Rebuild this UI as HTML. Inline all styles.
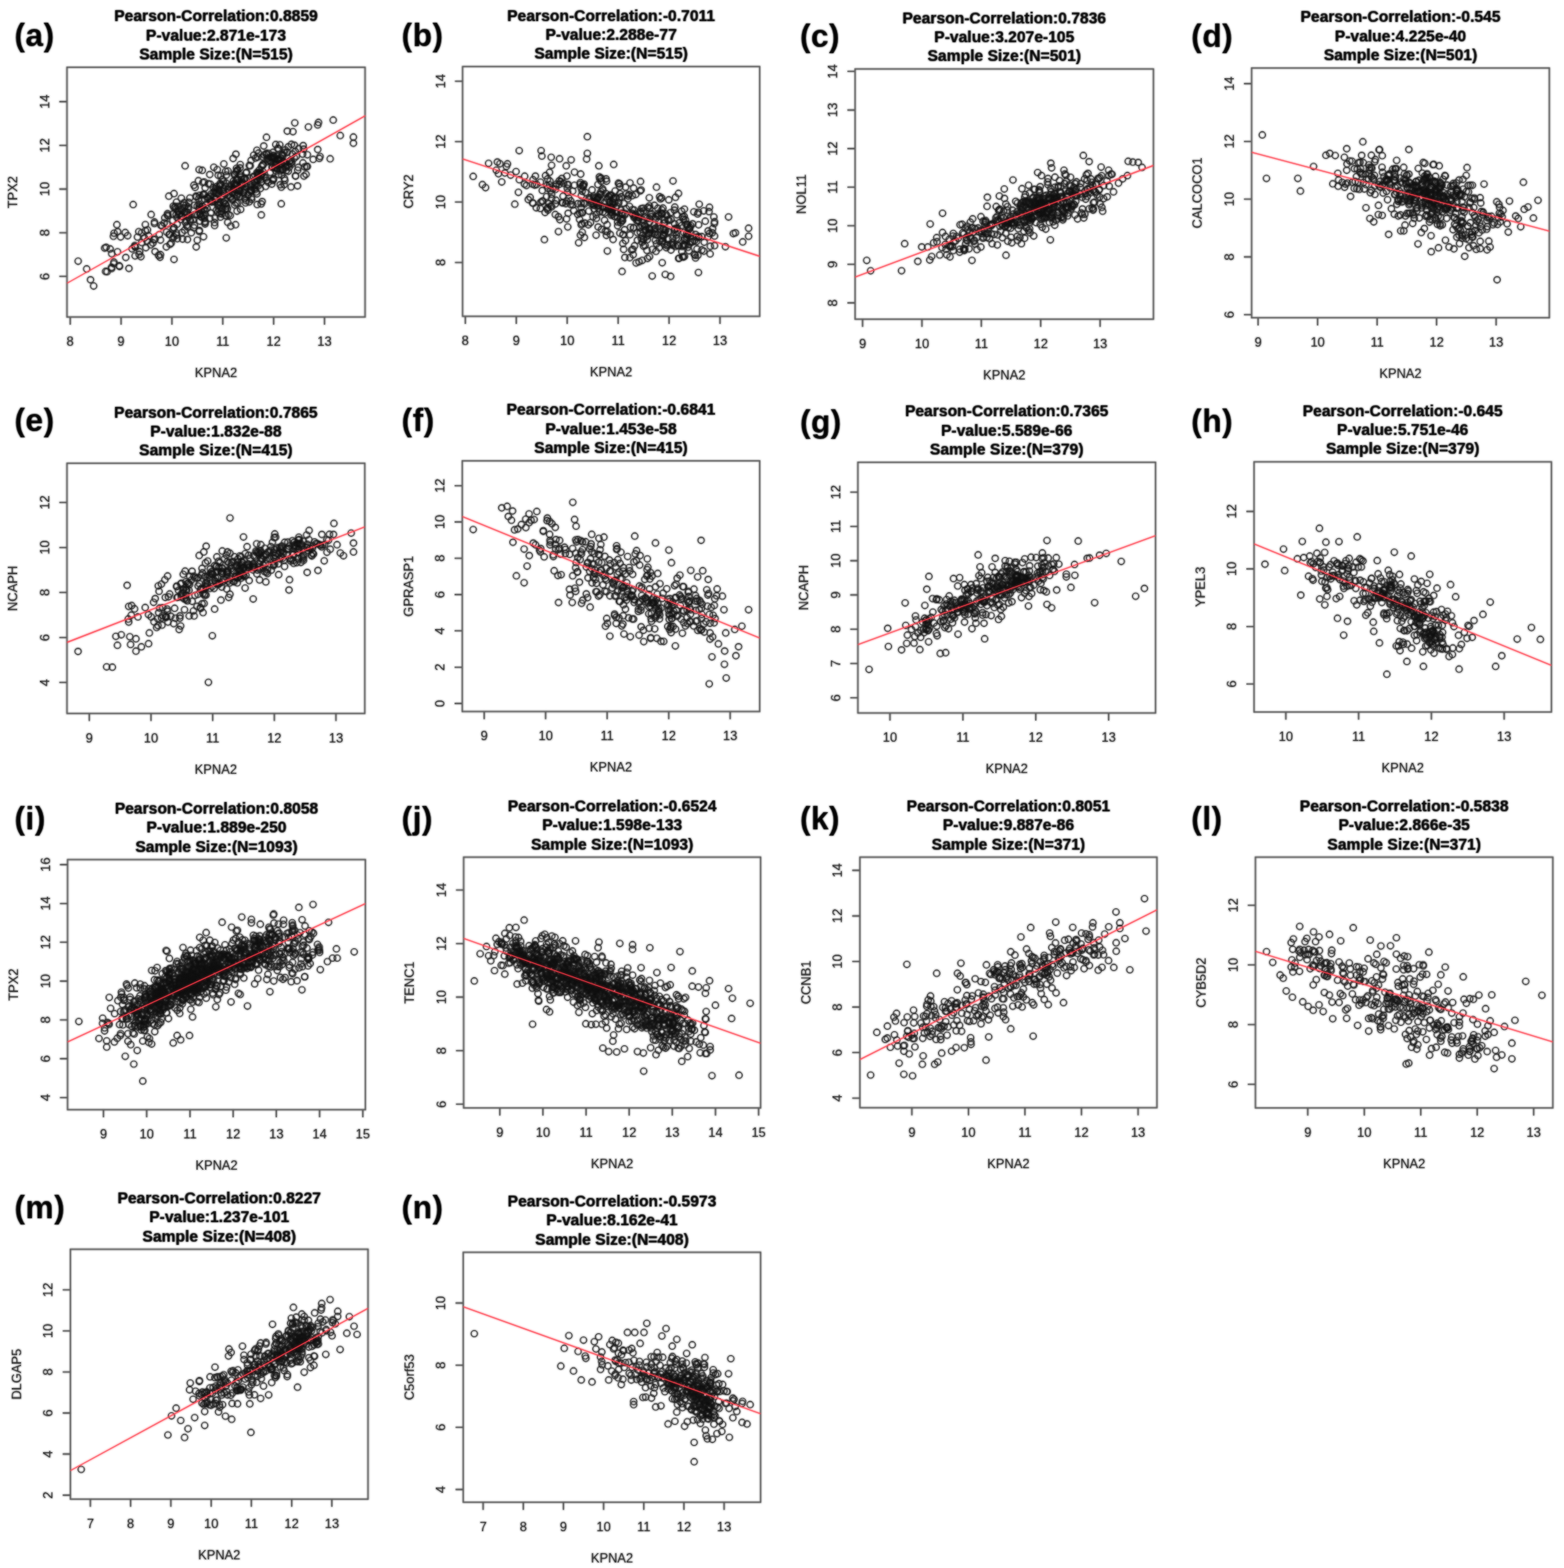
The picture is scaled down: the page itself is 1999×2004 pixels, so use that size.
<!DOCTYPE html><html><head><meta charset="utf-8"><style>html,body{margin:0;padding:0;background:#fff;overflow:hidden}svg{display:block}text{font-family:"Liberation Sans",Arial,Helvetica,sans-serif;fill:#000}.t{font-weight:bold;font-size:20px;text-anchor:middle;stroke:#000;stroke-width:0.22px}.l{font-weight:bold;font-size:40.5px;letter-spacing:0.6px}.k{font-size:16.5px;text-anchor:middle;fill:#1a1a1a}.a{font-size:16.5px;text-anchor:middle;fill:#1a1a1a}.c circle{r:4.05px;fill:none;stroke:#111;stroke-width:1.15}.bx{fill:none;stroke:#555;stroke-width:1.7}.tk{stroke:#444;stroke-width:1.6}.rl{stroke:#ff3a48;stroke-width:1.35}</style></head><body><svg width="1999" height="2004" viewBox="0 0 1999 2004"><defs><filter id="bl" x="-1%" y="-1%" width="102%" height="102%"><feGaussianBlur stdDeviation="1"/></filter></defs><use href="#G" filter="url(#bl)"/><g opacity="0.6"><g id="G"><text class="l" x="18.5" y="59">(a)</text><text class="t" x="276.1" y="27.4">Pearson-Correlation:0.8859</text><text class="t" x="276.1" y="51.7">P-value:2.871e-173</text><text class="t" x="276.1" y="76">Sample Size:(N=515)</text><text class="k" x="89.7" y="442.2">8</text><text class="k" x="154.7" y="442.2">9</text><text class="k" x="219.7" y="442.2">10</text><text class="k" x="284.7" y="442.2">11</text><text class="k" x="349.7" y="442.2">12</text><text class="k" x="414.7" y="442.2">13</text><text class="k" transform="translate(62.9 353.3) rotate(-90)">6</text><text class="k" transform="translate(62.9 297.5) rotate(-90)">8</text><text class="k" transform="translate(62.9 241.6) rotate(-90)">10</text><text class="k" transform="translate(62.9 185.8) rotate(-90)">12</text><text class="k" transform="translate(62.9 129.9) rotate(-90)">14</text><path class="tk" d="M89.7 405.2v9.8M154.7 405.2v9.8M219.7 405.2v9.8M284.7 405.2v9.8M349.7 405.2v9.8M414.7 405.2v9.8M85.6 353.3h-9.8M85.6 297.5h-9.8M85.6 241.6h-9.8M85.6 185.8h-9.8M85.6 129.9h-9.8"/><text class="a" x="276.1" y="482.2">KPNA2</text><text class="a" transform="translate(22.3 245.6) rotate(-90)">TPX2</text><g class="c"><circle cx="133.8" cy="317.0"/><circle cx="203.6" cy="299.8"/><circle cx="164.8" cy="343.1"/><circle cx="168.8" cy="318.0"/><circle cx="173.0" cy="315.9"/><circle cx="160.8" cy="329.1"/><circle cx="145.6" cy="334.9"/><circle cx="192.8" cy="312.9"/><circle cx="186.4" cy="316.6"/><circle cx="135.0" cy="346.9"/><circle cx="220.9" cy="273.6"/><circle cx="198.2" cy="305.8"/><circle cx="145.0" cy="301.9"/><circle cx="196.5" cy="306.2"/><circle cx="154.2" cy="302.8"/><circle cx="172.3" cy="313.8"/><circle cx="195.5" cy="310.4"/><circle cx="142.8" cy="324.2"/><circle cx="187.9" cy="308.0"/><circle cx="193.2" cy="274.2"/><circle cx="197.4" cy="285.7"/><circle cx="172.7" cy="327.0"/><circle cx="185.8" cy="287.0"/><circle cx="142.7" cy="343.2"/><circle cx="160.1" cy="297.2"/><circle cx="177.4" cy="296.0"/><circle cx="135.7" cy="316.1"/><circle cx="172.4" cy="315.1"/><circle cx="217.0" cy="299.4"/><circle cx="225.0" cy="266.6"/><circle cx="190.3" cy="301.7"/><circle cx="205.1" cy="325.4"/><circle cx="150.2" cy="321.8"/><circle cx="140.8" cy="318.2"/><circle cx="145.4" cy="337.0"/><circle cx="184.7" cy="304.1"/><circle cx="185.8" cy="295.0"/><circle cx="145.8" cy="298.0"/><circle cx="152.8" cy="340.5"/><circle cx="175.7" cy="303.0"/><circle cx="181.2" cy="310.0"/><circle cx="163.2" cy="301.3"/><circle cx="212.6" cy="315.5"/><circle cx="177.8" cy="325.2"/><circle cx="180.1" cy="328.0"/><circle cx="215.8" cy="250.7"/><circle cx="240.6" cy="264.5"/><circle cx="261.2" cy="278.9"/><circle cx="262.2" cy="273.6"/><circle cx="241.8" cy="274.9"/><circle cx="231.7" cy="276.4"/><circle cx="239.6" cy="306.1"/><circle cx="221.0" cy="293.5"/><circle cx="220.8" cy="304.7"/><circle cx="246.7" cy="281.0"/><circle cx="225.1" cy="274.3"/><circle cx="202.6" cy="326.4"/><circle cx="222.8" cy="265.5"/><circle cx="250.5" cy="250.7"/><circle cx="226.2" cy="277.9"/><circle cx="188.5" cy="293.8"/><circle cx="228.6" cy="274.3"/><circle cx="248.7" cy="262.3"/><circle cx="247.7" cy="291.0"/><circle cx="226.4" cy="286.4"/><circle cx="279.8" cy="261.7"/><circle cx="266.3" cy="234.9"/><circle cx="227.0" cy="270.1"/><circle cx="262.1" cy="284.6"/><circle cx="235.4" cy="259.1"/><circle cx="262.1" cy="286.3"/><circle cx="260.5" cy="248.0"/><circle cx="256.3" cy="273.9"/><circle cx="231.2" cy="267.7"/><circle cx="222.4" cy="291.1"/><circle cx="210.6" cy="278.4"/><circle cx="233.1" cy="277.1"/><circle cx="274.3" cy="288.2"/><circle cx="239.6" cy="271.4"/><circle cx="252.2" cy="307.0"/><circle cx="238.0" cy="270.8"/><circle cx="227.6" cy="263.9"/><circle cx="248.5" cy="274.4"/><circle cx="207.3" cy="288.9"/><circle cx="204.5" cy="328.8"/><circle cx="232.6" cy="297.2"/><circle cx="218.8" cy="310.7"/><circle cx="276.7" cy="268.4"/><circle cx="250.8" cy="315.6"/><circle cx="236.0" cy="294.2"/><circle cx="205.1" cy="306.8"/><circle cx="235.7" cy="265.5"/><circle cx="214.8" cy="275.9"/><circle cx="262.2" cy="268.6"/><circle cx="262.1" cy="283.1"/><circle cx="226.7" cy="305.1"/><circle cx="237.7" cy="262.3"/><circle cx="178.5" cy="321.7"/><circle cx="222.0" cy="291.3"/><circle cx="255.2" cy="249.5"/><circle cx="257.3" cy="277.2"/><circle cx="222.4" cy="247.4"/><circle cx="237.0" cy="284.2"/><circle cx="222.4" cy="331.5"/><circle cx="197.4" cy="283.7"/><circle cx="240.8" cy="277.7"/><circle cx="260.9" cy="232.5"/><circle cx="181.1" cy="297.5"/><circle cx="255.5" cy="282.5"/><circle cx="241.3" cy="258.6"/><circle cx="256.7" cy="267.8"/><circle cx="213.4" cy="286.4"/><circle cx="220.9" cy="281.8"/><circle cx="238.1" cy="282.2"/><circle cx="216.2" cy="299.7"/><circle cx="217.3" cy="312.3"/><circle cx="222.1" cy="302.6"/><circle cx="229.8" cy="273.5"/><circle cx="254.8" cy="294.6"/><circle cx="244.5" cy="297.4"/><circle cx="225.6" cy="258.3"/><circle cx="225.3" cy="297.8"/><circle cx="225.7" cy="300.5"/><circle cx="268.1" cy="279.1"/><circle cx="238.6" cy="288.3"/><circle cx="224.0" cy="263.8"/><circle cx="254.7" cy="264.8"/><circle cx="247.8" cy="236.7"/><circle cx="263.1" cy="262.1"/><circle cx="260.1" cy="302.5"/><circle cx="239.7" cy="290.1"/><circle cx="248.5" cy="287.9"/><circle cx="235.8" cy="271.1"/><circle cx="259.4" cy="248.9"/><circle cx="234.1" cy="262.1"/><circle cx="250.9" cy="273.9"/><circle cx="228.9" cy="269.8"/><circle cx="261.6" cy="254.4"/><circle cx="198.2" cy="321.6"/><circle cx="231.8" cy="253.3"/><circle cx="242.7" cy="253.0"/><circle cx="205.7" cy="288.0"/><circle cx="283.2" cy="251.8"/><circle cx="231.3" cy="280.4"/><circle cx="221.5" cy="263.5"/><circle cx="212.9" cy="296.5"/><circle cx="254.4" cy="267.4"/><circle cx="243.4" cy="282.2"/><circle cx="214.2" cy="273.1"/><circle cx="242.6" cy="280.7"/><circle cx="252.7" cy="274.6"/><circle cx="257.9" cy="256.0"/><circle cx="238.8" cy="274.6"/><circle cx="209.8" cy="284.9"/><circle cx="233.4" cy="305.6"/><circle cx="214.0" cy="275.0"/><circle cx="269.4" cy="272.1"/><circle cx="254.4" cy="261.0"/><circle cx="278.9" cy="224.1"/><circle cx="268.1" cy="223.1"/><circle cx="291.9" cy="249.4"/><circle cx="314.5" cy="221.0"/><circle cx="258.3" cy="263.5"/><circle cx="275.3" cy="246.1"/><circle cx="292.4" cy="238.8"/><circle cx="268.7" cy="256.0"/><circle cx="301.9" cy="219.7"/><circle cx="309.5" cy="235.6"/><circle cx="289.5" cy="263.2"/><circle cx="260.0" cy="275.0"/><circle cx="330.4" cy="195.7"/><circle cx="303.9" cy="217.1"/><circle cx="302.7" cy="217.9"/><circle cx="301.2" cy="236.5"/><circle cx="306.8" cy="251.4"/><circle cx="324.9" cy="232.5"/><circle cx="288.4" cy="219.0"/><circle cx="285.1" cy="250.5"/><circle cx="325.1" cy="240.3"/><circle cx="299.5" cy="234.2"/><circle cx="294.3" cy="275.5"/><circle cx="273.0" cy="245.7"/><circle cx="339.5" cy="238.2"/><circle cx="333.8" cy="260.7"/><circle cx="343.4" cy="196.0"/><circle cx="285.1" cy="244.2"/><circle cx="285.8" cy="258.6"/><circle cx="334.0" cy="274.7"/><circle cx="324.3" cy="198.3"/><circle cx="320.5" cy="239.0"/><circle cx="314.3" cy="237.8"/><circle cx="347.0" cy="207.9"/><circle cx="275.9" cy="241.0"/><circle cx="265.0" cy="252.2"/><circle cx="279.6" cy="247.7"/><circle cx="284.0" cy="229.4"/><circle cx="321.7" cy="254.8"/><circle cx="319.8" cy="211.9"/><circle cx="308.6" cy="229.4"/><circle cx="335.9" cy="210.2"/><circle cx="276.7" cy="247.5"/><circle cx="351.1" cy="214.0"/><circle cx="274.7" cy="243.0"/><circle cx="329.8" cy="220.6"/><circle cx="288.8" cy="275.7"/><circle cx="317.3" cy="248.8"/><circle cx="300.4" cy="236.3"/><circle cx="320.8" cy="244.4"/><circle cx="315.2" cy="220.1"/><circle cx="297.1" cy="246.5"/><circle cx="289.3" cy="223.8"/><circle cx="299.3" cy="222.9"/><circle cx="261.2" cy="248.8"/><circle cx="290.7" cy="266.7"/><circle cx="260.5" cy="267.1"/><circle cx="305.0" cy="247.3"/><circle cx="359.7" cy="210.2"/><circle cx="322.8" cy="234.4"/><circle cx="281.5" cy="258.4"/><circle cx="288.1" cy="260.4"/><circle cx="327.5" cy="228.4"/><circle cx="282.4" cy="236.1"/><circle cx="253.8" cy="254.2"/><circle cx="283.0" cy="270.6"/><circle cx="283.6" cy="273.5"/><circle cx="278.5" cy="262.4"/><circle cx="307.1" cy="210.3"/><circle cx="313.9" cy="259.2"/><circle cx="264.7" cy="266.3"/><circle cx="286.5" cy="247.5"/><circle cx="271.7" cy="257.4"/><circle cx="267.1" cy="253.6"/><circle cx="274.3" cy="284.4"/><circle cx="358.1" cy="236.1"/><circle cx="285.6" cy="231.8"/><circle cx="314.7" cy="229.9"/><circle cx="325.7" cy="231.7"/><circle cx="300.0" cy="262.1"/><circle cx="298.0" cy="202.6"/><circle cx="321.6" cy="244.3"/><circle cx="318.5" cy="258.1"/><circle cx="355.0" cy="204.9"/><circle cx="308.1" cy="235.8"/><circle cx="303.8" cy="259.4"/><circle cx="320.4" cy="235.8"/><circle cx="337.8" cy="198.0"/><circle cx="318.6" cy="211.4"/><circle cx="281.4" cy="234.6"/><circle cx="268.8" cy="235.3"/><circle cx="276.8" cy="253.9"/><circle cx="280.2" cy="243.6"/><circle cx="311.3" cy="235.3"/><circle cx="327.8" cy="236.9"/><circle cx="254.6" cy="295.7"/><circle cx="302.0" cy="243.4"/><circle cx="259.3" cy="233.3"/><circle cx="328.4" cy="247.8"/><circle cx="323.8" cy="225.6"/><circle cx="288.9" cy="266.3"/><circle cx="286.1" cy="241.3"/><circle cx="278.4" cy="258.0"/><circle cx="310.1" cy="233.0"/><circle cx="259.0" cy="263.5"/><circle cx="280.7" cy="272.7"/><circle cx="278.6" cy="242.2"/><circle cx="333.9" cy="224.6"/><circle cx="364.8" cy="208.2"/><circle cx="298.7" cy="235.3"/><circle cx="253.6" cy="230.9"/><circle cx="305.3" cy="243.7"/><circle cx="258.5" cy="217.7"/><circle cx="302.3" cy="215.0"/><circle cx="268.8" cy="250.9"/><circle cx="294.4" cy="251.1"/><circle cx="306.6" cy="251.3"/><circle cx="320.2" cy="243.1"/><circle cx="303.1" cy="249.0"/><circle cx="331.2" cy="217.4"/><circle cx="312.7" cy="253.7"/><circle cx="252.0" cy="263.5"/><circle cx="332.7" cy="240.9"/><circle cx="277.7" cy="216.8"/><circle cx="276.9" cy="238.3"/><circle cx="336.0" cy="211.3"/><circle cx="275.2" cy="254.8"/><circle cx="286.1" cy="209.5"/><circle cx="288.2" cy="260.9"/><circle cx="342.9" cy="233.1"/><circle cx="297.0" cy="255.5"/><circle cx="303.4" cy="230.5"/><circle cx="275.0" cy="278.8"/><circle cx="334.3" cy="212.7"/><circle cx="279.6" cy="267.3"/><circle cx="324.1" cy="226.4"/><circle cx="329.7" cy="224.0"/><circle cx="331.8" cy="220.6"/><circle cx="347.8" cy="213.8"/><circle cx="278.4" cy="271.3"/><circle cx="321.4" cy="252.5"/><circle cx="314.5" cy="256.2"/><circle cx="318.2" cy="245.6"/><circle cx="334.1" cy="232.8"/><circle cx="306.9" cy="244.5"/><circle cx="292.1" cy="274.2"/><circle cx="295.3" cy="236.3"/><circle cx="336.4" cy="210.1"/><circle cx="270.7" cy="258.2"/><circle cx="291.4" cy="218.5"/><circle cx="273.8" cy="251.7"/><circle cx="329.3" cy="223.6"/><circle cx="251.0" cy="251.6"/><circle cx="288.1" cy="238.2"/><circle cx="302.6" cy="250.9"/><circle cx="302.4" cy="235.8"/><circle cx="362.7" cy="207.0"/><circle cx="348.5" cy="230.7"/><circle cx="270.0" cy="247.8"/><circle cx="348.9" cy="194.7"/><circle cx="269.7" cy="257.3"/><circle cx="255.4" cy="272.9"/><circle cx="249.4" cy="239.6"/><circle cx="310.8" cy="245.6"/><circle cx="312.6" cy="228.7"/><circle cx="240.7" cy="267.4"/><circle cx="306.2" cy="223.4"/><circle cx="292.7" cy="242.0"/><circle cx="326.0" cy="242.2"/><circle cx="294.7" cy="252.6"/><circle cx="330.0" cy="237.4"/><circle cx="313.0" cy="227.7"/><circle cx="281.7" cy="277.4"/><circle cx="347.4" cy="235.3"/><circle cx="306.4" cy="237.1"/><circle cx="301.5" cy="197.1"/><circle cx="334.1" cy="222.9"/><circle cx="295.0" cy="289.0"/><circle cx="298.4" cy="241.0"/><circle cx="272.6" cy="239.7"/><circle cx="288.5" cy="275.5"/><circle cx="303.6" cy="229.0"/><circle cx="313.3" cy="241.7"/><circle cx="340.9" cy="230.7"/><circle cx="326.6" cy="202.0"/><circle cx="301.3" cy="242.4"/><circle cx="287.7" cy="267.6"/><circle cx="381.7" cy="189.9"/><circle cx="361.3" cy="217.4"/><circle cx="298.1" cy="241.8"/><circle cx="284.1" cy="266.9"/><circle cx="303.0" cy="269.8"/><circle cx="300.6" cy="222.8"/><circle cx="328.4" cy="220.5"/><circle cx="328.9" cy="231.4"/><circle cx="307.9" cy="226.4"/><circle cx="288.9" cy="233.9"/><circle cx="303.0" cy="233.8"/><circle cx="291.1" cy="241.7"/><circle cx="298.3" cy="231.4"/><circle cx="300.7" cy="246.2"/><circle cx="320.3" cy="243.0"/><circle cx="257.4" cy="277.3"/><circle cx="296.8" cy="254.1"/><circle cx="301.8" cy="259.7"/><circle cx="262.2" cy="240.1"/><circle cx="295.8" cy="241.7"/><circle cx="275.1" cy="258.3"/><circle cx="287.5" cy="256.8"/><circle cx="282.3" cy="224.7"/><circle cx="307.6" cy="267.7"/><circle cx="280.0" cy="237.9"/><circle cx="331.5" cy="227.8"/><circle cx="311.4" cy="246.9"/><circle cx="317.0" cy="249.4"/><circle cx="302.3" cy="228.7"/><circle cx="279.9" cy="243.6"/><circle cx="354.9" cy="189.5"/><circle cx="369.9" cy="206.4"/><circle cx="388.5" cy="225.1"/><circle cx="372.0" cy="238.9"/><circle cx="345.5" cy="220.2"/><circle cx="321.0" cy="205.1"/><circle cx="387.5" cy="186.1"/><circle cx="333.6" cy="229.2"/><circle cx="373.0" cy="206.9"/><circle cx="362.6" cy="207.2"/><circle cx="380.5" cy="217.5"/><circle cx="368.5" cy="187.6"/><circle cx="367.2" cy="167.6"/><circle cx="349.4" cy="198.6"/><circle cx="356.1" cy="190.2"/><circle cx="335.1" cy="257.6"/><circle cx="356.2" cy="206.1"/><circle cx="329.4" cy="200.8"/><circle cx="358.0" cy="218.2"/><circle cx="387.2" cy="208.2"/><circle cx="359.1" cy="208.4"/><circle cx="378.8" cy="199.7"/><circle cx="360.0" cy="223.8"/><circle cx="367.9" cy="211.0"/><circle cx="343.9" cy="204.6"/><circle cx="312.4" cy="243.4"/><circle cx="349.6" cy="228.1"/><circle cx="354.0" cy="216.0"/><circle cx="365.8" cy="218.1"/><circle cx="360.8" cy="216.1"/><circle cx="352.6" cy="207.3"/><circle cx="373.7" cy="196.9"/><circle cx="372.9" cy="209.8"/><circle cx="345.3" cy="206.2"/><circle cx="381.3" cy="213.9"/><circle cx="327.5" cy="245.2"/><circle cx="337.1" cy="186.6"/><circle cx="353.4" cy="209.6"/><circle cx="376.3" cy="185.6"/><circle cx="342.1" cy="206.7"/><circle cx="329.8" cy="226.4"/><circle cx="358.9" cy="204.8"/><circle cx="392.9" cy="197.8"/><circle cx="355.0" cy="215.1"/><circle cx="357.5" cy="214.5"/><circle cx="347.4" cy="201.3"/><circle cx="355.3" cy="203.9"/><circle cx="391.7" cy="213.0"/><circle cx="376.8" cy="157.0"/><circle cx="377.8" cy="225.1"/><circle cx="350.9" cy="202.9"/><circle cx="400.3" cy="203.7"/><circle cx="340.6" cy="175.4"/><circle cx="355.2" cy="202.9"/><circle cx="356.0" cy="223.1"/><circle cx="351.9" cy="214.0"/><circle cx="368.5" cy="218.8"/><circle cx="345.3" cy="200.9"/><circle cx="360.9" cy="197.3"/><circle cx="354.0" cy="199.6"/><circle cx="371.0" cy="209.1"/><circle cx="352.8" cy="218.6"/><circle cx="352.2" cy="209.3"/><circle cx="359.7" cy="202.9"/><circle cx="356.1" cy="204.4"/><circle cx="359.4" cy="208.8"/><circle cx="372.5" cy="184.4"/><circle cx="336.1" cy="219.5"/><circle cx="319.0" cy="227.7"/><circle cx="366.9" cy="194.3"/><circle cx="348.3" cy="204.2"/><circle cx="392.8" cy="212.7"/><circle cx="351.0" cy="202.0"/><circle cx="337.5" cy="226.3"/><circle cx="408.1" cy="202.4"/><circle cx="369.7" cy="213.7"/><circle cx="348.4" cy="213.8"/><circle cx="349.6" cy="229.4"/><circle cx="357.6" cy="185.0"/><circle cx="335.4" cy="200.6"/><circle cx="361.5" cy="199.7"/><circle cx="377.4" cy="193.6"/><circle cx="329.8" cy="222.4"/><circle cx="363.2" cy="236.0"/><circle cx="377.7" cy="224.7"/><circle cx="388.1" cy="190.6"/><circle cx="376.3" cy="202.0"/><circle cx="341.8" cy="202.3"/><circle cx="386.8" cy="197.1"/><circle cx="340.6" cy="195.9"/><circle cx="363.5" cy="227.9"/><circle cx="360.3" cy="198.3"/><circle cx="339.9" cy="227.4"/><circle cx="406.1" cy="159.7"/><circle cx="389.3" cy="213.3"/><circle cx="365.2" cy="214.1"/><circle cx="359.6" cy="239.2"/><circle cx="335.2" cy="222.0"/><circle cx="352.5" cy="184.7"/><circle cx="364.5" cy="191.6"/><circle cx="340.4" cy="197.4"/><circle cx="364.1" cy="230.5"/><circle cx="363.0" cy="195.1"/><circle cx="350.3" cy="200.1"/><circle cx="325.6" cy="236.0"/><circle cx="371.2" cy="205.0"/><circle cx="364.8" cy="212.3"/><circle cx="367.1" cy="194.8"/><circle cx="328.4" cy="192.0"/><circle cx="306.8" cy="214.6"/><circle cx="374.4" cy="168.3"/><circle cx="394.2" cy="162.3"/><circle cx="407.1" cy="156.4"/><circle cx="425.9" cy="153.4"/><circle cx="434.9" cy="173.2"/><circle cx="451.7" cy="175.2"/><circle cx="451.7" cy="183.1"/><circle cx="406.1" cy="191.1"/><circle cx="409.1" cy="200.0"/><circle cx="422.0" cy="202.9"/><circle cx="391.2" cy="222.8"/><circle cx="380.3" cy="237.6"/><circle cx="359.5" cy="260.4"/><circle cx="328.8" cy="261.4"/><circle cx="289.2" cy="304.0"/><circle cx="291.1" cy="284.2"/><circle cx="301.1" cy="287.2"/><circle cx="236.6" cy="211.9"/><circle cx="170.2" cy="261.4"/><circle cx="254.5" cy="216.8"/><circle cx="273.3" cy="213.8"/><circle cx="99.9" cy="333.8"/><circle cx="110.8" cy="343.7"/><circle cx="115.7" cy="357.6"/><circle cx="119.7" cy="365.5"/><circle cx="136.9" cy="347.2"/><circle cx="142.5" cy="341.7"/><circle cx="152.4" cy="339.7"/><circle cx="149.4" cy="287.2"/><circle cx="150.4" cy="296.1"/></g><rect class="bx" x="85.6" y="86" width="381" height="319.2"/><line class="rl" x1="85.6" y1="362.0" x2="467.0" y2="147.9"/><text class="l" x="513.3" y="59">(b)</text><text class="t" x="781.1" y="26.5">Pearson-Correlation:-0.7011</text><text class="t" x="781.1" y="50.8">P-value:2.288e-77</text><text class="t" x="781.1" y="75.1">Sample Size:(N=515)</text><text class="k" x="594.7" y="441.3">8</text><text class="k" x="659.8" y="441.3">9</text><text class="k" x="724.9" y="441.3">10</text><text class="k" x="790.1" y="441.3">11</text><text class="k" x="855.2" y="441.3">12</text><text class="k" x="920.3" y="441.3">13</text><text class="k" transform="translate(568.6 335.5) rotate(-90)">8</text><text class="k" transform="translate(568.6 258.3) rotate(-90)">10</text><text class="k" transform="translate(568.6 181) rotate(-90)">12</text><text class="k" transform="translate(568.6 103.8) rotate(-90)">14</text><path class="tk" d="M594.7 404.3v9.8M659.8 404.3v9.8M724.9 404.3v9.8M790.1 404.3v9.8M855.2 404.3v9.8M920.3 404.3v9.8M591.3 335.5h-9.8M591.3 258.3h-9.8M591.3 181h-9.8M591.3 103.8h-9.8"/><text class="a" x="781.1" y="481.3">KPNA2</text><text class="a" transform="translate(528 244.7) rotate(-90)">CRY2</text><g class="c"><circle cx="645.3" cy="221.1"/><circle cx="719.4" cy="259.3"/><circle cx="709.7" cy="260.7"/><circle cx="685.9" cy="235.8"/><circle cx="705.0" cy="253.4"/><circle cx="710.0" cy="241.9"/><circle cx="710.3" cy="238.2"/><circle cx="706.7" cy="241.2"/><circle cx="710.6" cy="255.9"/><circle cx="702.4" cy="220.2"/><circle cx="648.6" cy="209.4"/><circle cx="635.7" cy="207.1"/><circle cx="725.1" cy="240.8"/><circle cx="700.5" cy="265.2"/><circle cx="637.1" cy="222.1"/><circle cx="699.1" cy="237.2"/><circle cx="672.9" cy="237.1"/><circle cx="675.2" cy="255.1"/><circle cx="639.0" cy="209.3"/><circle cx="705.1" cy="264.2"/><circle cx="704.5" cy="201.0"/><circle cx="716.7" cy="232.2"/><circle cx="709.8" cy="274.2"/><circle cx="713.8" cy="277.1"/><circle cx="729.5" cy="256.7"/><circle cx="702.3" cy="236.3"/><circle cx="693.7" cy="256.9"/><circle cx="681.3" cy="229.7"/><circle cx="696.7" cy="271.5"/><circle cx="681.4" cy="259.7"/><circle cx="662.6" cy="245.8"/><circle cx="725.1" cy="236.0"/><circle cx="704.1" cy="263.2"/><circle cx="634.3" cy="217.5"/><circle cx="652.7" cy="223.8"/><circle cx="690.8" cy="232.8"/><circle cx="663.8" cy="229.7"/><circle cx="718.3" cy="259.1"/><circle cx="692.8" cy="257.3"/><circle cx="701.6" cy="260.3"/><circle cx="695.8" cy="306.2"/><circle cx="725.6" cy="245.9"/><circle cx="680.8" cy="259.4"/><circle cx="711.3" cy="235.3"/><circle cx="700.3" cy="240.5"/><circle cx="718.1" cy="228.1"/><circle cx="699.4" cy="266.6"/><circle cx="724.3" cy="256.9"/><circle cx="705.0" cy="248.2"/><circle cx="683.4" cy="236.5"/><circle cx="691.1" cy="258.6"/><circle cx="670.6" cy="225.2"/><circle cx="698.6" cy="251.3"/><circle cx="713.8" cy="296.0"/><circle cx="680.6" cy="235.3"/><circle cx="659.6" cy="219.3"/><circle cx="697.3" cy="224.4"/><circle cx="677.6" cy="252.2"/><circle cx="693.1" cy="243.4"/><circle cx="684.3" cy="225.1"/><circle cx="699.9" cy="228.7"/><circle cx="670.3" cy="235.2"/><circle cx="734.2" cy="236.8"/><circle cx="804.9" cy="329.3"/><circle cx="755.8" cy="260.6"/><circle cx="764.3" cy="235.8"/><circle cx="761.3" cy="253.3"/><circle cx="714.8" cy="231.1"/><circle cx="719.7" cy="250.7"/><circle cx="753.1" cy="252.5"/><circle cx="746.9" cy="303.6"/><circle cx="723.2" cy="260.3"/><circle cx="799.5" cy="307.4"/><circle cx="779.6" cy="249.9"/><circle cx="800.3" cy="266.5"/><circle cx="783.6" cy="306.1"/><circle cx="766.1" cy="226.1"/><circle cx="830.6" cy="283.4"/><circle cx="775.2" cy="231.6"/><circle cx="700.3" cy="268.5"/><circle cx="705.0" cy="211.3"/><circle cx="764.5" cy="252.9"/><circle cx="788.3" cy="263.2"/><circle cx="774.6" cy="228.6"/><circle cx="797.1" cy="318.7"/><circle cx="755.2" cy="252.5"/><circle cx="768.9" cy="293.1"/><circle cx="787.5" cy="252.6"/><circle cx="742.2" cy="222.4"/><circle cx="770.0" cy="265.0"/><circle cx="771.8" cy="265.0"/><circle cx="776.3" cy="320.8"/><circle cx="803.0" cy="250.4"/><circle cx="799.6" cy="239.2"/><circle cx="745.3" cy="238.5"/><circle cx="781.6" cy="270.4"/><circle cx="789.5" cy="278.2"/><circle cx="768.0" cy="245.0"/><circle cx="785.8" cy="258.8"/><circle cx="781.1" cy="275.0"/><circle cx="789.5" cy="288.6"/><circle cx="768.2" cy="248.1"/><circle cx="775.2" cy="264.8"/><circle cx="784.4" cy="210.2"/><circle cx="770.1" cy="241.2"/><circle cx="742.7" cy="260.0"/><circle cx="753.1" cy="254.7"/><circle cx="732.0" cy="244.3"/><circle cx="747.4" cy="285.1"/><circle cx="783.5" cy="259.1"/><circle cx="786.3" cy="244.0"/><circle cx="782.2" cy="268.6"/><circle cx="758.0" cy="260.6"/><circle cx="808.2" cy="250.1"/><circle cx="743.6" cy="271.7"/><circle cx="773.9" cy="295.6"/><circle cx="777.6" cy="251.1"/><circle cx="746.5" cy="235.3"/><circle cx="743.0" cy="249.9"/><circle cx="776.0" cy="287.2"/><circle cx="766.7" cy="248.1"/><circle cx="774.3" cy="247.3"/><circle cx="852.3" cy="275.6"/><circle cx="776.9" cy="267.5"/><circle cx="764.5" cy="262.9"/><circle cx="784.1" cy="261.6"/><circle cx="738.5" cy="274.1"/><circle cx="744.2" cy="296.8"/><circle cx="778.3" cy="251.6"/><circle cx="733.4" cy="269.2"/><circle cx="760.0" cy="262.6"/><circle cx="739.6" cy="310.3"/><circle cx="770.7" cy="243.2"/><circle cx="714.9" cy="235.6"/><circle cx="811.6" cy="276.2"/><circle cx="768.4" cy="231.5"/><circle cx="779.2" cy="259.3"/><circle cx="729.2" cy="261.3"/><circle cx="734.3" cy="220.0"/><circle cx="762.5" cy="260.6"/><circle cx="742.9" cy="287.2"/><circle cx="784.3" cy="253.2"/><circle cx="741.9" cy="233.3"/><circle cx="749.8" cy="203.3"/><circle cx="772.5" cy="259.1"/><circle cx="791.8" cy="235.1"/><circle cx="785.2" cy="276.5"/><circle cx="752.0" cy="287.3"/><circle cx="766.6" cy="270.4"/><circle cx="744.9" cy="236.4"/><circle cx="795.7" cy="281.9"/><circle cx="797.3" cy="260.0"/><circle cx="800.3" cy="247.8"/><circle cx="720.4" cy="234.2"/><circle cx="785.8" cy="270.3"/><circle cx="744.1" cy="244.6"/><circle cx="773.2" cy="271.9"/><circle cx="761.9" cy="300.5"/><circle cx="793.1" cy="280.2"/><circle cx="752.6" cy="269.8"/><circle cx="756.7" cy="242.7"/><circle cx="726.2" cy="272.6"/><circle cx="727.0" cy="253.3"/><circle cx="772.7" cy="281.4"/><circle cx="741.4" cy="235.5"/><circle cx="779.8" cy="268.2"/><circle cx="765.4" cy="211.9"/><circle cx="748.4" cy="246.1"/><circle cx="794.1" cy="251.4"/><circle cx="792.3" cy="247.5"/><circle cx="724.2" cy="279.8"/><circle cx="766.5" cy="228.5"/><circle cx="762.8" cy="254.9"/><circle cx="781.6" cy="261.2"/><circle cx="738.4" cy="260.4"/><circle cx="744.4" cy="271.9"/><circle cx="768.3" cy="227.6"/><circle cx="784.7" cy="254.2"/><circle cx="791.3" cy="253.1"/><circle cx="742.8" cy="265.1"/><circle cx="805.8" cy="290.5"/><circle cx="776.4" cy="254.0"/><circle cx="742.9" cy="240.4"/><circle cx="724.5" cy="225.0"/><circle cx="745.9" cy="259.4"/><circle cx="685.4" cy="265.6"/><circle cx="764.9" cy="265.9"/><circle cx="781.8" cy="249.8"/><circle cx="802.5" cy="254.0"/><circle cx="780.1" cy="249.1"/><circle cx="723.7" cy="211.9"/><circle cx="743.8" cy="285.9"/><circle cx="781.1" cy="265.0"/><circle cx="703.0" cy="231.4"/><circle cx="725.7" cy="290.0"/><circle cx="778.1" cy="267.0"/><circle cx="754.7" cy="284.5"/><circle cx="703.9" cy="243.7"/><circle cx="741.2" cy="272.4"/><circle cx="762.1" cy="258.7"/><circle cx="822.4" cy="269.7"/><circle cx="747.2" cy="260.6"/><circle cx="732.2" cy="261.8"/><circle cx="762.4" cy="279.1"/><circle cx="770.1" cy="263.9"/><circle cx="779.4" cy="258.0"/><circle cx="804.6" cy="263.8"/><circle cx="758.3" cy="262.2"/><circle cx="726.3" cy="235.9"/><circle cx="765.1" cy="251.7"/><circle cx="759.3" cy="267.1"/><circle cx="785.7" cy="276.7"/><circle cx="782.6" cy="274.0"/><circle cx="745.8" cy="237.0"/><circle cx="792.1" cy="238.4"/><circle cx="788.5" cy="271.4"/><circle cx="756.1" cy="257.6"/><circle cx="790.9" cy="259.1"/><circle cx="765.5" cy="262.5"/><circle cx="762.1" cy="274.2"/><circle cx="759.1" cy="252.3"/><circle cx="782.3" cy="271.8"/><circle cx="810.5" cy="268.4"/><circle cx="829.6" cy="291.7"/><circle cx="805.2" cy="300.1"/><circle cx="805.2" cy="233.8"/><circle cx="867.2" cy="247.2"/><circle cx="740.8" cy="280.5"/><circle cx="841.2" cy="272.9"/><circle cx="857.8" cy="312.7"/><circle cx="849.6" cy="297.0"/><circle cx="780.0" cy="299.6"/><circle cx="839.2" cy="311.5"/><circle cx="781.0" cy="265.9"/><circle cx="810.4" cy="278.1"/><circle cx="881.0" cy="312.0"/><circle cx="837.7" cy="307.3"/><circle cx="879.1" cy="290.2"/><circle cx="812.6" cy="248.5"/><circle cx="770.5" cy="271.0"/><circle cx="813.8" cy="281.9"/><circle cx="879.3" cy="300.8"/><circle cx="873.5" cy="280.1"/><circle cx="867.6" cy="314.0"/><circle cx="844.2" cy="254.2"/><circle cx="837.8" cy="279.9"/><circle cx="822.5" cy="314.6"/><circle cx="937.3" cy="298.5"/><circle cx="837.6" cy="300.0"/><circle cx="890.9" cy="318.2"/><circle cx="829.1" cy="297.5"/><circle cx="892.6" cy="271.3"/><circle cx="796.4" cy="299.8"/><circle cx="820.7" cy="288.4"/><circle cx="845.7" cy="304.4"/><circle cx="817.4" cy="291.0"/><circle cx="824.2" cy="287.7"/><circle cx="824.5" cy="313.7"/><circle cx="811.0" cy="314.2"/><circle cx="899.5" cy="269.5"/><circle cx="879.0" cy="286.9"/><circle cx="794.3" cy="272.9"/><circle cx="906.8" cy="264.9"/><circle cx="826.9" cy="320.0"/><circle cx="842.0" cy="274.9"/><circle cx="828.9" cy="300.5"/><circle cx="864.3" cy="304.4"/><circle cx="862.0" cy="294.0"/><circle cx="827.9" cy="265.1"/><circle cx="842.0" cy="284.2"/><circle cx="795.6" cy="279.1"/><circle cx="892.0" cy="326.2"/><circle cx="812.1" cy="278.0"/><circle cx="812.3" cy="273.7"/><circle cx="816.8" cy="278.5"/><circle cx="833.9" cy="318.8"/><circle cx="860.1" cy="304.7"/><circle cx="831.2" cy="273.7"/><circle cx="847.3" cy="265.9"/><circle cx="830.0" cy="279.2"/><circle cx="885.3" cy="286.1"/><circle cx="848.2" cy="285.0"/><circle cx="775.1" cy="300.8"/><circle cx="880.7" cy="320.5"/><circle cx="847.4" cy="299.2"/><circle cx="897.0" cy="319.4"/><circle cx="807.3" cy="319.5"/><circle cx="830.0" cy="263.0"/><circle cx="829.8" cy="298.3"/><circle cx="794.8" cy="272.3"/><circle cx="825.6" cy="290.1"/><circle cx="877.9" cy="305.7"/><circle cx="862.8" cy="292.1"/><circle cx="758.0" cy="276.9"/><circle cx="893.7" cy="261.0"/><circle cx="847.9" cy="300.7"/><circle cx="860.1" cy="313.4"/><circle cx="846.0" cy="272.3"/><circle cx="850.9" cy="273.5"/><circle cx="827.6" cy="330.3"/><circle cx="846.0" cy="273.6"/><circle cx="807.9" cy="272.7"/><circle cx="876.8" cy="286.5"/><circle cx="849.4" cy="281.1"/><circle cx="855.2" cy="281.7"/><circle cx="863.4" cy="252.2"/><circle cx="813.0" cy="336.0"/><circle cx="841.3" cy="275.9"/><circle cx="793.3" cy="284.8"/><circle cx="847.3" cy="292.3"/><circle cx="838.4" cy="321.2"/><circle cx="826.2" cy="302.6"/><circle cx="776.2" cy="295.9"/><circle cx="873.4" cy="328.6"/><circle cx="827.4" cy="306.2"/><circle cx="837.6" cy="291.6"/><circle cx="822.5" cy="306.2"/><circle cx="829.9" cy="252.8"/><circle cx="819.7" cy="304.8"/><circle cx="798.4" cy="293.6"/><circle cx="817.8" cy="291.1"/><circle cx="913.0" cy="285.8"/><circle cx="867.4" cy="330.3"/><circle cx="906.8" cy="298.4"/><circle cx="814.6" cy="297.2"/><circle cx="790.4" cy="234.2"/><circle cx="796.2" cy="273.3"/><circle cx="758.7" cy="250.5"/><circle cx="878.2" cy="286.8"/><circle cx="882.0" cy="290.5"/><circle cx="830.2" cy="328.0"/><circle cx="850.8" cy="294.3"/><circle cx="848.0" cy="301.8"/><circle cx="820.8" cy="332.8"/><circle cx="871.2" cy="269.9"/><circle cx="796.1" cy="311.2"/><circle cx="826.9" cy="279.0"/><circle cx="837.9" cy="276.9"/><circle cx="786.9" cy="265.0"/><circle cx="818.3" cy="244.1"/><circle cx="862.5" cy="264.7"/><circle cx="857.0" cy="271.8"/><circle cx="763.5" cy="253.9"/><circle cx="863.0" cy="314.9"/><circle cx="842.6" cy="316.5"/><circle cx="865.5" cy="291.6"/><circle cx="834.0" cy="297.8"/><circle cx="854.4" cy="305.9"/><circle cx="798.8" cy="272.9"/><circle cx="830.1" cy="293.3"/><circle cx="808.4" cy="268.0"/><circle cx="818.3" cy="296.7"/><circle cx="877.4" cy="298.7"/><circle cx="890.1" cy="308.7"/><circle cx="837.9" cy="296.4"/><circle cx="823.4" cy="289.2"/><circle cx="868.1" cy="284.7"/><circle cx="862.0" cy="268.6"/><circle cx="900.1" cy="309.6"/><circle cx="862.3" cy="286.1"/><circle cx="767.4" cy="255.8"/><circle cx="841.1" cy="289.4"/><circle cx="832.9" cy="273.2"/><circle cx="809.9" cy="291.5"/><circle cx="840.2" cy="300.3"/><circle cx="846.3" cy="273.4"/><circle cx="824.8" cy="294.6"/><circle cx="892.9" cy="287.3"/><circle cx="845.7" cy="309.3"/><circle cx="847.4" cy="307.5"/><circle cx="843.7" cy="292.3"/><circle cx="871.5" cy="321.5"/><circle cx="796.3" cy="299.8"/><circle cx="874.1" cy="312.4"/><circle cx="843.1" cy="251.4"/><circle cx="885.1" cy="309.0"/><circle cx="882.5" cy="309.7"/><circle cx="849.1" cy="312.2"/><circle cx="830.6" cy="266.2"/><circle cx="842.9" cy="307.9"/><circle cx="847.5" cy="301.6"/><circle cx="789.4" cy="283.7"/><circle cx="836.4" cy="262.4"/><circle cx="822.0" cy="266.0"/><circle cx="874.8" cy="327.8"/><circle cx="887.3" cy="325.1"/><circle cx="816.0" cy="281.5"/><circle cx="814.7" cy="307.1"/><circle cx="794.9" cy="282.3"/><circle cx="849.7" cy="285.0"/><circle cx="874.8" cy="267.3"/><circle cx="889.0" cy="329.7"/><circle cx="798.7" cy="274.4"/><circle cx="866.6" cy="305.0"/><circle cx="845.7" cy="252.9"/><circle cx="819.3" cy="272.2"/><circle cx="825.6" cy="292.9"/><circle cx="815.9" cy="277.7"/><circle cx="857.6" cy="280.4"/><circle cx="845.9" cy="268.2"/><circle cx="874.9" cy="307.0"/><circle cx="824.1" cy="277.6"/><circle cx="781.3" cy="264.2"/><circle cx="808.9" cy="274.3"/><circle cx="853.6" cy="281.0"/><circle cx="793.8" cy="268.4"/><circle cx="818.6" cy="270.2"/><circle cx="855.3" cy="296.5"/><circle cx="803.9" cy="248.5"/><circle cx="872.4" cy="277.1"/><circle cx="849.0" cy="294.4"/><circle cx="821.0" cy="280.9"/><circle cx="836.0" cy="293.0"/><circle cx="809.3" cy="325.5"/><circle cx="820.9" cy="301.2"/><circle cx="820.6" cy="309.6"/><circle cx="836.2" cy="298.8"/><circle cx="836.3" cy="287.0"/><circle cx="819.9" cy="266.6"/><circle cx="819.4" cy="242.8"/><circle cx="913.3" cy="283.4"/><circle cx="818.7" cy="231.9"/><circle cx="840.8" cy="266.2"/><circle cx="886.8" cy="270.8"/><circle cx="876.1" cy="281.1"/><circle cx="815.4" cy="282.3"/><circle cx="904.7" cy="302.9"/><circle cx="888.5" cy="326.3"/><circle cx="822.4" cy="305.0"/><circle cx="792.3" cy="297.9"/><circle cx="852.7" cy="314.0"/><circle cx="830.8" cy="293.7"/><circle cx="832.4" cy="276.9"/><circle cx="809.7" cy="290.9"/><circle cx="880.7" cy="292.2"/><circle cx="882.9" cy="288.3"/><circle cx="887.8" cy="307.6"/><circle cx="859.3" cy="310.0"/><circle cx="854.0" cy="295.9"/><circle cx="888.9" cy="299.6"/><circle cx="907.6" cy="324.4"/><circle cx="905.1" cy="295.1"/><circle cx="949.3" cy="309.2"/><circle cx="865.2" cy="274.4"/><circle cx="866.3" cy="313.9"/><circle cx="854.8" cy="255.4"/><circle cx="874.5" cy="276.6"/><circle cx="913.3" cy="313.9"/><circle cx="907.9" cy="314.7"/><circle cx="857.6" cy="319.5"/><circle cx="875.4" cy="304.3"/><circle cx="871.4" cy="288.3"/><circle cx="853.8" cy="312.6"/><circle cx="873.7" cy="314.0"/><circle cx="871.9" cy="314.9"/><circle cx="879.4" cy="315.9"/><circle cx="884.8" cy="308.7"/><circle cx="901.4" cy="282.7"/><circle cx="910.8" cy="292.2"/><circle cx="872.2" cy="328.0"/><circle cx="879.1" cy="299.4"/><circle cx="891.7" cy="273.4"/><circle cx="890.0" cy="303.1"/><circle cx="876.1" cy="313.1"/><circle cx="864.5" cy="300.2"/><circle cx="874.1" cy="297.3"/><circle cx="906.2" cy="270.4"/><circle cx="865.4" cy="295.2"/><circle cx="897.1" cy="302.4"/><circle cx="851.7" cy="316.5"/><circle cx="893.0" cy="303.3"/><circle cx="893.0" cy="302.4"/><circle cx="881.4" cy="292.4"/><circle cx="883.0" cy="298.0"/><circle cx="877.7" cy="302.5"/><circle cx="913.3" cy="301.7"/><circle cx="604.8" cy="225.4"/><circle cx="616.6" cy="235.9"/><circle cx="620.6" cy="239.8"/><circle cx="624.5" cy="208.8"/><circle cx="647.2" cy="212.8"/><circle cx="663.6" cy="192.5"/><circle cx="750.7" cy="174.7"/><circle cx="750.7" cy="196.0"/><circle cx="730.0" cy="204.3"/><circle cx="860.2" cy="231.3"/><circle cx="839.1" cy="239.2"/><circle cx="809.9" cy="240.4"/><circle cx="795.1" cy="346.9"/><circle cx="833.6" cy="352.8"/><circle cx="850.3" cy="350.8"/><circle cx="857.2" cy="353.2"/><circle cx="892.7" cy="348.3"/><circle cx="899.6" cy="321.0"/><circle cx="927.2" cy="315.3"/><circle cx="910.5" cy="297.6"/><circle cx="940.0" cy="297.6"/><circle cx="956.8" cy="291.7"/><circle cx="956.8" cy="301.9"/><circle cx="931.2" cy="277.3"/><circle cx="912.4" cy="277.3"/><circle cx="808.9" cy="318.7"/><circle cx="798.7" cy="329.1"/><circle cx="816.8" cy="334.5"/><circle cx="846.4" cy="335.8"/><circle cx="868.1" cy="330.1"/><circle cx="741.9" cy="300.5"/><circle cx="764.5" cy="290.1"/><circle cx="690.6" cy="266.4"/><circle cx="658.0" cy="260.9"/><circle cx="715.6" cy="280.8"/><circle cx="641.3" cy="232.5"/><circle cx="691.6" cy="192.5"/><circle cx="692.6" cy="199.4"/><circle cx="715.2" cy="202.9"/></g><rect class="bx" x="591.3" y="85.1" width="379.7" height="319.2"/><line class="rl" x1="591.3" y1="203.2" x2="970.9" y2="327.5"/><text class="l" x="1022.4" y="59.5">(c)</text><text class="t" x="1283.6" y="29.6">Pearson-Correlation:0.7836</text><text class="t" x="1283.6" y="53.9">P-value:3.207e-105</text><text class="t" x="1283.6" y="78.2">Sample Size:(N=501)</text><text class="k" x="1102.5" y="444.9">9</text><text class="k" x="1178.4" y="444.9">10</text><text class="k" x="1254.3" y="444.9">11</text><text class="k" x="1330.2" y="444.9">12</text><text class="k" x="1406.1" y="444.9">13</text><text class="k" transform="translate(1070.2 387.1) rotate(-90)">8</text><text class="k" transform="translate(1070.2 337.8) rotate(-90)">9</text><text class="k" transform="translate(1070.2 288.5) rotate(-90)">10</text><text class="k" transform="translate(1070.2 239.2) rotate(-90)">11</text><text class="k" transform="translate(1070.2 189.9) rotate(-90)">12</text><text class="k" transform="translate(1070.2 140.6) rotate(-90)">13</text><text class="k" transform="translate(1070.2 91.3) rotate(-90)">14</text><path class="tk" d="M1102.5 407.9v9.8M1178.4 407.9v9.8M1254.3 407.9v9.8M1330.2 407.9v9.8M1406.1 407.9v9.8M1092.9 387.1h-9.8M1092.9 337.8h-9.8M1092.9 288.5h-9.8M1092.9 239.2h-9.8M1092.9 189.9h-9.8M1092.9 140.6h-9.8M1092.9 91.3h-9.8"/><text class="a" x="1283.6" y="484.9">KPNA2</text><text class="a" transform="translate(1029.6 248) rotate(-90)">NOL11</text><g class="c"><circle cx="1306.6" cy="264.7"/><circle cx="1298.9" cy="276.6"/><circle cx="1336.9" cy="253.7"/><circle cx="1330.7" cy="280.5"/><circle cx="1328.1" cy="270.5"/><circle cx="1300.6" cy="307.2"/><circle cx="1312.3" cy="273.3"/><circle cx="1288.1" cy="308.3"/><circle cx="1362.1" cy="244.3"/><circle cx="1372.3" cy="251.0"/><circle cx="1343.6" cy="245.2"/><circle cx="1330.7" cy="258.7"/><circle cx="1348.5" cy="253.0"/><circle cx="1293.5" cy="285.6"/><circle cx="1301.5" cy="292.3"/><circle cx="1370.2" cy="245.7"/><circle cx="1298.2" cy="257.3"/><circle cx="1334.2" cy="262.6"/><circle cx="1314.7" cy="267.7"/><circle cx="1259.9" cy="284.1"/><circle cx="1319.0" cy="279.5"/><circle cx="1365.4" cy="265.7"/><circle cx="1372.4" cy="239.4"/><circle cx="1256.5" cy="282.7"/><circle cx="1277.3" cy="250.5"/><circle cx="1315.6" cy="261.6"/><circle cx="1369.4" cy="260.5"/><circle cx="1368.8" cy="238.0"/><circle cx="1387.7" cy="254.6"/><circle cx="1389.6" cy="250.9"/><circle cx="1325.6" cy="274.2"/><circle cx="1308.7" cy="280.8"/><circle cx="1363.5" cy="251.0"/><circle cx="1332.5" cy="276.9"/><circle cx="1341.3" cy="274.2"/><circle cx="1326.6" cy="270.5"/><circle cx="1323.9" cy="266.5"/><circle cx="1369.1" cy="267.0"/><circle cx="1311.8" cy="291.0"/><circle cx="1280.4" cy="275.2"/><circle cx="1318.3" cy="280.1"/><circle cx="1339.2" cy="262.1"/><circle cx="1336.6" cy="292.8"/><circle cx="1330.2" cy="260.6"/><circle cx="1272.9" cy="278.2"/><circle cx="1305.3" cy="262.2"/><circle cx="1372.2" cy="260.9"/><circle cx="1326.0" cy="252.7"/><circle cx="1317.8" cy="277.8"/><circle cx="1367.5" cy="244.2"/><circle cx="1324.2" cy="284.5"/><circle cx="1365.0" cy="272.2"/><circle cx="1346.8" cy="273.4"/><circle cx="1339.4" cy="236.1"/><circle cx="1360.6" cy="234.6"/><circle cx="1392.1" cy="206.6"/><circle cx="1385.2" cy="278.5"/><circle cx="1307.1" cy="265.8"/><circle cx="1299.8" cy="270.8"/><circle cx="1325.6" cy="267.2"/><circle cx="1332.5" cy="271.8"/><circle cx="1354.9" cy="251.3"/><circle cx="1336.4" cy="263.4"/><circle cx="1341.2" cy="260.6"/><circle cx="1277.9" cy="267.4"/><circle cx="1341.3" cy="284.2"/><circle cx="1358.6" cy="276.8"/><circle cx="1386.9" cy="244.0"/><circle cx="1358.4" cy="252.6"/><circle cx="1346.0" cy="283.4"/><circle cx="1309.6" cy="304.4"/><circle cx="1335.1" cy="263.8"/><circle cx="1337.8" cy="269.9"/><circle cx="1329.0" cy="260.0"/><circle cx="1341.2" cy="265.2"/><circle cx="1339.5" cy="228.2"/><circle cx="1339.0" cy="232.5"/><circle cx="1404.7" cy="243.0"/><circle cx="1304.4" cy="272.2"/><circle cx="1289.0" cy="285.6"/><circle cx="1347.2" cy="259.7"/><circle cx="1300.2" cy="284.1"/><circle cx="1329.7" cy="268.6"/><circle cx="1331.7" cy="262.3"/><circle cx="1312.1" cy="277.4"/><circle cx="1356.2" cy="246.8"/><circle cx="1360.5" cy="272.2"/><circle cx="1334.9" cy="250.7"/><circle cx="1351.6" cy="252.0"/><circle cx="1365.1" cy="263.9"/><circle cx="1323.9" cy="262.8"/><circle cx="1357.0" cy="267.7"/><circle cx="1345.3" cy="278.6"/><circle cx="1338.1" cy="272.6"/><circle cx="1318.8" cy="263.9"/><circle cx="1395.9" cy="265.6"/><circle cx="1346.7" cy="265.2"/><circle cx="1287.4" cy="268.8"/><circle cx="1358.4" cy="281.1"/><circle cx="1257.9" cy="294.9"/><circle cx="1345.6" cy="267.7"/><circle cx="1361.9" cy="265.3"/><circle cx="1375.6" cy="241.7"/><circle cx="1344.9" cy="271.7"/><circle cx="1308.0" cy="257.6"/><circle cx="1389.5" cy="230.5"/><circle cx="1364.5" cy="247.5"/><circle cx="1383.4" cy="274.1"/><circle cx="1329.6" cy="273.6"/><circle cx="1358.9" cy="270.0"/><circle cx="1279.2" cy="279.0"/><circle cx="1351.4" cy="264.6"/><circle cx="1261.6" cy="263.7"/><circle cx="1302.3" cy="272.7"/><circle cx="1291.8" cy="285.6"/><circle cx="1367.0" cy="244.5"/><circle cx="1354.2" cy="230.8"/><circle cx="1309.7" cy="251.9"/><circle cx="1375.0" cy="257.2"/><circle cx="1342.8" cy="278.5"/><circle cx="1272.6" cy="282.3"/><circle cx="1329.6" cy="286.7"/><circle cx="1276.4" cy="268.7"/><circle cx="1339.4" cy="270.2"/><circle cx="1346.8" cy="263.3"/><circle cx="1316.5" cy="284.4"/><circle cx="1352.7" cy="237.5"/><circle cx="1370.8" cy="263.3"/><circle cx="1307.7" cy="275.3"/><circle cx="1348.1" cy="247.4"/><circle cx="1329.5" cy="259.7"/><circle cx="1325.0" cy="264.4"/><circle cx="1387.0" cy="247.8"/><circle cx="1309.3" cy="261.9"/><circle cx="1319.9" cy="257.8"/><circle cx="1332.8" cy="265.4"/><circle cx="1351.7" cy="256.6"/><circle cx="1360.2" cy="260.4"/><circle cx="1309.7" cy="284.6"/><circle cx="1368.3" cy="226.5"/><circle cx="1389.9" cy="241.4"/><circle cx="1396.9" cy="243.1"/><circle cx="1339.8" cy="261.9"/><circle cx="1314.4" cy="256.7"/><circle cx="1304.9" cy="283.6"/><circle cx="1352.5" cy="278.9"/><circle cx="1331.5" cy="262.0"/><circle cx="1329.3" cy="254.7"/><circle cx="1318.9" cy="279.0"/><circle cx="1267.1" cy="288.5"/><circle cx="1326.2" cy="267.6"/><circle cx="1330.2" cy="267.5"/><circle cx="1321.4" cy="261.9"/><circle cx="1291.2" cy="278.9"/><circle cx="1323.1" cy="257.7"/><circle cx="1321.5" cy="242.0"/><circle cx="1304.6" cy="287.7"/><circle cx="1355.5" cy="258.8"/><circle cx="1333.2" cy="262.4"/><circle cx="1344.5" cy="276.8"/><circle cx="1346.0" cy="256.5"/><circle cx="1331.8" cy="278.6"/><circle cx="1335.8" cy="273.2"/><circle cx="1349.6" cy="253.4"/><circle cx="1352.5" cy="239.6"/><circle cx="1364.0" cy="258.0"/><circle cx="1330.0" cy="267.4"/><circle cx="1362.6" cy="265.6"/><circle cx="1363.0" cy="231.8"/><circle cx="1291.4" cy="277.3"/><circle cx="1323.3" cy="270.0"/><circle cx="1335.5" cy="266.9"/><circle cx="1335.4" cy="264.0"/><circle cx="1391.0" cy="245.7"/><circle cx="1361.0" cy="222.4"/><circle cx="1329.4" cy="260.6"/><circle cx="1328.5" cy="256.2"/><circle cx="1285.6" cy="260.8"/><circle cx="1305.4" cy="275.1"/><circle cx="1374.3" cy="242.7"/><circle cx="1277.4" cy="268.9"/><circle cx="1348.2" cy="239.3"/><circle cx="1314.9" cy="274.3"/><circle cx="1314.7" cy="236.8"/><circle cx="1331.6" cy="262.6"/><circle cx="1386.2" cy="228.7"/><circle cx="1346.1" cy="260.1"/><circle cx="1359.0" cy="278.8"/><circle cx="1370.7" cy="262.6"/><circle cx="1267.3" cy="287.1"/><circle cx="1398.9" cy="258.4"/><circle cx="1292.3" cy="303.3"/><circle cx="1317.7" cy="282.1"/><circle cx="1364.5" cy="275.9"/><circle cx="1298.8" cy="279.0"/><circle cx="1284.9" cy="289.8"/><circle cx="1370.8" cy="248.2"/><circle cx="1324.4" cy="261.7"/><circle cx="1364.4" cy="252.0"/><circle cx="1347.2" cy="247.9"/><circle cx="1329.4" cy="263.5"/><circle cx="1397.1" cy="268.6"/><circle cx="1331.0" cy="273.6"/><circle cx="1396.7" cy="237.1"/><circle cx="1316.0" cy="292.5"/><circle cx="1311.7" cy="290.5"/><circle cx="1310.4" cy="257.9"/><circle cx="1340.1" cy="251.6"/><circle cx="1308.8" cy="295.4"/><circle cx="1315.1" cy="271.5"/><circle cx="1380.9" cy="248.0"/><circle cx="1339.5" cy="254.2"/><circle cx="1366.7" cy="236.3"/><circle cx="1352.5" cy="271.4"/><circle cx="1314.9" cy="259.6"/><circle cx="1315.2" cy="277.3"/><circle cx="1350.0" cy="281.6"/><circle cx="1340.8" cy="267.7"/><circle cx="1319.5" cy="265.8"/><circle cx="1322.1" cy="275.9"/><circle cx="1383.1" cy="252.2"/><circle cx="1366.2" cy="245.1"/><circle cx="1346.8" cy="261.9"/><circle cx="1320.9" cy="252.1"/><circle cx="1316.1" cy="246.7"/><circle cx="1395.2" cy="233.0"/><circle cx="1310.6" cy="248.7"/><circle cx="1404.2" cy="228.5"/><circle cx="1315.8" cy="268.2"/><circle cx="1291.8" cy="281.2"/><circle cx="1406.1" cy="260.6"/><circle cx="1329.0" cy="252.7"/><circle cx="1380.9" cy="239.4"/><circle cx="1347.8" cy="251.7"/><circle cx="1324.7" cy="253.1"/><circle cx="1373.9" cy="274.8"/><circle cx="1324.1" cy="256.3"/><circle cx="1348.6" cy="254.3"/><circle cx="1331.2" cy="261.5"/><circle cx="1293.2" cy="310.3"/><circle cx="1347.0" cy="253.9"/><circle cx="1316.7" cy="259.1"/><circle cx="1337.2" cy="278.0"/><circle cx="1345.9" cy="249.6"/><circle cx="1283.8" cy="253.6"/><circle cx="1357.5" cy="269.0"/><circle cx="1357.9" cy="266.2"/><circle cx="1388.5" cy="223.4"/><circle cx="1355.7" cy="238.1"/><circle cx="1346.3" cy="257.6"/><circle cx="1312.1" cy="258.0"/><circle cx="1328.7" cy="244.4"/><circle cx="1287.8" cy="264.0"/><circle cx="1356.1" cy="278.0"/><circle cx="1334.5" cy="276.6"/><circle cx="1320.1" cy="253.5"/><circle cx="1335.6" cy="259.8"/><circle cx="1350.0" cy="257.9"/><circle cx="1342.1" cy="254.9"/><circle cx="1299.5" cy="274.8"/><circle cx="1383.5" cy="267.1"/><circle cx="1333.7" cy="253.9"/><circle cx="1342.3" cy="248.9"/><circle cx="1335.4" cy="261.1"/><circle cx="1304.0" cy="264.5"/><circle cx="1341.5" cy="253.5"/><circle cx="1321.5" cy="261.0"/><circle cx="1305.2" cy="259.7"/><circle cx="1344.4" cy="274.4"/><circle cx="1355.3" cy="245.3"/><circle cx="1359.5" cy="270.2"/><circle cx="1337.3" cy="249.5"/><circle cx="1312.6" cy="257.9"/><circle cx="1326.4" cy="268.2"/><circle cx="1330.0" cy="260.1"/><circle cx="1295.7" cy="287.7"/><circle cx="1362.6" cy="260.4"/><circle cx="1348.1" cy="287.8"/><circle cx="1283.6" cy="241.5"/><circle cx="1375.9" cy="232.4"/><circle cx="1393.5" cy="239.2"/><circle cx="1295.1" cy="273.7"/><circle cx="1329.6" cy="263.0"/><circle cx="1321.2" cy="301.5"/><circle cx="1348.4" cy="226.4"/><circle cx="1296.6" cy="285.1"/><circle cx="1349.0" cy="253.4"/><circle cx="1346.7" cy="257.4"/><circle cx="1373.4" cy="261.8"/><circle cx="1277.5" cy="282.4"/><circle cx="1315.3" cy="279.6"/><circle cx="1334.5" cy="279.2"/><circle cx="1369.2" cy="264.9"/><circle cx="1329.5" cy="238.6"/><circle cx="1354.8" cy="245.5"/><circle cx="1343.0" cy="241.1"/><circle cx="1304.4" cy="262.5"/><circle cx="1330.6" cy="260.6"/><circle cx="1332.1" cy="290.6"/><circle cx="1322.6" cy="257.6"/><circle cx="1305.9" cy="268.4"/><circle cx="1357.0" cy="251.0"/><circle cx="1350.6" cy="275.8"/><circle cx="1274.7" cy="276.5"/><circle cx="1359.1" cy="258.6"/><circle cx="1321.3" cy="277.6"/><circle cx="1292.5" cy="285.1"/><circle cx="1362.4" cy="223.9"/><circle cx="1328.3" cy="246.3"/><circle cx="1348.3" cy="265.4"/><circle cx="1322.7" cy="242.0"/><circle cx="1332.5" cy="259.1"/><circle cx="1273.3" cy="263.9"/><circle cx="1359.1" cy="257.4"/><circle cx="1312.0" cy="269.0"/><circle cx="1328.1" cy="242.6"/><circle cx="1330.8" cy="259.1"/><circle cx="1300.5" cy="259.5"/><circle cx="1294.1" cy="268.7"/><circle cx="1335.3" cy="277.5"/><circle cx="1374.2" cy="249.9"/><circle cx="1316.0" cy="272.4"/><circle cx="1303.6" cy="303.7"/><circle cx="1256.7" cy="303.1"/><circle cx="1291.7" cy="291.7"/><circle cx="1258.8" cy="283.4"/><circle cx="1260.5" cy="298.8"/><circle cx="1236.2" cy="289.0"/><circle cx="1232.6" cy="320.1"/><circle cx="1221.5" cy="307.8"/><circle cx="1222.6" cy="302.0"/><circle cx="1264.8" cy="288.4"/><circle cx="1263.0" cy="293.4"/><circle cx="1232.3" cy="319.7"/><circle cx="1288.6" cy="290.7"/><circle cx="1230.6" cy="297.4"/><circle cx="1237.1" cy="293.6"/><circle cx="1208.4" cy="302.2"/><circle cx="1231.6" cy="317.5"/><circle cx="1278.9" cy="295.6"/><circle cx="1259.8" cy="281.9"/><circle cx="1227.1" cy="287.3"/><circle cx="1286.9" cy="285.5"/><circle cx="1247.7" cy="293.3"/><circle cx="1256.5" cy="304.4"/><circle cx="1281.5" cy="286.6"/><circle cx="1266.8" cy="298.6"/><circle cx="1246.2" cy="311.9"/><circle cx="1226.6" cy="322.3"/><circle cx="1287.7" cy="282.9"/><circle cx="1188.4" cy="332.3"/><circle cx="1232.0" cy="299.0"/><circle cx="1197.3" cy="303.7"/><circle cx="1236.4" cy="307.8"/><circle cx="1281.2" cy="303.8"/><circle cx="1248.7" cy="318.9"/><circle cx="1239.7" cy="302.7"/><circle cx="1243.2" cy="279.7"/><circle cx="1308.9" cy="281.9"/><circle cx="1290.0" cy="281.9"/><circle cx="1261.2" cy="303.6"/><circle cx="1238.5" cy="318.0"/><circle cx="1238.9" cy="298.0"/><circle cx="1258.7" cy="287.0"/><circle cx="1243.7" cy="296.8"/><circle cx="1245.7" cy="292.2"/><circle cx="1218.4" cy="298.3"/><circle cx="1214.6" cy="315.6"/><circle cx="1218.0" cy="301.8"/><circle cx="1257.6" cy="292.9"/><circle cx="1224.7" cy="304.5"/><circle cx="1321.2" cy="264.8"/><circle cx="1270.7" cy="299.5"/><circle cx="1269.0" cy="286.2"/><circle cx="1280.4" cy="286.9"/><circle cx="1226.7" cy="318.5"/><circle cx="1219.1" cy="309.0"/><circle cx="1240.2" cy="283.9"/><circle cx="1267.7" cy="286.4"/><circle cx="1266.8" cy="286.8"/><circle cx="1302.5" cy="287.8"/><circle cx="1300.1" cy="302.1"/><circle cx="1284.3" cy="289.0"/><circle cx="1285.5" cy="284.2"/><circle cx="1268.1" cy="311.4"/><circle cx="1275.8" cy="280.5"/><circle cx="1248.3" cy="303.7"/><circle cx="1245.3" cy="307.1"/><circle cx="1281.5" cy="286.7"/><circle cx="1208.1" cy="312.4"/><circle cx="1295.7" cy="284.4"/><circle cx="1314.5" cy="294.7"/><circle cx="1244.8" cy="308.5"/><circle cx="1274.8" cy="282.1"/><circle cx="1262.4" cy="298.2"/><circle cx="1233.1" cy="318.0"/><circle cx="1274.7" cy="313.0"/><circle cx="1275.2" cy="300.2"/><circle cx="1286.2" cy="288.1"/><circle cx="1253.7" cy="315.7"/><circle cx="1264.8" cy="305.1"/><circle cx="1240.6" cy="304.5"/><circle cx="1282.6" cy="278.3"/><circle cx="1254.8" cy="298.5"/><circle cx="1285.5" cy="298.2"/><circle cx="1233.7" cy="291.3"/><circle cx="1253.8" cy="276.9"/><circle cx="1234.2" cy="311.7"/><circle cx="1229.8" cy="286.7"/><circle cx="1282.8" cy="269.9"/><circle cx="1251.2" cy="295.9"/><circle cx="1253.8" cy="294.5"/><circle cx="1278.0" cy="289.3"/><circle cx="1235.1" cy="306.7"/><circle cx="1313.9" cy="281.9"/><circle cx="1235.0" cy="303.2"/><circle cx="1242.6" cy="290.9"/><circle cx="1306.2" cy="241.2"/><circle cx="1214.2" cy="328.3"/><circle cx="1408.0" cy="224.5"/><circle cx="1405.8" cy="227.1"/><circle cx="1400.6" cy="246.0"/><circle cx="1392.1" cy="266.8"/><circle cx="1403.3" cy="228.0"/><circle cx="1399.1" cy="244.6"/><circle cx="1376.7" cy="250.0"/><circle cx="1414.8" cy="231.2"/><circle cx="1375.3" cy="249.6"/><circle cx="1397.5" cy="259.0"/><circle cx="1429.6" cy="234.0"/><circle cx="1381.3" cy="234.6"/><circle cx="1400.4" cy="235.8"/><circle cx="1417.7" cy="237.9"/><circle cx="1394.3" cy="228.7"/><circle cx="1373.6" cy="244.9"/><circle cx="1389.9" cy="242.2"/><circle cx="1390.6" cy="221.6"/><circle cx="1382.1" cy="272.2"/><circle cx="1417.0" cy="217.5"/><circle cx="1405.1" cy="242.1"/><circle cx="1410.6" cy="237.2"/><circle cx="1401.6" cy="235.4"/><circle cx="1410.6" cy="253.8"/><circle cx="1393.8" cy="246.3"/><circle cx="1371.7" cy="243.8"/><circle cx="1415.2" cy="251.6"/><circle cx="1402.1" cy="249.0"/><circle cx="1421.3" cy="222.8"/><circle cx="1374.1" cy="234.6"/><circle cx="1405.5" cy="251.8"/><circle cx="1434.9" cy="228.5"/><circle cx="1185.9" cy="315.7"/><circle cx="1215.0" cy="314.1"/><circle cx="1190.8" cy="327.8"/><circle cx="1201.1" cy="325.9"/><circle cx="1193.3" cy="310.3"/><circle cx="1178.1" cy="315.6"/><circle cx="1217.4" cy="315.1"/><circle cx="1250.1" cy="291.4"/><circle cx="1213.3" cy="305.8"/><circle cx="1212.9" cy="314.2"/><circle cx="1204.0" cy="316.5"/><circle cx="1210.2" cy="325.7"/><circle cx="1204.7" cy="297.2"/><circle cx="1218.4" cy="320.2"/><circle cx="1197.6" cy="308.9"/><circle cx="1209.2" cy="318.4"/><circle cx="1107.8" cy="332.8"/><circle cx="1112.8" cy="346.0"/><circle cx="1152.3" cy="346.0"/><circle cx="1156.3" cy="311.4"/><circle cx="1173.1" cy="334.1"/><circle cx="1188.9" cy="286.3"/><circle cx="1204.7" cy="272.5"/><circle cx="1242.3" cy="332.8"/><circle cx="1262.0" cy="252.1"/><circle cx="1294.7" cy="230.0"/><circle cx="1342.5" cy="306.5"/><circle cx="1384.6" cy="198.7"/><circle cx="1343.1" cy="208.6"/><circle cx="1344.1" cy="214.5"/><circle cx="1359.9" cy="217.5"/><circle cx="1442.0" cy="206.2"/><circle cx="1447.9" cy="207.2"/><circle cx="1454.8" cy="207.6"/><circle cx="1459.7" cy="213.9"/><circle cx="1441.0" cy="224.4"/><circle cx="1420.2" cy="222.4"/><circle cx="1423.2" cy="245.2"/><circle cx="1409.3" cy="269.9"/><circle cx="1408.3" cy="264.9"/><circle cx="1397.5" cy="266.9"/><circle cx="1386.6" cy="273.8"/><circle cx="1377.3" cy="279.8"/><circle cx="1285.8" cy="326.2"/><circle cx="1305.5" cy="311.4"/><circle cx="1316.4" cy="297.6"/><circle cx="1326.3" cy="220.5"/><circle cx="1331.2" cy="224.4"/><circle cx="1407.4" cy="213.5"/><circle cx="1417.2" cy="224.4"/></g><rect class="bx" x="1092.9" y="88.2" width="381.4" height="319.7"/><line class="rl" x1="1092.9" y1="354.2" x2="1474.3" y2="211.5"/><text class="l" x="1522.6" y="59.5">(d)</text><text class="t" x="1790" y="28.3">Pearson-Correlation:-0.545</text><text class="t" x="1790" y="52.6">P-value:4.225e-40</text><text class="t" x="1790" y="76.9">Sample Size:(N=501)</text><text class="k" x="1608" y="443.1">9</text><text class="k" x="1684.1" y="443.1">10</text><text class="k" x="1760.2" y="443.1">11</text><text class="k" x="1836.2" y="443.1">12</text><text class="k" x="1912.3" y="443.1">13</text><text class="k" transform="translate(1577 402.2) rotate(-90)">6</text><text class="k" transform="translate(1577 328.4) rotate(-90)">8</text><text class="k" transform="translate(1577 254.5) rotate(-90)">10</text><text class="k" transform="translate(1577 180.7) rotate(-90)">12</text><text class="k" transform="translate(1577 106.9) rotate(-90)">14</text><path class="tk" d="M1608 406.1v9.8M1684.1 406.1v9.8M1760.2 406.1v9.8M1836.2 406.1v9.8M1912.3 406.1v9.8M1599.7 402.2h-9.8M1599.7 328.4h-9.8M1599.7 254.5h-9.8M1599.7 180.7h-9.8M1599.7 106.9h-9.8"/><text class="a" x="1790" y="483.1">KPNA2</text><text class="a" transform="translate(1536.4 246.5) rotate(-90)">CALCOCO1</text><g class="c"><circle cx="1788.4" cy="243.9"/><circle cx="1818.7" cy="258.7"/><circle cx="1821.1" cy="208.8"/><circle cx="1867.4" cy="284.8"/><circle cx="1797.3" cy="249.4"/><circle cx="1854.0" cy="268.6"/><circle cx="1803.8" cy="243.1"/><circle cx="1790.5" cy="254.5"/><circle cx="1832.2" cy="259.1"/><circle cx="1864.9" cy="230.1"/><circle cx="1828.3" cy="238.1"/><circle cx="1843.9" cy="251.0"/><circle cx="1834.7" cy="245.8"/><circle cx="1827.3" cy="241.7"/><circle cx="1860.5" cy="272.4"/><circle cx="1832.8" cy="231.4"/><circle cx="1854.2" cy="245.5"/><circle cx="1800.8" cy="222.6"/><circle cx="1821.6" cy="247.4"/><circle cx="1849.7" cy="265.6"/><circle cx="1819.3" cy="230.6"/><circle cx="1766.5" cy="236.0"/><circle cx="1850.2" cy="247.8"/><circle cx="1834.6" cy="278.1"/><circle cx="1831.7" cy="210.4"/><circle cx="1830.0" cy="250.5"/><circle cx="1811.4" cy="265.3"/><circle cx="1839.5" cy="247.3"/><circle cx="1863.1" cy="242.0"/><circle cx="1840.4" cy="238.5"/><circle cx="1821.6" cy="258.0"/><circle cx="1817.1" cy="236.4"/><circle cx="1816.9" cy="265.7"/><circle cx="1813.2" cy="246.0"/><circle cx="1856.5" cy="249.9"/><circle cx="1801.0" cy="232.9"/><circle cx="1808.7" cy="252.3"/><circle cx="1831.0" cy="269.9"/><circle cx="1840.8" cy="240.0"/><circle cx="1840.7" cy="233.1"/><circle cx="1822.5" cy="227.0"/><circle cx="1830.1" cy="259.8"/><circle cx="1778.4" cy="266.7"/><circle cx="1789.0" cy="227.5"/><circle cx="1788.8" cy="249.3"/><circle cx="1839.9" cy="247.3"/><circle cx="1859.2" cy="278.3"/><circle cx="1824.1" cy="222.0"/><circle cx="1809.0" cy="254.9"/><circle cx="1827.0" cy="226.3"/><circle cx="1881.4" cy="253.4"/><circle cx="1831.6" cy="257.9"/><circle cx="1831.8" cy="247.5"/><circle cx="1812.9" cy="244.2"/><circle cx="1838.4" cy="263.8"/><circle cx="1862.0" cy="266.0"/><circle cx="1824.7" cy="276.9"/><circle cx="1801.9" cy="255.5"/><circle cx="1868.3" cy="248.9"/><circle cx="1827.8" cy="249.3"/><circle cx="1879.3" cy="258.2"/><circle cx="1801.8" cy="234.2"/><circle cx="1814.0" cy="278.6"/><circle cx="1839.7" cy="240.4"/><circle cx="1773.5" cy="255.3"/><circle cx="1822.1" cy="276.3"/><circle cx="1829.1" cy="301.3"/><circle cx="1824.5" cy="249.7"/><circle cx="1838.4" cy="259.1"/><circle cx="1831.0" cy="257.4"/><circle cx="1807.1" cy="236.9"/><circle cx="1837.3" cy="286.7"/><circle cx="1796.4" cy="276.0"/><circle cx="1832.5" cy="210.2"/><circle cx="1809.6" cy="238.6"/><circle cx="1838.2" cy="276.3"/><circle cx="1820.8" cy="229.3"/><circle cx="1818.7" cy="234.8"/><circle cx="1769.6" cy="231.2"/><circle cx="1820.1" cy="247.8"/><circle cx="1855.4" cy="256.8"/><circle cx="1772.0" cy="228.9"/><circle cx="1827.1" cy="283.8"/><circle cx="1839.5" cy="211.9"/><circle cx="1783.5" cy="226.0"/><circle cx="1822.6" cy="227.7"/><circle cx="1851.7" cy="263.2"/><circle cx="1829.7" cy="243.0"/><circle cx="1834.1" cy="261.6"/><circle cx="1857.2" cy="260.9"/><circle cx="1805.6" cy="285.5"/><circle cx="1858.2" cy="236.8"/><circle cx="1796.6" cy="230.9"/><circle cx="1799.2" cy="256.9"/><circle cx="1868.6" cy="257.6"/><circle cx="1863.1" cy="265.5"/><circle cx="1861.4" cy="233.8"/><circle cx="1783.1" cy="248.3"/><circle cx="1822.2" cy="246.2"/><circle cx="1800.5" cy="251.5"/><circle cx="1884.5" cy="253.0"/><circle cx="1794.6" cy="228.8"/><circle cx="1798.4" cy="224.3"/><circle cx="1802.3" cy="272.3"/><circle cx="1846.7" cy="224.4"/><circle cx="1809.8" cy="252.1"/><circle cx="1818.4" cy="251.8"/><circle cx="1828.7" cy="274.1"/><circle cx="1827.2" cy="255.3"/><circle cx="1783.5" cy="215.9"/><circle cx="1791.4" cy="247.2"/><circle cx="1881.9" cy="236.8"/><circle cx="1823.4" cy="268.3"/><circle cx="1877.6" cy="265.4"/><circle cx="1871.7" cy="251.5"/><circle cx="1860.9" cy="252.3"/><circle cx="1826.8" cy="260.7"/><circle cx="1879.2" cy="236.8"/><circle cx="1806.6" cy="274.5"/><circle cx="1892.6" cy="259.4"/><circle cx="1835.9" cy="281.2"/><circle cx="1843.9" cy="258.8"/><circle cx="1807.6" cy="278.9"/><circle cx="1820.8" cy="225.1"/><circle cx="1817.6" cy="263.0"/><circle cx="1815.9" cy="244.9"/><circle cx="1809.8" cy="232.2"/><circle cx="1795.9" cy="254.8"/><circle cx="1836.3" cy="248.7"/><circle cx="1865.9" cy="249.6"/><circle cx="1883.6" cy="265.3"/><circle cx="1854.9" cy="244.9"/><circle cx="1828.5" cy="246.2"/><circle cx="1846.9" cy="255.8"/><circle cx="1869.8" cy="284.6"/><circle cx="1834.5" cy="250.6"/><circle cx="1861.9" cy="247.4"/><circle cx="1836.6" cy="267.1"/><circle cx="1836.3" cy="246.1"/><circle cx="1821.1" cy="229.6"/><circle cx="1856.7" cy="237.4"/><circle cx="1798.4" cy="272.7"/><circle cx="1804.5" cy="239.9"/><circle cx="1830.7" cy="281.0"/><circle cx="1862.4" cy="243.6"/><circle cx="1861.6" cy="241.8"/><circle cx="1843.5" cy="287.3"/><circle cx="1824.0" cy="243.8"/><circle cx="1828.3" cy="246.5"/><circle cx="1862.1" cy="257.5"/><circle cx="1891.8" cy="252.7"/><circle cx="1752.9" cy="243.1"/><circle cx="1870.1" cy="241.8"/><circle cx="1832.2" cy="265.6"/><circle cx="1835.3" cy="232.4"/><circle cx="1795.8" cy="287.7"/><circle cx="1809.4" cy="257.0"/><circle cx="1791.9" cy="258.2"/><circle cx="1847.3" cy="224.9"/><circle cx="1802.3" cy="247.6"/><circle cx="1829.0" cy="238.4"/><circle cx="1795.0" cy="222.3"/><circle cx="1866.9" cy="247.6"/><circle cx="1843.6" cy="270.7"/><circle cx="1798.6" cy="240.5"/><circle cx="1845.2" cy="246.5"/><circle cx="1822.9" cy="236.9"/><circle cx="1810.3" cy="231.8"/><circle cx="1834.9" cy="242.2"/><circle cx="1854.0" cy="253.6"/><circle cx="1876.9" cy="245.3"/><circle cx="1842.3" cy="237.8"/><circle cx="1874.0" cy="224.3"/><circle cx="1848.3" cy="256.2"/><circle cx="1844.7" cy="266.3"/><circle cx="1858.9" cy="251.3"/><circle cx="1785.4" cy="261.0"/><circle cx="1823.5" cy="234.1"/><circle cx="1869.7" cy="264.9"/><circle cx="1787.2" cy="257.4"/><circle cx="1805.7" cy="246.8"/><circle cx="1884.7" cy="254.7"/><circle cx="1800.1" cy="247.0"/><circle cx="1835.1" cy="244.9"/><circle cx="1830.2" cy="271.5"/><circle cx="1817.1" cy="260.5"/><circle cx="1855.6" cy="255.3"/><circle cx="1849.4" cy="267.2"/><circle cx="1800.5" cy="272.8"/><circle cx="1869.5" cy="285.4"/><circle cx="1802.1" cy="257.2"/><circle cx="1818.0" cy="243.2"/><circle cx="1828.3" cy="239.3"/><circle cx="1838.4" cy="239.7"/><circle cx="1793.0" cy="257.2"/><circle cx="1841.1" cy="234.5"/><circle cx="1766.9" cy="236.6"/><circle cx="1805.6" cy="272.1"/><circle cx="1812.8" cy="215.3"/><circle cx="1806.7" cy="249.4"/><circle cx="1830.9" cy="232.7"/><circle cx="1834.5" cy="250.0"/><circle cx="1804.2" cy="251.6"/><circle cx="1833.3" cy="233.6"/><circle cx="1794.1" cy="213.9"/><circle cx="1819.0" cy="239.5"/><circle cx="1850.4" cy="261.7"/><circle cx="1810.4" cy="236.8"/><circle cx="1823.6" cy="230.9"/><circle cx="1821.9" cy="260.7"/><circle cx="1854.4" cy="238.3"/><circle cx="1844.4" cy="229.0"/><circle cx="1821.2" cy="249.7"/><circle cx="1787.2" cy="276.1"/><circle cx="1835.5" cy="243.3"/><circle cx="1749.9" cy="221.6"/><circle cx="1843.1" cy="236.3"/><circle cx="1809.6" cy="232.5"/><circle cx="1849.6" cy="236.6"/><circle cx="1822.7" cy="253.4"/><circle cx="1865.7" cy="250.5"/><circle cx="1813.4" cy="230.4"/><circle cx="1767.9" cy="246.7"/><circle cx="1834.8" cy="225.4"/><circle cx="1807.5" cy="260.3"/><circle cx="1824.3" cy="245.4"/><circle cx="1862.6" cy="245.0"/><circle cx="1801.9" cy="240.6"/><circle cx="1845.3" cy="251.0"/><circle cx="1847.5" cy="262.7"/><circle cx="1855.5" cy="255.6"/><circle cx="1761.9" cy="262.4"/><circle cx="1823.7" cy="268.3"/><circle cx="1800.9" cy="261.7"/><circle cx="1826.4" cy="227.3"/><circle cx="1806.1" cy="236.2"/><circle cx="1810.2" cy="266.2"/><circle cx="1847.3" cy="268.0"/><circle cx="1871.2" cy="265.6"/><circle cx="1844.7" cy="254.5"/><circle cx="1787.1" cy="255.7"/><circle cx="1869.8" cy="229.3"/><circle cx="1797.9" cy="223.9"/><circle cx="1823.7" cy="223.2"/><circle cx="1849.1" cy="279.1"/><circle cx="1818.0" cy="221.3"/><circle cx="1846.3" cy="251.7"/><circle cx="1810.9" cy="269.7"/><circle cx="1796.8" cy="234.1"/><circle cx="1829.8" cy="256.4"/><circle cx="1811.3" cy="245.3"/><circle cx="1868.6" cy="277.1"/><circle cx="1862.0" cy="303.1"/><circle cx="1874.2" cy="244.7"/><circle cx="1799.0" cy="239.6"/><circle cx="1866.8" cy="294.7"/><circle cx="1820.5" cy="292.1"/><circle cx="1840.6" cy="250.9"/><circle cx="1823.2" cy="274.7"/><circle cx="1807.5" cy="256.1"/><circle cx="1825.8" cy="261.6"/><circle cx="1857.5" cy="234.4"/><circle cx="1876.5" cy="237.1"/><circle cx="1840.3" cy="257.5"/><circle cx="1827.1" cy="248.0"/><circle cx="1813.8" cy="243.9"/><circle cx="1824.3" cy="227.4"/><circle cx="1860.9" cy="288.9"/><circle cx="1845.4" cy="253.2"/><circle cx="1816.6" cy="297.2"/><circle cx="1783.5" cy="231.1"/><circle cx="1776.8" cy="240.0"/><circle cx="1839.7" cy="268.8"/><circle cx="1844.7" cy="250.1"/><circle cx="1861.5" cy="243.6"/><circle cx="1834.5" cy="242.5"/><circle cx="1808.4" cy="244.3"/><circle cx="1783.2" cy="226.0"/><circle cx="1790.0" cy="274.7"/><circle cx="1767.1" cy="220.2"/><circle cx="1829.4" cy="265.7"/><circle cx="1833.9" cy="268.0"/><circle cx="1861.5" cy="265.9"/><circle cx="1783.2" cy="215.5"/><circle cx="1785.1" cy="245.7"/><circle cx="1836.8" cy="271.5"/><circle cx="1833.5" cy="256.0"/><circle cx="1772.0" cy="232.1"/><circle cx="1819.1" cy="207.7"/><circle cx="1834.5" cy="232.9"/><circle cx="1816.3" cy="243.5"/><circle cx="1834.5" cy="256.7"/><circle cx="1822.2" cy="262.9"/><circle cx="1812.3" cy="239.9"/><circle cx="1834.8" cy="256.5"/><circle cx="1829.3" cy="232.3"/><circle cx="1853.0" cy="271.2"/><circle cx="1782.6" cy="248.7"/><circle cx="1819.9" cy="246.1"/><circle cx="1801.7" cy="259.9"/><circle cx="1820.6" cy="242.9"/><circle cx="1852.1" cy="315.7"/><circle cx="1867.6" cy="283.0"/><circle cx="1904.5" cy="315.7"/><circle cx="1841.4" cy="277.9"/><circle cx="1881.9" cy="271.4"/><circle cx="1863.2" cy="292.3"/><circle cx="1868.7" cy="304.6"/><circle cx="1840.8" cy="288.5"/><circle cx="1882.4" cy="303.1"/><circle cx="1887.8" cy="282.8"/><circle cx="1865.6" cy="290.7"/><circle cx="1869.7" cy="268.7"/><circle cx="1865.5" cy="311.2"/><circle cx="1883.3" cy="314.1"/><circle cx="1847.6" cy="265.9"/><circle cx="1900.1" cy="292.9"/><circle cx="1871.4" cy="271.3"/><circle cx="1891.0" cy="284.8"/><circle cx="1858.4" cy="277.8"/><circle cx="1914.1" cy="286.8"/><circle cx="1879.2" cy="284.7"/><circle cx="1902.9" cy="308.2"/><circle cx="1862.0" cy="281.2"/><circle cx="1857.2" cy="293.5"/><circle cx="1894.4" cy="294.0"/><circle cx="1885.4" cy="294.6"/><circle cx="1884.4" cy="275.3"/><circle cx="1891.9" cy="308.4"/><circle cx="1885.5" cy="277.4"/><circle cx="1867.9" cy="282.1"/><circle cx="1842.6" cy="260.6"/><circle cx="1827.5" cy="280.2"/><circle cx="1889.4" cy="280.0"/><circle cx="1881.0" cy="299.6"/><circle cx="1847.5" cy="307.0"/><circle cx="1881.5" cy="296.6"/><circle cx="1878.6" cy="259.5"/><circle cx="1869.3" cy="301.5"/><circle cx="1890.3" cy="297.4"/><circle cx="1840.5" cy="286.3"/><circle cx="1877.8" cy="296.4"/><circle cx="1877.7" cy="306.8"/><circle cx="1864.9" cy="300.4"/><circle cx="1876.2" cy="289.4"/><circle cx="1856.7" cy="266.2"/><circle cx="1876.1" cy="289.0"/><circle cx="1881.5" cy="302.8"/><circle cx="1895.5" cy="270.9"/><circle cx="1859.2" cy="286.5"/><circle cx="1895.8" cy="271.9"/><circle cx="1873.8" cy="305.0"/><circle cx="1877.5" cy="316.6"/><circle cx="1868.4" cy="299.9"/><circle cx="1886.5" cy="288.0"/><circle cx="1873.2" cy="300.3"/><circle cx="1783.2" cy="239.9"/><circle cx="1782.1" cy="273.7"/><circle cx="1786.3" cy="237.6"/><circle cx="1782.5" cy="221.1"/><circle cx="1722.2" cy="233.8"/><circle cx="1743.8" cy="241.5"/><circle cx="1757.3" cy="248.4"/><circle cx="1763.2" cy="191.2"/><circle cx="1706.6" cy="198.8"/><circle cx="1750.3" cy="214.0"/><circle cx="1740.4" cy="198.6"/><circle cx="1755.8" cy="229.6"/><circle cx="1757.0" cy="237.8"/><circle cx="1710.9" cy="230.0"/><circle cx="1728.5" cy="232.9"/><circle cx="1755.0" cy="227.7"/><circle cx="1718.6" cy="239.3"/><circle cx="1749.2" cy="229.2"/><circle cx="1741.9" cy="181.2"/><circle cx="1734.8" cy="216.1"/><circle cx="1776.0" cy="222.2"/><circle cx="1746.3" cy="229.3"/><circle cx="1739.0" cy="215.7"/><circle cx="1790.4" cy="232.8"/><circle cx="1737.4" cy="241.9"/><circle cx="1753.4" cy="214.9"/><circle cx="1757.1" cy="206.8"/><circle cx="1825.1" cy="251.7"/><circle cx="1764.0" cy="239.0"/><circle cx="1772.9" cy="230.2"/><circle cx="1741.9" cy="222.4"/><circle cx="1774.5" cy="223.6"/><circle cx="1784.6" cy="215.6"/><circle cx="1725.2" cy="205.8"/><circle cx="1766.4" cy="213.8"/><circle cx="1786.9" cy="254.4"/><circle cx="1797.5" cy="235.4"/><circle cx="1751.4" cy="246.3"/><circle cx="1809.1" cy="240.7"/><circle cx="1738.2" cy="207.4"/><circle cx="1776.6" cy="235.6"/><circle cx="1763.9" cy="231.9"/><circle cx="1719.8" cy="235.3"/><circle cx="1785.1" cy="205.0"/><circle cx="1721.7" cy="209.6"/><circle cx="1733.7" cy="225.7"/><circle cx="1752.4" cy="214.1"/><circle cx="1721.3" cy="217.6"/><circle cx="1782.0" cy="230.0"/><circle cx="1734.4" cy="241.3"/><circle cx="1715.6" cy="233.0"/><circle cx="1766.7" cy="198.9"/><circle cx="1757.9" cy="203.9"/><circle cx="1728.0" cy="206.0"/><circle cx="1738.4" cy="220.1"/><circle cx="1774.5" cy="229.8"/><circle cx="1774.3" cy="224.4"/><circle cx="1709.9" cy="221.5"/><circle cx="1772.2" cy="244.6"/><circle cx="1775.6" cy="234.0"/><circle cx="1781.6" cy="230.0"/><circle cx="1739.8" cy="222.2"/><circle cx="1736.3" cy="208.1"/><circle cx="1746.0" cy="235.9"/><circle cx="1732.2" cy="231.9"/><circle cx="1749.5" cy="210.8"/><circle cx="1730.9" cy="240.8"/><circle cx="1745.1" cy="222.6"/><circle cx="1736.2" cy="233.0"/><circle cx="1752.8" cy="225.7"/><circle cx="1756.7" cy="224.2"/><circle cx="1742.5" cy="233.2"/><circle cx="1742.5" cy="207.9"/><circle cx="1792.7" cy="234.2"/><circle cx="1780.1" cy="216.2"/><circle cx="1762.0" cy="235.9"/><circle cx="1731.1" cy="215.6"/><circle cx="1768.9" cy="225.8"/><circle cx="1750.1" cy="217.0"/><circle cx="1764.0" cy="238.8"/><circle cx="1916.3" cy="272.5"/><circle cx="1913.1" cy="257.9"/><circle cx="1901.2" cy="289.6"/><circle cx="1937.3" cy="276.1"/><circle cx="1927.8" cy="296.6"/><circle cx="1895.6" cy="274.5"/><circle cx="1926.3" cy="286.1"/><circle cx="1921.0" cy="268.9"/><circle cx="1915.4" cy="278.1"/><circle cx="1918.4" cy="273.4"/><circle cx="1893.2" cy="270.4"/><circle cx="1943.7" cy="289.8"/><circle cx="1940.5" cy="279.2"/><circle cx="1909.8" cy="284.9"/><circle cx="1915.8" cy="261.0"/><circle cx="1916.7" cy="265.1"/><circle cx="1901.3" cy="278.2"/><circle cx="1917.5" cy="283.5"/><circle cx="1908.1" cy="287.2"/><circle cx="1892.4" cy="289.3"/><circle cx="1903.6" cy="279.0"/><circle cx="1900.5" cy="281.7"/><circle cx="1902.5" cy="276.5"/><circle cx="1906.3" cy="276.4"/><circle cx="1920.0" cy="277.3"/><circle cx="1613.4" cy="172.4"/><circle cx="1618.7" cy="228.0"/><circle cx="1658.8" cy="228.0"/><circle cx="1662.1" cy="244.2"/><circle cx="1678.9" cy="212.8"/><circle cx="1694.7" cy="198.4"/><circle cx="1699.6" cy="196.1"/><circle cx="1721.3" cy="190.1"/><circle cx="1762.7" cy="191.5"/><circle cx="1800.7" cy="191.1"/><circle cx="1875.1" cy="214.2"/><circle cx="1896.8" cy="235.3"/><circle cx="1947.1" cy="232.9"/><circle cx="1965.8" cy="256.0"/><circle cx="1953.0" cy="264.5"/><circle cx="1948.1" cy="267.4"/><circle cx="1959.9" cy="278.7"/><circle cx="1929.3" cy="257.0"/><circle cx="1913.5" cy="357.6"/><circle cx="1872.1" cy="327.6"/><circle cx="1858.3" cy="318.1"/><circle cx="1829.3" cy="321.7"/><circle cx="1838.6" cy="316.7"/><circle cx="1812.4" cy="311.8"/><circle cx="1774.9" cy="299.6"/><circle cx="1790.3" cy="295.0"/><circle cx="1794.2" cy="295.0"/><circle cx="1900.7" cy="319.3"/><circle cx="1886.9" cy="318.7"/><circle cx="1891.9" cy="317.7"/><circle cx="1726.2" cy="251.1"/><circle cx="1745.9" cy="265.5"/><circle cx="1750.9" cy="279.3"/><circle cx="1755.8" cy="283.6"/><circle cx="1761.7" cy="274.3"/><circle cx="1766.6" cy="275.3"/><circle cx="1703.5" cy="234.9"/><circle cx="1710.4" cy="237.9"/><circle cx="1718.3" cy="201.0"/><circle cx="1752.8" cy="198.4"/></g><rect class="bx" x="1599.7" y="86.9" width="380.6" height="319.2"/><line class="rl" x1="1599.7" y1="194.6" x2="1980.3" y2="295.3"/><text class="l" x="18.5" y="551.2">(e)</text><text class="t" x="275.9" y="533.5">Pearson-Correlation:0.7865</text><text class="t" x="275.9" y="557.8">P-value:1.832e-88</text><text class="t" x="275.9" y="582.1">Sample Size:(N=415)</text><text class="k" x="114.2" y="948.8">9</text><text class="k" x="193" y="948.8">10</text><text class="k" x="271.8" y="948.8">11</text><text class="k" x="350.6" y="948.8">12</text><text class="k" x="429.4" y="948.8">13</text><text class="k" transform="translate(62.9 872.3) rotate(-90)">4</text><text class="k" transform="translate(62.9 814.8) rotate(-90)">6</text><text class="k" transform="translate(62.9 757.2) rotate(-90)">8</text><text class="k" transform="translate(62.9 699.7) rotate(-90)">10</text><text class="k" transform="translate(62.9 642.2) rotate(-90)">12</text><path class="tk" d="M114.2 911.8v9.8M193 911.8v9.8M271.8 911.8v9.8M350.6 911.8v9.8M429.4 911.8v9.8M85.6 872.3h-9.8M85.6 814.8h-9.8M85.6 757.2h-9.8M85.6 699.7h-9.8M85.6 642.2h-9.8"/><text class="a" x="275.9" y="988.8">KPNA2</text><text class="a" transform="translate(22.3 752) rotate(-90)">NCAPH</text><g class="c"><circle cx="319.8" cy="713.8"/><circle cx="295.9" cy="722.5"/><circle cx="308.2" cy="711.7"/><circle cx="344.2" cy="704.7"/><circle cx="328.1" cy="695.0"/><circle cx="363.0" cy="715.9"/><circle cx="300.5" cy="724.5"/><circle cx="299.8" cy="711.5"/><circle cx="336.2" cy="722.0"/><circle cx="290.1" cy="737.9"/><circle cx="283.9" cy="726.7"/><circle cx="333.4" cy="696.2"/><circle cx="306.6" cy="723.2"/><circle cx="349.6" cy="712.6"/><circle cx="323.2" cy="725.6"/><circle cx="306.0" cy="736.1"/><circle cx="284.3" cy="744.0"/><circle cx="352.3" cy="686.5"/><circle cx="314.6" cy="722.3"/><circle cx="277.2" cy="711.7"/><circle cx="268.4" cy="751.9"/><circle cx="274.6" cy="742.1"/><circle cx="306.4" cy="736.3"/><circle cx="359.7" cy="703.0"/><circle cx="284.0" cy="733.0"/><circle cx="323.8" cy="710.0"/><circle cx="311.2" cy="686.3"/><circle cx="198.4" cy="765.1"/><circle cx="282.4" cy="766.9"/><circle cx="349.5" cy="723.1"/><circle cx="242.3" cy="747.1"/><circle cx="356.0" cy="708.2"/><circle cx="317.4" cy="725.4"/><circle cx="253.3" cy="738.1"/><circle cx="380.2" cy="694.3"/><circle cx="311.8" cy="726.3"/><circle cx="367.9" cy="692.9"/><circle cx="324.0" cy="722.9"/><circle cx="293.7" cy="745.1"/><circle cx="357.7" cy="714.2"/><circle cx="378.8" cy="698.5"/><circle cx="358.7" cy="700.9"/><circle cx="276.1" cy="745.8"/><circle cx="334.1" cy="706.2"/><circle cx="270.4" cy="730.7"/><circle cx="299.2" cy="743.6"/><circle cx="360.3" cy="697.8"/><circle cx="258.2" cy="726.4"/><circle cx="406.0" cy="695.0"/><circle cx="263.3" cy="751.0"/><circle cx="273.6" cy="752.0"/><circle cx="340.4" cy="709.3"/><circle cx="312.2" cy="736.8"/><circle cx="308.6" cy="721.8"/><circle cx="277.0" cy="723.4"/><circle cx="339.3" cy="708.8"/><circle cx="323.3" cy="720.9"/><circle cx="306.5" cy="710.5"/><circle cx="284.8" cy="730.9"/><circle cx="262.5" cy="745.5"/><circle cx="312.0" cy="716.9"/><circle cx="237.6" cy="753.4"/><circle cx="291.0" cy="730.4"/><circle cx="332.8" cy="703.6"/><circle cx="340.0" cy="715.3"/><circle cx="302.3" cy="733.7"/><circle cx="214.2" cy="736.2"/><circle cx="330.7" cy="706.2"/><circle cx="349.2" cy="717.9"/><circle cx="318.3" cy="725.7"/><circle cx="351.2" cy="682.4"/><circle cx="351.8" cy="709.5"/><circle cx="261.5" cy="760.9"/><circle cx="310.4" cy="734.5"/><circle cx="300.6" cy="737.1"/><circle cx="369.5" cy="698.0"/><circle cx="353.0" cy="707.2"/><circle cx="313.5" cy="707.5"/><circle cx="334.9" cy="713.8"/><circle cx="356.2" cy="734.4"/><circle cx="289.6" cy="731.6"/><circle cx="304.2" cy="714.2"/><circle cx="313.7" cy="728.9"/><circle cx="290.8" cy="705.4"/><circle cx="313.3" cy="751.5"/><circle cx="325.7" cy="725.3"/><circle cx="267.7" cy="737.5"/><circle cx="272.4" cy="734.3"/><circle cx="338.4" cy="700.8"/><circle cx="369.2" cy="701.4"/><circle cx="381.1" cy="695.6"/><circle cx="245.5" cy="730.1"/><circle cx="332.3" cy="727.6"/><circle cx="283.4" cy="730.1"/><circle cx="290.6" cy="717.8"/><circle cx="310.8" cy="735.6"/><circle cx="332.0" cy="724.6"/><circle cx="331.9" cy="707.8"/><circle cx="225.8" cy="749.7"/><circle cx="298.0" cy="742.8"/><circle cx="351.0" cy="702.4"/><circle cx="319.8" cy="722.7"/><circle cx="263.3" cy="760.5"/><circle cx="274.2" cy="723.1"/><circle cx="279.2" cy="717.3"/><circle cx="346.2" cy="698.7"/><circle cx="373.8" cy="691.0"/><circle cx="275.5" cy="738.5"/><circle cx="336.6" cy="726.0"/><circle cx="302.1" cy="722.0"/><circle cx="341.9" cy="733.0"/><circle cx="306.8" cy="728.3"/><circle cx="265.5" cy="717.0"/><circle cx="290.8" cy="731.6"/><circle cx="293.9" cy="740.0"/><circle cx="370.4" cy="714.0"/><circle cx="284.0" cy="725.8"/><circle cx="333.1" cy="713.8"/><circle cx="293.9" cy="759.4"/><circle cx="290.8" cy="734.1"/><circle cx="317.7" cy="709.6"/><circle cx="286.8" cy="714.4"/><circle cx="381.3" cy="690.1"/><circle cx="362.0" cy="708.2"/><circle cx="268.8" cy="727.1"/><circle cx="338.0" cy="730.6"/><circle cx="363.8" cy="693.2"/><circle cx="262.6" cy="719.4"/><circle cx="302.2" cy="736.0"/><circle cx="366.3" cy="702.3"/><circle cx="283.5" cy="732.4"/><circle cx="341.8" cy="728.1"/><circle cx="308.3" cy="717.6"/><circle cx="323.2" cy="728.3"/><circle cx="274.7" cy="732.1"/><circle cx="318.5" cy="742.1"/><circle cx="298.4" cy="729.5"/><circle cx="376.1" cy="698.3"/><circle cx="339.1" cy="720.5"/><circle cx="317.3" cy="720.7"/><circle cx="315.1" cy="728.5"/><circle cx="337.0" cy="710.8"/><circle cx="259.8" cy="753.0"/><circle cx="278.4" cy="738.4"/><circle cx="278.7" cy="730.5"/><circle cx="287.8" cy="741.0"/><circle cx="257.4" cy="752.1"/><circle cx="327.1" cy="704.3"/><circle cx="295.5" cy="726.8"/><circle cx="350.5" cy="687.1"/><circle cx="309.7" cy="726.3"/><circle cx="304.1" cy="737.9"/><circle cx="339.8" cy="743.7"/><circle cx="330.1" cy="720.4"/><circle cx="308.0" cy="739.0"/><circle cx="340.4" cy="731.3"/><circle cx="361.2" cy="713.5"/><circle cx="289.3" cy="709.5"/><circle cx="357.2" cy="699.9"/><circle cx="308.1" cy="730.0"/><circle cx="345.4" cy="714.4"/><circle cx="312.4" cy="725.4"/><circle cx="295.9" cy="719.1"/><circle cx="315.8" cy="698.7"/><circle cx="275.5" cy="743.6"/><circle cx="262.0" cy="759.0"/><circle cx="309.9" cy="718.8"/><circle cx="307.3" cy="733.0"/><circle cx="271.5" cy="733.7"/><circle cx="387.6" cy="691.7"/><circle cx="325.4" cy="711.3"/><circle cx="291.5" cy="742.8"/><circle cx="327.6" cy="706.1"/><circle cx="333.2" cy="717.3"/><circle cx="303.7" cy="739.0"/><circle cx="304.9" cy="726.7"/><circle cx="242.5" cy="736.6"/><circle cx="323.1" cy="724.5"/><circle cx="379.2" cy="694.6"/><circle cx="348.2" cy="693.1"/><circle cx="349.4" cy="706.6"/><circle cx="291.6" cy="728.6"/><circle cx="278.2" cy="745.5"/><circle cx="342.5" cy="705.6"/><circle cx="324.4" cy="720.3"/><circle cx="309.2" cy="732.9"/><circle cx="294.0" cy="707.2"/><circle cx="351.0" cy="720.7"/><circle cx="335.7" cy="714.7"/><circle cx="292.6" cy="719.2"/><circle cx="310.0" cy="726.5"/><circle cx="259.2" cy="758.5"/><circle cx="268.9" cy="732.7"/><circle cx="331.0" cy="709.3"/><circle cx="303.3" cy="744.9"/><circle cx="289.8" cy="752.8"/><circle cx="331.8" cy="741.2"/><circle cx="358.1" cy="705.9"/><circle cx="279.7" cy="725.1"/><circle cx="297.8" cy="717.6"/><circle cx="303.0" cy="723.5"/><circle cx="395.1" cy="677.9"/><circle cx="351.3" cy="713.7"/><circle cx="328.4" cy="733.4"/><circle cx="258.7" cy="732.1"/><circle cx="346.7" cy="728.7"/><circle cx="329.6" cy="705.5"/><circle cx="303.5" cy="718.6"/><circle cx="281.0" cy="719.1"/><circle cx="300.8" cy="737.8"/><circle cx="255.0" cy="746.0"/><circle cx="249.2" cy="761.0"/><circle cx="168.3" cy="773.9"/><circle cx="231.8" cy="763.2"/><circle cx="247.8" cy="736.3"/><circle cx="162.5" cy="748.1"/><circle cx="284.1" cy="704.2"/><circle cx="249.1" cy="738.4"/><circle cx="270.2" cy="733.8"/><circle cx="247.3" cy="780.8"/><circle cx="271.1" cy="749.7"/><circle cx="280.5" cy="745.4"/><circle cx="314.4" cy="735.3"/><circle cx="210.7" cy="741.0"/><circle cx="298.4" cy="729.8"/><circle cx="216.9" cy="759.2"/><circle cx="258.3" cy="771.6"/><circle cx="232.0" cy="745.3"/><circle cx="234.2" cy="734.0"/><circle cx="196.3" cy="769.8"/><circle cx="237.2" cy="750.3"/><circle cx="215.3" cy="762.8"/><circle cx="241.6" cy="754.5"/><circle cx="253.2" cy="749.0"/><circle cx="244.5" cy="741.5"/><circle cx="241.2" cy="745.5"/><circle cx="292.3" cy="763.5"/><circle cx="251.7" cy="739.0"/><circle cx="263.8" cy="749.8"/><circle cx="275.9" cy="724.5"/><circle cx="236.6" cy="729.9"/><circle cx="253.1" cy="759.5"/><circle cx="264.4" cy="745.6"/><circle cx="245.6" cy="768.5"/><circle cx="283.4" cy="750.3"/><circle cx="231.4" cy="759.5"/><circle cx="237.6" cy="743.5"/><circle cx="251.8" cy="774.9"/><circle cx="238.7" cy="754.6"/><circle cx="256.1" cy="776.4"/><circle cx="237.6" cy="764.0"/><circle cx="189.8" cy="785.6"/><circle cx="279.0" cy="747.1"/><circle cx="237.6" cy="761.1"/><circle cx="264.4" cy="741.7"/><circle cx="229.8" cy="790.1"/><circle cx="257.4" cy="735.2"/><circle cx="206.3" cy="746.5"/><circle cx="285.1" cy="740.8"/><circle cx="239.9" cy="745.4"/><circle cx="239.4" cy="767.9"/><circle cx="172.0" cy="778.2"/><circle cx="193.3" cy="788.5"/><circle cx="233.5" cy="758.1"/><circle cx="225.9" cy="749.1"/><circle cx="228.1" cy="754.5"/><circle cx="235.5" cy="765.6"/><circle cx="267.1" cy="735.3"/><circle cx="231.0" cy="746.3"/><circle cx="234.0" cy="754.0"/><circle cx="227.3" cy="763.3"/><circle cx="223.2" cy="777.4"/><circle cx="256.4" cy="753.6"/><circle cx="238.0" cy="766.6"/><circle cx="234.4" cy="753.7"/><circle cx="260.9" cy="771.2"/><circle cx="256.5" cy="777.5"/><circle cx="262.1" cy="736.6"/><circle cx="265.1" cy="747.6"/><circle cx="211.3" cy="763.5"/><circle cx="226.2" cy="763.7"/><circle cx="388.0" cy="702.2"/><circle cx="381.9" cy="714.3"/><circle cx="359.5" cy="698.5"/><circle cx="382.3" cy="701.8"/><circle cx="396.1" cy="700.7"/><circle cx="419.9" cy="690.4"/><circle cx="409.6" cy="697.0"/><circle cx="387.6" cy="709.3"/><circle cx="384.6" cy="718.8"/><circle cx="354.3" cy="700.2"/><circle cx="412.5" cy="696.5"/><circle cx="400.7" cy="707.9"/><circle cx="411.2" cy="698.9"/><circle cx="417.9" cy="705.8"/><circle cx="408.4" cy="696.2"/><circle cx="392.0" cy="699.4"/><circle cx="386.0" cy="697.5"/><circle cx="375.3" cy="719.9"/><circle cx="376.0" cy="696.6"/><circle cx="404.2" cy="694.6"/><circle cx="448.9" cy="681.3"/><circle cx="388.0" cy="711.8"/><circle cx="399.9" cy="697.7"/><circle cx="399.6" cy="706.9"/><circle cx="383.1" cy="695.2"/><circle cx="392.8" cy="695.7"/><circle cx="382.0" cy="686.5"/><circle cx="349.6" cy="721.9"/><circle cx="414.9" cy="696.2"/><circle cx="346.1" cy="703.0"/><circle cx="380.0" cy="705.7"/><circle cx="385.7" cy="711.7"/><circle cx="402.0" cy="692.5"/><circle cx="382.5" cy="689.6"/><circle cx="381.7" cy="706.3"/><circle cx="374.7" cy="716.4"/><circle cx="391.9" cy="683.8"/><circle cx="387.6" cy="714.0"/><circle cx="375.1" cy="709.1"/><circle cx="363.7" cy="723.9"/><circle cx="367.8" cy="701.8"/><circle cx="398.6" cy="710.5"/><circle cx="355.6" cy="720.7"/><circle cx="397.6" cy="709.3"/><circle cx="393.8" cy="703.4"/><circle cx="422.1" cy="701.9"/><circle cx="374.4" cy="708.4"/><circle cx="366.4" cy="708.7"/><circle cx="384.9" cy="695.2"/><circle cx="376.1" cy="693.1"/><circle cx="329.0" cy="728.5"/><circle cx="417.7" cy="689.8"/><circle cx="395.8" cy="700.7"/><circle cx="392.8" cy="700.0"/><circle cx="372.4" cy="714.5"/><circle cx="399.2" cy="701.0"/><circle cx="381.5" cy="701.2"/><circle cx="430.8" cy="696.2"/><circle cx="414.4" cy="716.8"/><circle cx="421.1" cy="682.9"/><circle cx="359.8" cy="711.3"/><circle cx="371.6" cy="717.1"/><circle cx="378.0" cy="701.2"/><circle cx="379.4" cy="719.0"/><circle cx="426.2" cy="683.1"/><circle cx="394.9" cy="689.8"/><circle cx="361.7" cy="705.4"/><circle cx="387.9" cy="716.2"/><circle cx="426.8" cy="668.9"/><circle cx="202.8" cy="783.1"/><circle cx="176.3" cy="788.4"/><circle cx="208.0" cy="776.5"/><circle cx="207.8" cy="786.8"/><circle cx="211.5" cy="787.3"/><circle cx="230.1" cy="787.1"/><circle cx="207.0" cy="798.9"/><circle cx="218.3" cy="787.6"/><circle cx="211.9" cy="789.2"/><circle cx="213.6" cy="778.3"/><circle cx="200.2" cy="801.9"/><circle cx="222.0" cy="797.0"/><circle cx="201.6" cy="790.8"/><circle cx="224.1" cy="790.0"/><circle cx="214.0" cy="781.1"/><circle cx="206.5" cy="789.8"/><circle cx="212.8" cy="788.6"/><circle cx="214.7" cy="795.1"/><circle cx="204.0" cy="777.2"/><circle cx="235.8" cy="779.3"/><circle cx="99.8" cy="832.6"/><circle cx="136.3" cy="852.3"/><circle cx="143.6" cy="852.7"/><circle cx="266.4" cy="872.0"/><circle cx="271.4" cy="812.5"/><circle cx="294.0" cy="662.0"/><circle cx="411.4" cy="683.1"/><circle cx="451.8" cy="694.1"/><circle cx="451.8" cy="705.4"/><circle cx="435.0" cy="706.8"/><circle cx="439.0" cy="710.3"/><circle cx="406.4" cy="729.1"/><circle cx="392.6" cy="731.6"/><circle cx="369.4" cy="754.1"/><circle cx="370.0" cy="740.9"/><circle cx="323.6" cy="765.5"/><circle cx="263.5" cy="698.1"/><circle cx="260.5" cy="705.4"/><circle cx="254.6" cy="709.9"/><circle cx="164.5" cy="775.0"/><circle cx="167.8" cy="786.2"/><circle cx="163.9" cy="791.2"/><circle cx="164.5" cy="795.1"/><circle cx="148.1" cy="813.3"/><circle cx="155.0" cy="811.3"/><circle cx="165.9" cy="813.8"/><circle cx="173.8" cy="816.4"/><circle cx="150.1" cy="824.7"/><circle cx="166.9" cy="823.7"/><circle cx="180.7" cy="826.7"/><circle cx="173.8" cy="832.2"/><circle cx="189.9" cy="822.7"/><circle cx="190.9" cy="808.9"/><circle cx="185.6" cy="776.4"/><circle cx="202.0" cy="799.5"/><circle cx="196.8" cy="794.7"/><circle cx="230.9" cy="800.0"/><circle cx="229.0" cy="804.6"/><circle cx="241.8" cy="787.2"/><circle cx="248.1" cy="787.2"/><circle cx="274.3" cy="778.4"/><circle cx="259.5" cy="782.9"/><circle cx="202.3" cy="748.8"/><circle cx="203.3" cy="755.7"/></g><rect class="bx" x="85.6" y="592.1" width="380.7" height="319.7"/><line class="rl" x1="85.6" y1="821.0" x2="466.3" y2="673.3"/><text class="l" x="513.3" y="551.2">(f)</text><text class="t" x="780.9" y="530.4">Pearson-Correlation:-0.6841</text><text class="t" x="780.9" y="554.7">P-value:1.453e-58</text><text class="t" x="780.9" y="579">Sample Size:(N=415)</text><text class="k" x="618.8" y="946.4">9</text><text class="k" x="697.4" y="946.4">10</text><text class="k" x="776" y="946.4">11</text><text class="k" x="854.7" y="946.4">12</text><text class="k" x="933.3" y="946.4">13</text><text class="k" transform="translate(568.1 899.1) rotate(-90)">0</text><text class="k" transform="translate(568.1 852.7) rotate(-90)">2</text><text class="k" transform="translate(568.1 806.3) rotate(-90)">4</text><text class="k" transform="translate(568.1 759.9) rotate(-90)">6</text><text class="k" transform="translate(568.1 713.5) rotate(-90)">8</text><text class="k" transform="translate(568.1 667.1) rotate(-90)">10</text><text class="k" transform="translate(568.1 620.7) rotate(-90)">12</text><path class="tk" d="M618.8 909.4v9.8M697.4 909.4v9.8M776 909.4v9.8M854.7 909.4v9.8M933.3 909.4v9.8M590.8 899.1h-9.8M590.8 852.7h-9.8M590.8 806.3h-9.8M590.8 759.9h-9.8M590.8 713.5h-9.8M590.8 667.1h-9.8M590.8 620.7h-9.8"/><text class="a" x="780.9" y="986.4">KPNA2</text><text class="a" transform="translate(527.5 749.2) rotate(-90)">GPRASP1</text><g class="c"><circle cx="857.0" cy="802.6"/><circle cx="829.7" cy="803.0"/><circle cx="873.7" cy="749.8"/><circle cx="738.5" cy="712.6"/><circle cx="801.0" cy="744.8"/><circle cx="826.7" cy="736.1"/><circle cx="792.5" cy="768.8"/><circle cx="713.9" cy="770.1"/><circle cx="880.7" cy="769.8"/><circle cx="832.6" cy="784.5"/><circle cx="753.7" cy="730.3"/><circle cx="808.3" cy="761.2"/><circle cx="828.5" cy="770.8"/><circle cx="857.7" cy="800.7"/><circle cx="859.8" cy="769.5"/><circle cx="793.0" cy="739.6"/><circle cx="785.5" cy="786.4"/><circle cx="835.9" cy="772.6"/><circle cx="865.1" cy="787.7"/><circle cx="828.1" cy="724.9"/><circle cx="798.1" cy="763.8"/><circle cx="842.9" cy="791.1"/><circle cx="829.4" cy="775.5"/><circle cx="863.2" cy="825.5"/><circle cx="865.5" cy="739.1"/><circle cx="855.9" cy="804.7"/><circle cx="767.9" cy="695.9"/><circle cx="785.2" cy="719.2"/><circle cx="788.1" cy="697.5"/><circle cx="791.5" cy="768.4"/><circle cx="840.8" cy="771.1"/><circle cx="819.9" cy="752.2"/><circle cx="845.0" cy="777.1"/><circle cx="818.1" cy="710.1"/><circle cx="869.5" cy="773.8"/><circle cx="856.3" cy="786.7"/><circle cx="765.2" cy="718.6"/><circle cx="785.0" cy="742.2"/><circle cx="817.6" cy="722.2"/><circle cx="855.0" cy="785.0"/><circle cx="858.2" cy="775.0"/><circle cx="891.9" cy="805.7"/><circle cx="751.0" cy="763.8"/><circle cx="832.5" cy="770.5"/><circle cx="830.3" cy="752.6"/><circle cx="809.9" cy="766.1"/><circle cx="830.6" cy="740.1"/><circle cx="727.9" cy="753.1"/><circle cx="835.6" cy="770.1"/><circle cx="807.9" cy="755.6"/><circle cx="770.7" cy="747.5"/><circle cx="891.4" cy="768.6"/><circle cx="797.6" cy="749.0"/><circle cx="835.4" cy="764.0"/><circle cx="775.5" cy="790.4"/><circle cx="749.4" cy="759.1"/><circle cx="787.6" cy="788.9"/><circle cx="835.7" cy="770.6"/><circle cx="783.6" cy="745.5"/><circle cx="832.7" cy="793.9"/><circle cx="897.0" cy="785.3"/><circle cx="879.7" cy="770.2"/><circle cx="796.5" cy="786.9"/><circle cx="789.0" cy="756.3"/><circle cx="855.3" cy="791.5"/><circle cx="788.2" cy="702.2"/><circle cx="789.0" cy="734.0"/><circle cx="896.7" cy="790.3"/><circle cx="847.4" cy="758.2"/><circle cx="841.4" cy="780.4"/><circle cx="824.1" cy="740.5"/><circle cx="948.2" cy="800.3"/><circle cx="928.2" cy="866.5"/><circle cx="816.2" cy="770.8"/><circle cx="869.9" cy="762.4"/><circle cx="794.7" cy="800.0"/><circle cx="839.7" cy="785.7"/><circle cx="876.1" cy="800.0"/><circle cx="905.2" cy="740.6"/><circle cx="803.5" cy="789.7"/><circle cx="842.0" cy="778.0"/><circle cx="925.9" cy="849.0"/><circle cx="848.3" cy="819.8"/><circle cx="897.4" cy="772.3"/><circle cx="831.8" cy="815.0"/><circle cx="816.0" cy="781.4"/><circle cx="784.6" cy="747.2"/><circle cx="813.6" cy="703.7"/><circle cx="743.3" cy="771.0"/><circle cx="782.4" cy="751.5"/><circle cx="787.5" cy="761.5"/><circle cx="868.6" cy="760.4"/><circle cx="756.8" cy="745.1"/><circle cx="838.4" cy="787.6"/><circle cx="735.8" cy="755.8"/><circle cx="939.1" cy="804.4"/><circle cx="827.4" cy="714.3"/><circle cx="840.1" cy="759.3"/><circle cx="906.7" cy="785.3"/><circle cx="817.6" cy="768.9"/><circle cx="833.5" cy="766.8"/><circle cx="831.5" cy="774.8"/><circle cx="836.8" cy="803.8"/><circle cx="791.2" cy="789.7"/><circle cx="896.0" cy="805.4"/><circle cx="888.9" cy="761.2"/><circle cx="833.8" cy="770.4"/><circle cx="878.1" cy="789.2"/><circle cx="825.1" cy="763.8"/><circle cx="809.1" cy="753.6"/><circle cx="824.5" cy="764.7"/><circle cx="869.0" cy="735.0"/><circle cx="762.3" cy="745.5"/><circle cx="810.6" cy="769.9"/><circle cx="842.6" cy="782.7"/><circle cx="786.5" cy="741.6"/><circle cx="832.2" cy="790.7"/><circle cx="802.2" cy="711.3"/><circle cx="837.2" cy="768.5"/><circle cx="819.5" cy="775.9"/><circle cx="846.4" cy="764.8"/><circle cx="800.3" cy="749.5"/><circle cx="740.6" cy="744.1"/><circle cx="728.0" cy="708.5"/><circle cx="775.1" cy="725.9"/><circle cx="789.9" cy="754.4"/><circle cx="773.1" cy="711.1"/><circle cx="882.0" cy="794.7"/><circle cx="860.0" cy="772.9"/><circle cx="860.6" cy="784.5"/><circle cx="775.2" cy="756.0"/><circle cx="860.3" cy="800.7"/><circle cx="796.9" cy="750.8"/><circle cx="874.0" cy="795.7"/><circle cx="816.1" cy="778.5"/><circle cx="744.5" cy="702.5"/><circle cx="821.4" cy="766.1"/><circle cx="804.1" cy="725.3"/><circle cx="910.0" cy="839.5"/><circle cx="773.6" cy="739.5"/><circle cx="827.9" cy="734.8"/><circle cx="820.4" cy="750.3"/><circle cx="785.8" cy="761.8"/><circle cx="794.7" cy="755.2"/><circle cx="840.7" cy="732.9"/><circle cx="822.4" cy="805.6"/><circle cx="807.0" cy="760.6"/><circle cx="811.5" cy="766.7"/><circle cx="829.0" cy="759.5"/><circle cx="796.3" cy="730.0"/><circle cx="831.4" cy="731.8"/><circle cx="825.4" cy="768.9"/><circle cx="866.3" cy="786.4"/><circle cx="854.9" cy="774.7"/><circle cx="837.5" cy="790.0"/><circle cx="858.4" cy="790.6"/><circle cx="805.0" cy="729.7"/><circle cx="874.0" cy="781.3"/><circle cx="799.4" cy="778.6"/><circle cx="833.3" cy="736.3"/><circle cx="787.6" cy="796.8"/><circle cx="856.4" cy="768.7"/><circle cx="773.9" cy="800.3"/><circle cx="843.3" cy="785.9"/><circle cx="827.0" cy="727.9"/><circle cx="800.3" cy="763.3"/><circle cx="839.1" cy="775.3"/><circle cx="795.0" cy="739.4"/><circle cx="870.6" cy="791.2"/><circle cx="795.5" cy="751.4"/><circle cx="837.8" cy="693.9"/><circle cx="863.5" cy="804.0"/><circle cx="768.7" cy="728.9"/><circle cx="858.8" cy="784.3"/><circle cx="819.1" cy="779.9"/><circle cx="827.2" cy="766.8"/><circle cx="843.5" cy="746.0"/><circle cx="779.6" cy="761.5"/><circle cx="891.1" cy="793.3"/><circle cx="842.1" cy="780.7"/><circle cx="856.1" cy="765.1"/><circle cx="856.5" cy="778.9"/><circle cx="871.0" cy="766.4"/><circle cx="819.5" cy="801.1"/><circle cx="796.9" cy="725.4"/><circle cx="762.9" cy="756.3"/><circle cx="788.6" cy="701.2"/><circle cx="802.5" cy="760.2"/><circle cx="864.5" cy="780.2"/><circle cx="761.7" cy="756.3"/><circle cx="806.5" cy="761.9"/><circle cx="822.8" cy="820.0"/><circle cx="779.5" cy="813.0"/><circle cx="817.3" cy="748.9"/><circle cx="773.2" cy="755.5"/><circle cx="837.8" cy="750.1"/><circle cx="808.6" cy="734.1"/><circle cx="794.9" cy="748.8"/><circle cx="796.8" cy="772.9"/><circle cx="829.2" cy="784.5"/><circle cx="861.0" cy="781.2"/><circle cx="765.0" cy="761.8"/><circle cx="852.2" cy="752.5"/><circle cx="787.2" cy="724.6"/><circle cx="749.3" cy="724.5"/><circle cx="813.4" cy="716.4"/><circle cx="809.8" cy="791.2"/><circle cx="820.3" cy="761.0"/><circle cx="839.0" cy="766.1"/><circle cx="737.9" cy="731.1"/><circle cx="888.8" cy="768.2"/><circle cx="854.3" cy="779.7"/><circle cx="864.1" cy="746.5"/><circle cx="760.6" cy="728.8"/><circle cx="837.7" cy="776.8"/><circle cx="785.5" cy="784.8"/><circle cx="802.2" cy="755.2"/><circle cx="808.1" cy="791.1"/><circle cx="759.3" cy="732.0"/><circle cx="879.7" cy="757.0"/><circle cx="853.5" cy="800.7"/><circle cx="759.3" cy="720.9"/><circle cx="735.8" cy="725.8"/><circle cx="789.8" cy="715.2"/><circle cx="731.9" cy="701.0"/><circle cx="753.5" cy="701.3"/><circle cx="780.0" cy="720.5"/><circle cx="780.2" cy="729.8"/><circle cx="736.4" cy="718.9"/><circle cx="760.7" cy="733.6"/><circle cx="765.1" cy="708.5"/><circle cx="770.6" cy="734.5"/><circle cx="756.5" cy="705.3"/><circle cx="709.7" cy="674.1"/><circle cx="755.1" cy="698.5"/><circle cx="812.0" cy="707.9"/><circle cx="735.9" cy="707.0"/><circle cx="765.5" cy="688.0"/><circle cx="779.4" cy="729.9"/><circle cx="734.8" cy="751.8"/><circle cx="735.9" cy="690.0"/><circle cx="771.9" cy="686.4"/><circle cx="750.9" cy="719.6"/><circle cx="742.4" cy="691.0"/><circle cx="754.7" cy="714.2"/><circle cx="721.6" cy="699.4"/><circle cx="715.2" cy="700.6"/><circle cx="713.1" cy="735.6"/><circle cx="751.5" cy="719.1"/><circle cx="756.9" cy="720.8"/><circle cx="743.1" cy="708.1"/><circle cx="792.5" cy="720.1"/><circle cx="778.7" cy="715.6"/><circle cx="767.0" cy="702.6"/><circle cx="783.2" cy="743.8"/><circle cx="799.4" cy="733.6"/><circle cx="773.1" cy="735.8"/><circle cx="741.5" cy="715.2"/><circle cx="766.5" cy="760.2"/><circle cx="791.0" cy="731.0"/><circle cx="765.8" cy="731.8"/><circle cx="759.9" cy="707.7"/><circle cx="758.4" cy="737.9"/><circle cx="769.1" cy="719.3"/><circle cx="709.6" cy="695.7"/><circle cx="810.2" cy="718.1"/><circle cx="756.4" cy="726.8"/><circle cx="800.7" cy="766.9"/><circle cx="751.6" cy="738.6"/><circle cx="744.6" cy="692.7"/><circle cx="774.9" cy="741.4"/><circle cx="765.9" cy="709.3"/><circle cx="793.6" cy="705.8"/><circle cx="755.5" cy="695.1"/><circle cx="738.2" cy="730.8"/><circle cx="742.6" cy="705.5"/><circle cx="748.5" cy="692.4"/><circle cx="767.6" cy="728.8"/><circle cx="722.6" cy="707.4"/><circle cx="699.2" cy="665.4"/><circle cx="710.2" cy="701.4"/><circle cx="673.7" cy="723.5"/><circle cx="738.8" cy="689.5"/><circle cx="716.4" cy="708.2"/><circle cx="705.4" cy="669.3"/><circle cx="710.6" cy="689.6"/><circle cx="722.8" cy="702.3"/><circle cx="691.1" cy="701.1"/><circle cx="715.3" cy="690.7"/><circle cx="689.6" cy="703.1"/><circle cx="699.6" cy="662.1"/><circle cx="649.7" cy="660.1"/><circle cx="666.4" cy="670.4"/><circle cx="672.1" cy="674.3"/><circle cx="702.5" cy="682.9"/><circle cx="761.1" cy="740.6"/><circle cx="676.3" cy="667.9"/><circle cx="681.6" cy="694.1"/><circle cx="661.8" cy="676.1"/><circle cx="676.5" cy="710.1"/><circle cx="694.4" cy="678.3"/><circle cx="713.9" cy="702.4"/><circle cx="657.6" cy="677.2"/><circle cx="732.1" cy="642.0"/><circle cx="703.4" cy="692.9"/><circle cx="684.5" cy="696.3"/><circle cx="655.6" cy="693.1"/><circle cx="676.2" cy="656.8"/><circle cx="694.4" cy="679.1"/><circle cx="707.1" cy="708.9"/><circle cx="702.6" cy="666.6"/><circle cx="682.7" cy="664.0"/><circle cx="702.9" cy="696.3"/><circle cx="894.4" cy="803.1"/><circle cx="912.7" cy="796.1"/><circle cx="907.5" cy="796.6"/><circle cx="903.4" cy="753.8"/><circle cx="858.8" cy="790.6"/><circle cx="877.9" cy="766.8"/><circle cx="882.1" cy="794.1"/><circle cx="904.8" cy="760.5"/><circle cx="894.3" cy="767.4"/><circle cx="896.9" cy="804.5"/><circle cx="880.1" cy="755.9"/><circle cx="878.2" cy="779.4"/><circle cx="864.1" cy="764.0"/><circle cx="918.2" cy="822.9"/><circle cx="882.5" cy="784.9"/><circle cx="900.1" cy="807.8"/><circle cx="914.0" cy="790.6"/><circle cx="905.7" cy="758.5"/><circle cx="872.2" cy="809.3"/><circle cx="881.6" cy="768.1"/><circle cx="882.7" cy="779.3"/><circle cx="853.5" cy="765.8"/><circle cx="887.0" cy="752.9"/><circle cx="899.5" cy="797.5"/><circle cx="896.5" cy="777.4"/><circle cx="915.9" cy="761.4"/><circle cx="913.6" cy="765.2"/><circle cx="916.6" cy="752.7"/><circle cx="895.5" cy="769.7"/><circle cx="893.6" cy="779.0"/><circle cx="913.0" cy="773.7"/><circle cx="881.4" cy="776.6"/><circle cx="863.3" cy="763.6"/><circle cx="902.4" cy="794.5"/><circle cx="889.3" cy="780.2"/><circle cx="911.4" cy="786.3"/><circle cx="880.2" cy="762.4"/><circle cx="862.2" cy="748.5"/><circle cx="890.5" cy="764.9"/><circle cx="873.2" cy="780.0"/><circle cx="871.8" cy="764.5"/><circle cx="910.8" cy="814.0"/><circle cx="889.2" cy="794.0"/><circle cx="872.8" cy="749.7"/><circle cx="853.3" cy="773.0"/><circle cx="878.8" cy="797.1"/><circle cx="904.2" cy="774.8"/><circle cx="886.6" cy="800.1"/><circle cx="604.8" cy="676.8"/><circle cx="641.3" cy="649.1"/><circle cx="648.2" cy="647.2"/><circle cx="655.1" cy="653.1"/><circle cx="653.7" cy="664.9"/><circle cx="686.1" cy="653.7"/><circle cx="671.9" cy="663.5"/><circle cx="678.8" cy="664.9"/><circle cx="669.9" cy="701.8"/><circle cx="660.0" cy="735.9"/><circle cx="669.9" cy="744.8"/><circle cx="734.4" cy="663.9"/><circle cx="736.3" cy="672.4"/><circle cx="756.3" cy="682.9"/><circle cx="811.3" cy="685.2"/><circle cx="896.1" cy="690.6"/><circle cx="854.9" cy="703.0"/><circle cx="858.2" cy="719.2"/><circle cx="882.9" cy="729.0"/><circle cx="898.2" cy="729.4"/><circle cx="891.7" cy="737.3"/><circle cx="906.5" cy="874.0"/><circle cx="926.2" cy="832.1"/><circle cx="940.6" cy="838.1"/><circle cx="944.0" cy="826.6"/><circle cx="927.6" cy="808.9"/><circle cx="907.5" cy="808.9"/><circle cx="907.5" cy="816.8"/><circle cx="956.8" cy="779.3"/><circle cx="925.3" cy="779.3"/><circle cx="909.1" cy="776.3"/><circle cx="923.3" cy="761.9"/><circle cx="857.8" cy="808.5"/><circle cx="844.8" cy="819.7"/><circle cx="831.6" cy="815.8"/><circle cx="839.5" cy="815.8"/><circle cx="805.6" cy="813.8"/><circle cx="797.5" cy="810.3"/><circle cx="816.8" cy="811.8"/><circle cx="776.4" cy="796.7"/><circle cx="796.1" cy="797.6"/><circle cx="754.3" cy="775.9"/><circle cx="731.4" cy="770.0"/><circle cx="728.6" cy="760.6"/><circle cx="744.8" cy="767.1"/><circle cx="708.3" cy="729.4"/><circle cx="717.2" cy="734.5"/><circle cx="732.0" cy="735.9"/><circle cx="707.3" cy="711.3"/><circle cx="695.5" cy="711.7"/><circle cx="690.6" cy="705.3"/><circle cx="703.0" cy="690.6"/><circle cx="736.9" cy="692.5"/></g><rect class="bx" x="590.8" y="589" width="380.2" height="320.4"/><line class="rl" x1="590.8" y1="660.1" x2="970.9" y2="815.3"/><text class="l" x="1022.4" y="552.5">(g)</text><text class="t" x="1286.7" y="532.2">Pearson-Correlation:0.7365</text><text class="t" x="1286.7" y="556.5">P-value:5.589e-66</text><text class="t" x="1286.7" y="580.8">Sample Size:(N=379)</text><text class="k" x="1137.5" y="948.3">10</text><text class="k" x="1230.7" y="948.3">11</text><text class="k" x="1323.8" y="948.3">12</text><text class="k" x="1417" y="948.3">13</text><text class="k" transform="translate(1073.8 891.8) rotate(-90)">6</text><text class="k" transform="translate(1073.8 848) rotate(-90)">7</text><text class="k" transform="translate(1073.8 804.2) rotate(-90)">8</text><text class="k" transform="translate(1073.8 760.4) rotate(-90)">9</text><text class="k" transform="translate(1073.8 716.6) rotate(-90)">10</text><text class="k" transform="translate(1073.8 672.8) rotate(-90)">11</text><text class="k" transform="translate(1073.8 629) rotate(-90)">12</text><path class="tk" d="M1137.5 911.3v9.8M1230.7 911.3v9.8M1323.8 911.3v9.8M1417 911.3v9.8M1096.5 891.8h-9.8M1096.5 848h-9.8M1096.5 804.2h-9.8M1096.5 760.4h-9.8M1096.5 716.6h-9.8M1096.5 672.8h-9.8M1096.5 629h-9.8"/><text class="a" x="1286.7" y="988.3">KPNA2</text><text class="a" transform="translate(1033.2 751) rotate(-90)">NCAPH</text><g class="c"><circle cx="1271.5" cy="753.3"/><circle cx="1346.0" cy="727.9"/><circle cx="1313.2" cy="741.4"/><circle cx="1283.1" cy="736.5"/><circle cx="1236.8" cy="752.5"/><circle cx="1294.3" cy="753.8"/><circle cx="1267.0" cy="744.9"/><circle cx="1315.2" cy="762.3"/><circle cx="1261.5" cy="743.1"/><circle cx="1309.8" cy="739.3"/><circle cx="1278.8" cy="749.0"/><circle cx="1313.7" cy="739.0"/><circle cx="1316.0" cy="723.1"/><circle cx="1301.2" cy="744.8"/><circle cx="1318.6" cy="758.6"/><circle cx="1326.5" cy="723.6"/><circle cx="1254.7" cy="731.9"/><circle cx="1316.0" cy="742.7"/><circle cx="1303.9" cy="744.8"/><circle cx="1347.8" cy="730.2"/><circle cx="1285.2" cy="737.0"/><circle cx="1327.0" cy="735.4"/><circle cx="1244.8" cy="774.5"/><circle cx="1331.6" cy="722.3"/><circle cx="1308.0" cy="738.5"/><circle cx="1308.8" cy="744.0"/><circle cx="1325.9" cy="740.0"/><circle cx="1253.8" cy="756.9"/><circle cx="1288.2" cy="748.4"/><circle cx="1305.6" cy="763.8"/><circle cx="1293.4" cy="769.1"/><circle cx="1273.5" cy="738.8"/><circle cx="1334.1" cy="754.6"/><circle cx="1293.8" cy="738.9"/><circle cx="1291.4" cy="757.9"/><circle cx="1290.4" cy="729.6"/><circle cx="1335.0" cy="724.5"/><circle cx="1350.1" cy="712.7"/><circle cx="1332.1" cy="738.3"/><circle cx="1311.0" cy="739.2"/><circle cx="1254.0" cy="765.1"/><circle cx="1278.2" cy="754.8"/><circle cx="1265.8" cy="757.3"/><circle cx="1268.5" cy="765.2"/><circle cx="1332.3" cy="729.4"/><circle cx="1274.8" cy="750.1"/><circle cx="1334.8" cy="719.0"/><circle cx="1293.9" cy="732.2"/><circle cx="1287.7" cy="739.2"/><circle cx="1289.4" cy="749.7"/><circle cx="1253.8" cy="772.3"/><circle cx="1280.8" cy="747.1"/><circle cx="1329.6" cy="753.8"/><circle cx="1321.3" cy="747.8"/><circle cx="1299.3" cy="741.6"/><circle cx="1317.2" cy="738.3"/><circle cx="1299.1" cy="741.0"/><circle cx="1298.9" cy="718.5"/><circle cx="1373.4" cy="721.4"/><circle cx="1299.7" cy="743.7"/><circle cx="1232.6" cy="747.2"/><circle cx="1231.7" cy="779.4"/><circle cx="1268.9" cy="746.4"/><circle cx="1299.9" cy="737.9"/><circle cx="1317.9" cy="712.2"/><circle cx="1293.3" cy="743.0"/><circle cx="1300.4" cy="745.9"/><circle cx="1311.4" cy="730.9"/><circle cx="1263.6" cy="755.3"/><circle cx="1284.7" cy="723.4"/><circle cx="1307.1" cy="744.4"/><circle cx="1281.7" cy="747.5"/><circle cx="1268.0" cy="753.0"/><circle cx="1313.8" cy="743.4"/><circle cx="1333.3" cy="740.0"/><circle cx="1296.2" cy="741.2"/><circle cx="1224.5" cy="782.4"/><circle cx="1277.4" cy="772.6"/><circle cx="1276.1" cy="736.7"/><circle cx="1308.1" cy="738.4"/><circle cx="1272.0" cy="731.6"/><circle cx="1281.8" cy="752.2"/><circle cx="1330.4" cy="745.4"/><circle cx="1332.6" cy="725.6"/><circle cx="1291.1" cy="729.8"/><circle cx="1256.7" cy="751.3"/><circle cx="1256.9" cy="763.0"/><circle cx="1306.9" cy="719.0"/><circle cx="1262.6" cy="737.9"/><circle cx="1294.3" cy="748.5"/><circle cx="1281.2" cy="731.1"/><circle cx="1297.9" cy="742.2"/><circle cx="1298.8" cy="727.6"/><circle cx="1253.6" cy="739.2"/><circle cx="1276.1" cy="760.2"/><circle cx="1303.3" cy="753.2"/><circle cx="1290.2" cy="734.7"/><circle cx="1260.2" cy="785.4"/><circle cx="1353.3" cy="721.0"/><circle cx="1251.3" cy="766.9"/><circle cx="1326.1" cy="732.4"/><circle cx="1236.9" cy="752.7"/><circle cx="1327.3" cy="742.7"/><circle cx="1237.6" cy="767.9"/><circle cx="1323.4" cy="737.8"/><circle cx="1298.5" cy="743.5"/><circle cx="1315.7" cy="729.8"/><circle cx="1279.2" cy="778.9"/><circle cx="1302.5" cy="745.6"/><circle cx="1299.0" cy="738.6"/><circle cx="1300.4" cy="749.3"/><circle cx="1269.6" cy="738.2"/><circle cx="1336.5" cy="731.0"/><circle cx="1247.4" cy="796.4"/><circle cx="1241.2" cy="756.5"/><circle cx="1248.5" cy="768.2"/><circle cx="1331.8" cy="713.6"/><circle cx="1264.7" cy="755.9"/><circle cx="1274.2" cy="765.6"/><circle cx="1265.0" cy="742.6"/><circle cx="1278.3" cy="738.3"/><circle cx="1289.2" cy="760.2"/><circle cx="1278.1" cy="753.4"/><circle cx="1247.5" cy="770.8"/><circle cx="1307.6" cy="744.8"/><circle cx="1286.6" cy="730.4"/><circle cx="1332.3" cy="706.7"/><circle cx="1297.2" cy="718.7"/><circle cx="1292.1" cy="750.6"/><circle cx="1241.2" cy="747.1"/><circle cx="1287.3" cy="724.0"/><circle cx="1308.8" cy="730.6"/><circle cx="1344.1" cy="721.4"/><circle cx="1306.1" cy="741.9"/><circle cx="1309.7" cy="714.3"/><circle cx="1317.2" cy="750.8"/><circle cx="1339.7" cy="713.2"/><circle cx="1329.2" cy="731.1"/><circle cx="1294.1" cy="742.8"/><circle cx="1242.9" cy="751.6"/><circle cx="1345.8" cy="727.6"/><circle cx="1297.0" cy="746.6"/><circle cx="1272.6" cy="766.4"/><circle cx="1255.9" cy="783.1"/><circle cx="1246.5" cy="789.8"/><circle cx="1305.1" cy="751.1"/><circle cx="1290.5" cy="753.7"/><circle cx="1300.9" cy="736.4"/><circle cx="1324.4" cy="712.5"/><circle cx="1275.3" cy="756.6"/><circle cx="1299.4" cy="734.3"/><circle cx="1274.8" cy="748.1"/><circle cx="1263.3" cy="750.1"/><circle cx="1224.3" cy="777.3"/><circle cx="1266.3" cy="749.9"/><circle cx="1337.4" cy="756.4"/><circle cx="1280.4" cy="760.4"/><circle cx="1300.0" cy="735.0"/><circle cx="1298.2" cy="746.9"/><circle cx="1362.9" cy="733.8"/><circle cx="1333.9" cy="712.8"/><circle cx="1273.7" cy="754.9"/><circle cx="1277.2" cy="744.0"/><circle cx="1329.4" cy="730.4"/><circle cx="1298.6" cy="735.9"/><circle cx="1297.6" cy="744.9"/><circle cx="1332.5" cy="734.3"/><circle cx="1314.2" cy="743.8"/><circle cx="1292.1" cy="726.0"/><circle cx="1392.6" cy="713.2"/><circle cx="1307.0" cy="739.2"/><circle cx="1249.0" cy="754.2"/><circle cx="1304.3" cy="739.2"/><circle cx="1309.6" cy="758.2"/><circle cx="1346.8" cy="720.8"/><circle cx="1300.8" cy="730.4"/><circle cx="1277.5" cy="759.8"/><circle cx="1305.0" cy="737.2"/><circle cx="1258.7" cy="767.5"/><circle cx="1283.9" cy="751.8"/><circle cx="1311.4" cy="754.7"/><circle cx="1264.5" cy="748.6"/><circle cx="1228.8" cy="765.9"/><circle cx="1265.9" cy="769.6"/><circle cx="1275.6" cy="773.5"/><circle cx="1312.5" cy="739.7"/><circle cx="1283.9" cy="764.0"/><circle cx="1293.1" cy="750.9"/><circle cx="1263.6" cy="757.0"/><circle cx="1287.8" cy="726.0"/><circle cx="1282.4" cy="775.9"/><circle cx="1315.7" cy="750.6"/><circle cx="1290.1" cy="717.3"/><circle cx="1341.5" cy="735.4"/><circle cx="1308.3" cy="731.3"/><circle cx="1277.8" cy="738.2"/><circle cx="1262.5" cy="750.0"/><circle cx="1302.0" cy="750.6"/><circle cx="1314.9" cy="735.3"/><circle cx="1340.0" cy="723.2"/><circle cx="1273.8" cy="750.4"/><circle cx="1248.8" cy="757.9"/><circle cx="1236.6" cy="774.3"/><circle cx="1251.2" cy="735.8"/><circle cx="1279.5" cy="733.4"/><circle cx="1281.8" cy="747.2"/><circle cx="1276.1" cy="736.7"/><circle cx="1290.4" cy="747.9"/><circle cx="1299.7" cy="737.3"/><circle cx="1239.8" cy="771.2"/><circle cx="1291.4" cy="743.3"/><circle cx="1288.0" cy="754.5"/><circle cx="1284.9" cy="748.1"/><circle cx="1280.0" cy="759.4"/><circle cx="1230.1" cy="765.9"/><circle cx="1297.3" cy="721.0"/><circle cx="1275.3" cy="752.4"/><circle cx="1286.6" cy="748.0"/><circle cx="1297.7" cy="737.0"/><circle cx="1246.4" cy="779.8"/><circle cx="1230.6" cy="772.7"/><circle cx="1258.1" cy="769.8"/><circle cx="1210.7" cy="785.7"/><circle cx="1208.5" cy="780.5"/><circle cx="1218.7" cy="739.4"/><circle cx="1257.1" cy="769.5"/><circle cx="1205.4" cy="794.0"/><circle cx="1228.8" cy="767.6"/><circle cx="1215.9" cy="772.0"/><circle cx="1215.5" cy="791.3"/><circle cx="1237.0" cy="757.7"/><circle cx="1246.0" cy="784.6"/><circle cx="1239.3" cy="778.7"/><circle cx="1209.3" cy="799.8"/><circle cx="1219.5" cy="778.5"/><circle cx="1179.2" cy="795.1"/><circle cx="1234.0" cy="777.3"/><circle cx="1182.1" cy="773.8"/><circle cx="1209.7" cy="771.8"/><circle cx="1245.0" cy="783.5"/><circle cx="1211.4" cy="773.7"/><circle cx="1219.8" cy="767.2"/><circle cx="1205.0" cy="788.5"/><circle cx="1289.2" cy="770.6"/><circle cx="1190.2" cy="789.2"/><circle cx="1204.9" cy="781.1"/><circle cx="1216.8" cy="779.8"/><circle cx="1286.4" cy="760.0"/><circle cx="1200.5" cy="766.7"/><circle cx="1223.6" cy="782.1"/><circle cx="1242.2" cy="775.9"/><circle cx="1173.4" cy="808.9"/><circle cx="1247.5" cy="782.3"/><circle cx="1232.9" cy="782.4"/><circle cx="1266.8" cy="786.8"/><circle cx="1259.4" cy="764.9"/><circle cx="1234.0" cy="772.7"/><circle cx="1256.0" cy="786.2"/><circle cx="1207.1" cy="785.5"/><circle cx="1192.3" cy="782.3"/><circle cx="1214.9" cy="774.4"/><circle cx="1227.5" cy="776.4"/><circle cx="1209.9" cy="766.3"/><circle cx="1237.4" cy="785.1"/><circle cx="1239.8" cy="775.8"/><circle cx="1270.9" cy="776.4"/><circle cx="1215.3" cy="768.4"/><circle cx="1210.5" cy="778.5"/><circle cx="1232.4" cy="766.8"/><circle cx="1231.1" cy="781.7"/><circle cx="1239.4" cy="776.9"/><circle cx="1268.3" cy="770.9"/><circle cx="1206.4" cy="792.9"/><circle cx="1237.6" cy="759.5"/><circle cx="1258.1" cy="768.8"/><circle cx="1255.7" cy="767.3"/><circle cx="1187.6" cy="790.9"/><circle cx="1218.3" cy="786.1"/><circle cx="1247.7" cy="745.9"/><circle cx="1221.2" cy="770.3"/><circle cx="1233.5" cy="770.8"/><circle cx="1217.8" cy="769.6"/><circle cx="1250.7" cy="753.6"/><circle cx="1233.3" cy="785.5"/><circle cx="1220.0" cy="789.7"/><circle cx="1232.8" cy="795.1"/><circle cx="1253.9" cy="755.0"/><circle cx="1224.1" cy="748.9"/><circle cx="1186.2" cy="799.1"/><circle cx="1170.9" cy="792.3"/><circle cx="1235.2" cy="759.7"/><circle cx="1183.6" cy="798.0"/><circle cx="1225.0" cy="775.4"/><circle cx="1197.4" cy="765.3"/><circle cx="1227.0" cy="776.6"/><circle cx="1196.8" cy="766.4"/><circle cx="1165.0" cy="804.6"/><circle cx="1249.5" cy="751.8"/><circle cx="1213.2" cy="761.7"/><circle cx="1218.5" cy="787.1"/><circle cx="1261.6" cy="774.0"/><circle cx="1235.5" cy="768.9"/><circle cx="1241.8" cy="755.6"/><circle cx="1216.7" cy="786.2"/><circle cx="1222.9" cy="778.1"/><circle cx="1231.3" cy="776.4"/><circle cx="1203.0" cy="779.1"/><circle cx="1233.4" cy="754.4"/><circle cx="1227.9" cy="768.9"/><circle cx="1217.4" cy="796.0"/><circle cx="1206.7" cy="774.3"/><circle cx="1183.5" cy="804.5"/><circle cx="1183.9" cy="803.7"/><circle cx="1193.7" cy="796.3"/><circle cx="1187.9" cy="802.9"/><circle cx="1181.1" cy="808.5"/><circle cx="1207.6" cy="802.0"/><circle cx="1183.0" cy="793.3"/><circle cx="1185.3" cy="794.9"/><circle cx="1177.0" cy="805.5"/><circle cx="1169.3" cy="813.5"/><circle cx="1186.6" cy="793.5"/><circle cx="1180.5" cy="803.9"/><circle cx="1184.3" cy="791.8"/><circle cx="1159.8" cy="811.7"/><circle cx="1202.3" cy="794.4"/><circle cx="1186.1" cy="806.1"/><circle cx="1196.9" cy="809.5"/><circle cx="1170.3" cy="801.0"/><circle cx="1186.6" cy="805.3"/><circle cx="1181.8" cy="790.2"/><circle cx="1197.4" cy="800.3"/><circle cx="1197.8" cy="812.5"/><circle cx="1157.7" cy="799.3"/><circle cx="1110.8" cy="855.5"/><circle cx="1134.6" cy="803.1"/><circle cx="1135.5" cy="826.3"/><circle cx="1152.3" cy="830.6"/><circle cx="1158.9" cy="822.3"/><circle cx="1168.2" cy="821.9"/><circle cx="1175.7" cy="830.2"/><circle cx="1176.7" cy="814.4"/><circle cx="1186.9" cy="820.3"/><circle cx="1201.8" cy="835.2"/><circle cx="1208.7" cy="834.2"/><circle cx="1224.5" cy="810.5"/><circle cx="1242.3" cy="803.5"/><circle cx="1258.5" cy="816.4"/><circle cx="1156.9" cy="770.5"/><circle cx="1170.1" cy="787.3"/><circle cx="1184.6" cy="753.1"/><circle cx="1187.3" cy="736.7"/><circle cx="1226.5" cy="738.3"/><circle cx="1250.2" cy="709.2"/><circle cx="1252.6" cy="724.5"/><circle cx="1272.0" cy="713.6"/><circle cx="1268.0" cy="724.5"/><circle cx="1284.8" cy="716.5"/><circle cx="1338.2" cy="690.8"/><circle cx="1378.1" cy="691.4"/><circle cx="1389.6" cy="713.6"/><circle cx="1405.4" cy="709.6"/><circle cx="1413.9" cy="707.3"/><circle cx="1433.1" cy="717.5"/><circle cx="1451.5" cy="762.0"/><circle cx="1462.7" cy="752.1"/><circle cx="1399.1" cy="770.3"/><circle cx="1368.8" cy="750.7"/><circle cx="1362.9" cy="737.3"/><circle cx="1373.8" cy="735.3"/><circle cx="1350.6" cy="754.1"/><circle cx="1338.2" cy="772.5"/><circle cx="1344.1" cy="776.8"/><circle cx="1314.5" cy="774.5"/><circle cx="1276.3" cy="791.7"/><circle cx="1279.9" cy="787.7"/><circle cx="1212.3" cy="803.5"/><circle cx="1191.9" cy="765.0"/><circle cx="1257.7" cy="796.6"/></g><rect class="bx" x="1096.5" y="590.8" width="380.4" height="320.5"/><line class="rl" x1="1096.5" y1="823.8" x2="1476.9" y2="684.7"/><text class="l" x="1522.6" y="551.5">(h)</text><text class="t" x="1792.8" y="531.7">Pearson-Correlation:-0.645</text><text class="t" x="1792.8" y="556">P-value:5.751e-46</text><text class="t" x="1792.8" y="580.3">Sample Size:(N=379)</text><text class="k" x="1643.5" y="947">10</text><text class="k" x="1736.5" y="947">11</text><text class="k" x="1829.5" y="947">12</text><text class="k" x="1922.5" y="947">13</text><text class="k" transform="translate(1580.1 874.2) rotate(-90)">6</text><text class="k" transform="translate(1580.1 800.7) rotate(-90)">8</text><text class="k" transform="translate(1580.1 727.1) rotate(-90)">10</text><text class="k" transform="translate(1580.1 653.6) rotate(-90)">12</text><path class="tk" d="M1643.5 910v9.8M1736.5 910v9.8M1829.5 910v9.8M1922.5 910v9.8M1602.8 874.2h-9.8M1602.8 800.7h-9.8M1602.8 727.1h-9.8M1602.8 653.6h-9.8"/><text class="a" x="1792.8" y="987">KPNA2</text><text class="a" transform="translate(1539.5 750.1) rotate(-90)">YPEL3</text><g class="c"><circle cx="1778.3" cy="749.9"/><circle cx="1683.2" cy="707.2"/><circle cx="1789.8" cy="803.3"/><circle cx="1864.2" cy="811.9"/><circle cx="1750.3" cy="766.0"/><circle cx="1801.8" cy="775.7"/><circle cx="1831.0" cy="807.6"/><circle cx="1758.9" cy="764.2"/><circle cx="1786.1" cy="793.3"/><circle cx="1748.2" cy="783.2"/><circle cx="1777.6" cy="755.0"/><circle cx="1800.1" cy="755.4"/><circle cx="1819.9" cy="787.7"/><circle cx="1797.8" cy="775.8"/><circle cx="1786.1" cy="774.9"/><circle cx="1775.5" cy="783.1"/><circle cx="1829.9" cy="787.0"/><circle cx="1806.9" cy="782.0"/><circle cx="1803.7" cy="780.3"/><circle cx="1717.7" cy="752.0"/><circle cx="1786.2" cy="761.7"/><circle cx="1743.4" cy="768.7"/><circle cx="1832.9" cy="834.8"/><circle cx="1814.4" cy="782.2"/><circle cx="1827.3" cy="821.6"/><circle cx="1757.1" cy="764.2"/><circle cx="1738.4" cy="741.6"/><circle cx="1745.7" cy="786.3"/><circle cx="1801.2" cy="803.4"/><circle cx="1769.3" cy="754.9"/><circle cx="1809.8" cy="795.3"/><circle cx="1841.8" cy="789.8"/><circle cx="1790.5" cy="746.4"/><circle cx="1814.9" cy="807.9"/><circle cx="1715.3" cy="730.1"/><circle cx="1734.1" cy="773.0"/><circle cx="1768.0" cy="763.7"/><circle cx="1776.3" cy="770.7"/><circle cx="1742.5" cy="743.7"/><circle cx="1776.1" cy="768.5"/><circle cx="1832.3" cy="782.4"/><circle cx="1820.9" cy="786.6"/><circle cx="1819.5" cy="756.4"/><circle cx="1774.4" cy="728.9"/><circle cx="1850.1" cy="781.3"/><circle cx="1818.0" cy="777.1"/><circle cx="1756.8" cy="752.1"/><circle cx="1825.5" cy="790.0"/><circle cx="1768.9" cy="783.7"/><circle cx="1788.4" cy="820.1"/><circle cx="1824.0" cy="745.5"/><circle cx="1798.6" cy="806.0"/><circle cx="1834.2" cy="816.5"/><circle cx="1881.7" cy="814.6"/><circle cx="1803.6" cy="783.6"/><circle cx="1812.2" cy="747.7"/><circle cx="1792.4" cy="769.6"/><circle cx="1794.4" cy="805.8"/><circle cx="1822.6" cy="768.2"/><circle cx="1752.9" cy="739.5"/><circle cx="1795.0" cy="777.4"/><circle cx="1865.2" cy="829.0"/><circle cx="1818.7" cy="789.9"/><circle cx="1834.3" cy="787.8"/><circle cx="1785.8" cy="782.6"/><circle cx="1871.6" cy="808.2"/><circle cx="1793.1" cy="820.8"/><circle cx="1772.0" cy="786.2"/><circle cx="1766.9" cy="761.1"/><circle cx="1816.2" cy="771.8"/><circle cx="1858.4" cy="800.8"/><circle cx="1777.0" cy="750.5"/><circle cx="1762.5" cy="749.9"/><circle cx="1710.6" cy="734.7"/><circle cx="1828.1" cy="769.1"/><circle cx="1754.7" cy="755.0"/><circle cx="1767.6" cy="759.4"/><circle cx="1764.4" cy="738.8"/><circle cx="1751.5" cy="774.8"/><circle cx="1814.9" cy="795.8"/><circle cx="1763.1" cy="762.8"/><circle cx="1802.5" cy="768.2"/><circle cx="1773.2" cy="748.1"/><circle cx="1778.9" cy="766.4"/><circle cx="1826.5" cy="764.7"/><circle cx="1811.0" cy="791.0"/><circle cx="1761.4" cy="733.4"/><circle cx="1792.6" cy="773.0"/><circle cx="1753.8" cy="763.8"/><circle cx="1818.0" cy="782.8"/><circle cx="1775.7" cy="751.0"/><circle cx="1766.0" cy="743.3"/><circle cx="1818.4" cy="790.8"/><circle cx="1781.3" cy="745.0"/><circle cx="1796.1" cy="774.1"/><circle cx="1807.5" cy="800.4"/><circle cx="1788.7" cy="734.2"/><circle cx="1786.9" cy="754.3"/><circle cx="1809.3" cy="787.8"/><circle cx="1877.9" cy="800.6"/><circle cx="1820.2" cy="768.5"/><circle cx="1826.7" cy="768.7"/><circle cx="1785.1" cy="784.8"/><circle cx="1807.8" cy="740.0"/><circle cx="1843.4" cy="799.3"/><circle cx="1767.8" cy="754.0"/><circle cx="1767.3" cy="757.9"/><circle cx="1848.6" cy="789.4"/><circle cx="1764.2" cy="757.1"/><circle cx="1753.1" cy="739.2"/><circle cx="1815.1" cy="768.4"/><circle cx="1804.2" cy="828.4"/><circle cx="1843.3" cy="820.6"/><circle cx="1876.4" cy="799.3"/><circle cx="1720.4" cy="716.5"/><circle cx="1781.3" cy="773.7"/><circle cx="1768.8" cy="785.7"/><circle cx="1806.2" cy="775.9"/><circle cx="1756.7" cy="764.8"/><circle cx="1791.5" cy="775.1"/><circle cx="1791.7" cy="793.9"/><circle cx="1803.1" cy="767.5"/><circle cx="1769.1" cy="743.5"/><circle cx="1797.7" cy="780.2"/><circle cx="1759.5" cy="758.1"/><circle cx="1762.2" cy="755.3"/><circle cx="1772.7" cy="784.0"/><circle cx="1813.3" cy="797.3"/><circle cx="1721.9" cy="733.3"/><circle cx="1799.3" cy="753.4"/><circle cx="1833.4" cy="808.9"/><circle cx="1789.8" cy="787.0"/><circle cx="1778.5" cy="751.7"/><circle cx="1801.0" cy="775.4"/><circle cx="1855.1" cy="787.0"/><circle cx="1784.7" cy="770.0"/><circle cx="1769.1" cy="754.4"/><circle cx="1832.5" cy="761.1"/><circle cx="1782.3" cy="766.3"/><circle cx="1770.0" cy="752.9"/><circle cx="1822.5" cy="783.0"/><circle cx="1753.6" cy="769.7"/><circle cx="1776.7" cy="772.4"/><circle cx="1829.8" cy="810.6"/><circle cx="1799.0" cy="769.9"/><circle cx="1823.6" cy="816.2"/><circle cx="1736.0" cy="725.0"/><circle cx="1732.9" cy="752.1"/><circle cx="1776.3" cy="734.4"/><circle cx="1784.4" cy="772.0"/><circle cx="1733.3" cy="718.7"/><circle cx="1810.3" cy="754.8"/><circle cx="1766.2" cy="770.1"/><circle cx="1771.0" cy="763.7"/><circle cx="1787.3" cy="779.1"/><circle cx="1781.3" cy="766.7"/><circle cx="1746.7" cy="751.1"/><circle cx="1782.6" cy="766.1"/><circle cx="1750.4" cy="745.1"/><circle cx="1834.6" cy="799.1"/><circle cx="1755.2" cy="795.2"/><circle cx="1789.5" cy="751.5"/><circle cx="1779.9" cy="736.5"/><circle cx="1798.7" cy="758.6"/><circle cx="1803.6" cy="766.3"/><circle cx="1781.0" cy="776.5"/><circle cx="1744.8" cy="766.5"/><circle cx="1818.8" cy="810.2"/><circle cx="1790.8" cy="767.9"/><circle cx="1719.1" cy="744.6"/><circle cx="1696.9" cy="753.7"/><circle cx="1745.4" cy="758.5"/><circle cx="1738.2" cy="767.2"/><circle cx="1740.0" cy="724.7"/><circle cx="1748.5" cy="765.3"/><circle cx="1793.8" cy="789.8"/><circle cx="1842.4" cy="779.0"/><circle cx="1796.6" cy="776.8"/><circle cx="1795.6" cy="787.4"/><circle cx="1836.0" cy="781.7"/><circle cx="1856.9" cy="828.2"/><circle cx="1820.6" cy="808.6"/><circle cx="1807.5" cy="788.1"/><circle cx="1785.5" cy="767.5"/><circle cx="1756.2" cy="748.9"/><circle cx="1800.8" cy="785.6"/><circle cx="1821.2" cy="811.7"/><circle cx="1811.4" cy="758.3"/><circle cx="1769.1" cy="763.6"/><circle cx="1807.5" cy="786.9"/><circle cx="1793.6" cy="757.3"/><circle cx="1779.5" cy="741.1"/><circle cx="1723.0" cy="729.0"/><circle cx="1822.1" cy="758.0"/><circle cx="1764.8" cy="761.4"/><circle cx="1831.8" cy="790.4"/><circle cx="1776.8" cy="742.8"/><circle cx="1792.4" cy="773.1"/><circle cx="1777.3" cy="747.7"/><circle cx="1856.4" cy="795.9"/><circle cx="1826.8" cy="815.2"/><circle cx="1795.8" cy="759.8"/><circle cx="1860.5" cy="762.7"/><circle cx="1744.4" cy="750.7"/><circle cx="1821.1" cy="769.1"/><circle cx="1778.3" cy="747.1"/><circle cx="1772.4" cy="790.7"/><circle cx="1774.8" cy="760.9"/><circle cx="1803.8" cy="794.8"/><circle cx="1740.0" cy="715.4"/><circle cx="1782.8" cy="746.8"/><circle cx="1844.5" cy="786.3"/><circle cx="1705.9" cy="736.2"/><circle cx="1788.6" cy="757.1"/><circle cx="1760.3" cy="716.4"/><circle cx="1691.8" cy="728.6"/><circle cx="1808.5" cy="771.3"/><circle cx="1773.0" cy="762.6"/><circle cx="1828.1" cy="807.3"/><circle cx="1707.9" cy="765.0"/><circle cx="1803.8" cy="777.9"/><circle cx="1832.2" cy="825.6"/><circle cx="1738.1" cy="714.2"/><circle cx="1811.6" cy="786.3"/><circle cx="1812.2" cy="789.3"/><circle cx="1816.5" cy="743.2"/><circle cx="1847.4" cy="784.8"/><circle cx="1820.3" cy="774.1"/><circle cx="1762.2" cy="764.2"/><circle cx="1711.4" cy="692.3"/><circle cx="1689.6" cy="742.9"/><circle cx="1691.8" cy="724.7"/><circle cx="1724.4" cy="713.7"/><circle cx="1709.2" cy="719.6"/><circle cx="1703.3" cy="731.3"/><circle cx="1693.6" cy="744.1"/><circle cx="1716.6" cy="742.5"/><circle cx="1688.9" cy="729.9"/><circle cx="1702.7" cy="735.9"/><circle cx="1710.1" cy="722.4"/><circle cx="1716.1" cy="728.4"/><circle cx="1725.1" cy="742.0"/><circle cx="1719.2" cy="720.5"/><circle cx="1678.8" cy="720.6"/><circle cx="1721.7" cy="749.3"/><circle cx="1742.1" cy="717.1"/><circle cx="1732.1" cy="741.9"/><circle cx="1724.5" cy="737.6"/><circle cx="1674.8" cy="719.5"/><circle cx="1694.5" cy="751.5"/><circle cx="1729.2" cy="724.6"/><circle cx="1712.3" cy="762.3"/><circle cx="1701.0" cy="739.8"/><circle cx="1696.0" cy="762.2"/><circle cx="1687.0" cy="718.7"/><circle cx="1712.6" cy="740.8"/><circle cx="1666.4" cy="712.6"/><circle cx="1699.7" cy="736.8"/><circle cx="1730.4" cy="731.8"/><circle cx="1687.3" cy="713.2"/><circle cx="1732.8" cy="742.8"/><circle cx="1742.2" cy="758.4"/><circle cx="1724.1" cy="723.1"/><circle cx="1698.5" cy="724.6"/><circle cx="1700.8" cy="721.6"/><circle cx="1681.7" cy="725.3"/><circle cx="1717.1" cy="749.2"/><circle cx="1693.1" cy="706.0"/><circle cx="1716.1" cy="723.4"/><circle cx="1687.4" cy="719.0"/><circle cx="1723.2" cy="726.5"/><circle cx="1672.5" cy="736.4"/><circle cx="1695.9" cy="751.0"/><circle cx="1689.0" cy="734.9"/><circle cx="1724.5" cy="748.2"/><circle cx="1705.1" cy="716.8"/><circle cx="1709.1" cy="720.5"/><circle cx="1727.2" cy="748.1"/><circle cx="1677.4" cy="739.5"/><circle cx="1684.5" cy="717.5"/><circle cx="1704.3" cy="735.5"/><circle cx="1678.3" cy="741.6"/><circle cx="1730.8" cy="767.8"/><circle cx="1714.9" cy="722.6"/><circle cx="1710.4" cy="738.1"/><circle cx="1696.3" cy="738.1"/><circle cx="1811.2" cy="784.5"/><circle cx="1820.9" cy="816.0"/><circle cx="1830.9" cy="823.0"/><circle cx="1821.9" cy="811.0"/><circle cx="1840.3" cy="815.5"/><circle cx="1828.7" cy="800.7"/><circle cx="1793.7" cy="823.4"/><circle cx="1816.7" cy="788.8"/><circle cx="1784.6" cy="825.5"/><circle cx="1814.7" cy="789.5"/><circle cx="1843.8" cy="808.3"/><circle cx="1835.5" cy="814.5"/><circle cx="1839.9" cy="813.8"/><circle cx="1849.0" cy="829.1"/><circle cx="1814.4" cy="798.4"/><circle cx="1822.9" cy="808.1"/><circle cx="1838.5" cy="799.2"/><circle cx="1852.1" cy="839.0"/><circle cx="1835.6" cy="813.9"/><circle cx="1830.6" cy="806.3"/><circle cx="1834.4" cy="817.5"/><circle cx="1810.6" cy="818.8"/><circle cx="1795.3" cy="805.9"/><circle cx="1840.4" cy="811.0"/><circle cx="1821.6" cy="814.1"/><circle cx="1835.3" cy="822.1"/><circle cx="1807.8" cy="812.0"/><circle cx="1815.7" cy="806.2"/><circle cx="1838.9" cy="827.9"/><circle cx="1837.4" cy="805.3"/><circle cx="1844.3" cy="823.4"/><circle cx="1821.6" cy="802.6"/><circle cx="1830.1" cy="816.9"/><circle cx="1843.1" cy="814.3"/><circle cx="1841.1" cy="829.1"/><circle cx="1830.1" cy="811.4"/><circle cx="1828.8" cy="830.5"/><circle cx="1831.7" cy="805.5"/><circle cx="1822.3" cy="825.8"/><circle cx="1831.8" cy="806.6"/><circle cx="1847.3" cy="792.8"/><circle cx="1811.3" cy="796.4"/><circle cx="1824.6" cy="824.9"/><circle cx="1811.2" cy="811.2"/><circle cx="1827.0" cy="821.1"/><circle cx="1826.2" cy="810.0"/><circle cx="1830.1" cy="820.6"/><circle cx="1828.6" cy="803.5"/><circle cx="1818.5" cy="833.0"/><circle cx="1798.5" cy="823.2"/><circle cx="1849.2" cy="830.0"/><circle cx="1808.1" cy="800.5"/><circle cx="1616.8" cy="721.1"/><circle cx="1640.5" cy="701.8"/><circle cx="1642.0" cy="729.2"/><circle cx="1658.2" cy="714.2"/><circle cx="1664.5" cy="692.0"/><circle cx="1662.6" cy="760.6"/><circle cx="1686.4" cy="675.2"/><circle cx="1694.7" cy="692.9"/><circle cx="1734.7" cy="686.2"/><circle cx="1782.1" cy="705.8"/><circle cx="1803.7" cy="710.7"/><circle cx="1686.8" cy="765.5"/><circle cx="1693.3" cy="773.0"/><circle cx="1709.5" cy="790.2"/><circle cx="1722.3" cy="794.1"/><circle cx="1717.4" cy="811.8"/><circle cx="1763.1" cy="821.7"/><circle cx="1755.8" cy="806.9"/><circle cx="1772.6" cy="861.7"/><circle cx="1798.2" cy="845.4"/><circle cx="1819.3" cy="851.7"/><circle cx="1864.9" cy="855.2"/><circle cx="1911.6" cy="851.7"/><circle cx="1919.5" cy="838.1"/><circle cx="1939.2" cy="816.8"/><circle cx="1957.4" cy="802.0"/><circle cx="1968.8" cy="817.2"/><circle cx="1904.7" cy="769.5"/><circle cx="1895.4" cy="785.2"/><circle cx="1884.0" cy="793.1"/><circle cx="1875.1" cy="815.8"/><circle cx="1867.8" cy="823.7"/><circle cx="1856.4" cy="836.5"/><circle cx="1843.6" cy="829.6"/><circle cx="1854.0" cy="747.2"/><circle cx="1836.7" cy="751.7"/><circle cx="1827.4" cy="734.0"/><circle cx="1787.4" cy="825.7"/><circle cx="1789.4" cy="831.6"/><circle cx="1674.0" cy="710.7"/><circle cx="1676.4" cy="717.8"/></g><rect class="bx" x="1602.8" y="590.3" width="380.1" height="319.7"/><line class="rl" x1="1602.8" y1="695.1" x2="1982.9" y2="850.3"/><text class="l" x="18.5" y="1060.3">(i)</text><text class="t" x="276.7" y="1040">Pearson-Correlation:0.8058</text><text class="t" x="276.7" y="1064.3">P-value:1.889e-250</text><text class="t" x="276.7" y="1088.6">Sample Size:(N=1093)</text><text class="k" x="132.3" y="1455.3">9</text><text class="k" x="187.5" y="1455.3">10</text><text class="k" x="242.8" y="1455.3">11</text><text class="k" x="298" y="1455.3">12</text><text class="k" x="353.2" y="1455.3">13</text><text class="k" x="408.5" y="1455.3">14</text><text class="k" x="463.7" y="1455.3">15</text><text class="k" transform="translate(63.7 1402.7) rotate(-90)">4</text><text class="k" transform="translate(63.7 1353.1) rotate(-90)">6</text><text class="k" transform="translate(63.7 1303.5) rotate(-90)">8</text><text class="k" transform="translate(63.7 1253.9) rotate(-90)">10</text><text class="k" transform="translate(63.7 1204.3) rotate(-90)">12</text><text class="k" transform="translate(63.7 1154.7) rotate(-90)">14</text><text class="k" transform="translate(63.7 1105.1) rotate(-90)">16</text><path class="tk" d="M132.3 1418.3v9.8M187.5 1418.3v9.8M242.8 1418.3v9.8M298 1418.3v9.8M353.2 1418.3v9.8M408.5 1418.3v9.8M463.7 1418.3v9.8M86.4 1402.7h-9.8M86.4 1353.1h-9.8M86.4 1303.5h-9.8M86.4 1253.9h-9.8M86.4 1204.3h-9.8M86.4 1154.7h-9.8M86.4 1105.1h-9.8"/><text class="a" x="276.7" y="1495.3">KPNA2</text><text class="a" transform="translate(23.1 1258.4) rotate(-90)">TPX2</text><g class="c"><circle cx="212.4" cy="1275.9"/><circle cx="254.2" cy="1232.6"/><circle cx="248.9" cy="1246.5"/><circle cx="215.3" cy="1301.8"/><circle cx="267.5" cy="1243.1"/><circle cx="255.3" cy="1211.0"/><circle cx="255.4" cy="1237.8"/><circle cx="244.2" cy="1232.9"/><circle cx="253.6" cy="1262.2"/><circle cx="213.4" cy="1215.8"/><circle cx="229.8" cy="1269.4"/><circle cx="214.1" cy="1270.4"/><circle cx="283.1" cy="1222.3"/><circle cx="180.4" cy="1296.7"/><circle cx="255.3" cy="1274.4"/><circle cx="257.9" cy="1212.8"/><circle cx="323.9" cy="1195.3"/><circle cx="224.4" cy="1263.1"/><circle cx="292.0" cy="1223.4"/><circle cx="286.4" cy="1222.2"/><circle cx="279.2" cy="1238.6"/><circle cx="312.1" cy="1213.4"/><circle cx="171.5" cy="1288.5"/><circle cx="264.5" cy="1209.1"/><circle cx="241.1" cy="1265.1"/><circle cx="268.2" cy="1261.9"/><circle cx="243.7" cy="1272.0"/><circle cx="211.0" cy="1279.3"/><circle cx="176.5" cy="1312.8"/><circle cx="246.3" cy="1226.9"/><circle cx="237.2" cy="1270.1"/><circle cx="191.3" cy="1290.3"/><circle cx="235.1" cy="1257.2"/><circle cx="205.4" cy="1295.0"/><circle cx="204.8" cy="1273.8"/><circle cx="244.3" cy="1246.7"/><circle cx="262.8" cy="1225.0"/><circle cx="150.7" cy="1278.9"/><circle cx="232.7" cy="1252.3"/><circle cx="275.3" cy="1263.1"/><circle cx="203.2" cy="1308.3"/><circle cx="222.2" cy="1256.2"/><circle cx="252.3" cy="1250.8"/><circle cx="286.2" cy="1253.1"/><circle cx="186.1" cy="1270.9"/><circle cx="171.3" cy="1289.3"/><circle cx="203.4" cy="1254.2"/><circle cx="229.8" cy="1288.3"/><circle cx="231.7" cy="1249.9"/><circle cx="236.6" cy="1251.4"/><circle cx="161.4" cy="1302.1"/><circle cx="259.1" cy="1229.7"/><circle cx="191.0" cy="1327.3"/><circle cx="259.2" cy="1263.2"/><circle cx="272.3" cy="1271.2"/><circle cx="238.6" cy="1222.4"/><circle cx="254.7" cy="1259.6"/><circle cx="249.9" cy="1247.0"/><circle cx="198.2" cy="1262.3"/><circle cx="205.3" cy="1278.1"/><circle cx="332.1" cy="1227.5"/><circle cx="307.8" cy="1234.7"/><circle cx="286.5" cy="1219.6"/><circle cx="295.3" cy="1280.6"/><circle cx="183.8" cy="1309.2"/><circle cx="305.0" cy="1203.7"/><circle cx="222.9" cy="1252.6"/><circle cx="231.8" cy="1250.7"/><circle cx="267.1" cy="1238.9"/><circle cx="207.5" cy="1267.4"/><circle cx="284.2" cy="1219.3"/><circle cx="149.9" cy="1326.9"/><circle cx="280.9" cy="1221.4"/><circle cx="258.9" cy="1247.9"/><circle cx="199.5" cy="1270.9"/><circle cx="269.0" cy="1235.5"/><circle cx="292.1" cy="1245.8"/><circle cx="269.1" cy="1240.2"/><circle cx="280.3" cy="1246.2"/><circle cx="227.3" cy="1263.9"/><circle cx="287.3" cy="1247.8"/><circle cx="278.8" cy="1233.6"/><circle cx="296.5" cy="1242.7"/><circle cx="254.1" cy="1227.5"/><circle cx="180.0" cy="1312.3"/><circle cx="261.5" cy="1252.2"/><circle cx="178.8" cy="1278.8"/><circle cx="201.5" cy="1269.3"/><circle cx="216.7" cy="1237.9"/><circle cx="240.9" cy="1252.2"/><circle cx="225.7" cy="1268.8"/><circle cx="244.5" cy="1245.4"/><circle cx="263.2" cy="1260.5"/><circle cx="226.3" cy="1228.8"/><circle cx="236.2" cy="1255.2"/><circle cx="239.1" cy="1236.1"/><circle cx="257.8" cy="1237.1"/><circle cx="204.2" cy="1292.2"/><circle cx="175.0" cy="1295.0"/><circle cx="286.3" cy="1253.3"/><circle cx="235.9" cy="1252.6"/><circle cx="137.2" cy="1306.9"/><circle cx="274.9" cy="1230.4"/><circle cx="266.9" cy="1215.0"/><circle cx="154.2" cy="1292.8"/><circle cx="185.4" cy="1287.4"/><circle cx="218.9" cy="1283.9"/><circle cx="176.8" cy="1276.6"/><circle cx="200.6" cy="1263.8"/><circle cx="217.9" cy="1241.9"/><circle cx="260.6" cy="1219.1"/><circle cx="133.7" cy="1317.6"/><circle cx="235.8" cy="1257.8"/><circle cx="277.4" cy="1237.4"/><circle cx="133.8" cy="1313.7"/><circle cx="252.5" cy="1264.5"/><circle cx="216.5" cy="1239.0"/><circle cx="209.5" cy="1272.0"/><circle cx="267.2" cy="1248.6"/><circle cx="282.5" cy="1223.1"/><circle cx="279.5" cy="1237.8"/><circle cx="312.2" cy="1207.1"/><circle cx="201.8" cy="1270.9"/><circle cx="152.8" cy="1309.4"/><circle cx="207.3" cy="1263.1"/><circle cx="239.5" cy="1254.1"/><circle cx="284.0" cy="1238.0"/><circle cx="246.6" cy="1232.0"/><circle cx="214.8" cy="1281.0"/><circle cx="296.4" cy="1240.2"/><circle cx="263.8" cy="1267.8"/><circle cx="240.8" cy="1248.8"/><circle cx="234.4" cy="1277.0"/><circle cx="236.5" cy="1225.8"/><circle cx="246.7" cy="1227.6"/><circle cx="235.7" cy="1258.3"/><circle cx="131.2" cy="1301.3"/><circle cx="192.4" cy="1267.4"/><circle cx="243.9" cy="1235.0"/><circle cx="294.1" cy="1216.5"/><circle cx="276.2" cy="1221.6"/><circle cx="271.2" cy="1219.5"/><circle cx="303.1" cy="1215.5"/><circle cx="257.8" cy="1234.6"/><circle cx="287.5" cy="1225.5"/><circle cx="277.8" cy="1236.5"/><circle cx="249.0" cy="1257.8"/><circle cx="198.6" cy="1275.3"/><circle cx="167.7" cy="1290.4"/><circle cx="250.1" cy="1241.0"/><circle cx="178.9" cy="1272.7"/><circle cx="235.0" cy="1264.6"/><circle cx="264.5" cy="1238.3"/><circle cx="215.4" cy="1286.1"/><circle cx="274.4" cy="1238.2"/><circle cx="235.3" cy="1248.6"/><circle cx="207.2" cy="1287.8"/><circle cx="257.4" cy="1238.6"/><circle cx="264.6" cy="1237.9"/><circle cx="220.6" cy="1273.2"/><circle cx="258.3" cy="1246.8"/><circle cx="186.3" cy="1273.5"/><circle cx="246.6" cy="1261.4"/><circle cx="251.6" cy="1253.3"/><circle cx="195.9" cy="1280.0"/><circle cx="239.7" cy="1250.8"/><circle cx="296.4" cy="1223.9"/><circle cx="200.8" cy="1252.7"/><circle cx="201.5" cy="1298.4"/><circle cx="162.4" cy="1259.7"/><circle cx="199.1" cy="1261.8"/><circle cx="186.1" cy="1270.0"/><circle cx="174.2" cy="1299.6"/><circle cx="241.7" cy="1253.2"/><circle cx="253.1" cy="1251.5"/><circle cx="189.9" cy="1263.6"/><circle cx="248.7" cy="1267.8"/><circle cx="281.4" cy="1243.3"/><circle cx="237.0" cy="1221.0"/><circle cx="246.7" cy="1252.5"/><circle cx="251.1" cy="1214.9"/><circle cx="207.9" cy="1263.5"/><circle cx="277.6" cy="1239.6"/><circle cx="312.6" cy="1209.9"/><circle cx="202.8" cy="1254.1"/><circle cx="158.9" cy="1291.6"/><circle cx="217.1" cy="1284.4"/><circle cx="199.7" cy="1280.1"/><circle cx="252.5" cy="1257.4"/><circle cx="274.5" cy="1204.6"/><circle cx="265.1" cy="1246.5"/><circle cx="308.8" cy="1214.9"/><circle cx="250.3" cy="1231.4"/><circle cx="252.5" cy="1268.5"/><circle cx="161.7" cy="1299.5"/><circle cx="261.1" cy="1254.8"/><circle cx="210.4" cy="1262.7"/><circle cx="221.0" cy="1271.2"/><circle cx="232.5" cy="1266.4"/><circle cx="302.8" cy="1213.7"/><circle cx="274.7" cy="1234.2"/><circle cx="242.7" cy="1256.8"/><circle cx="182.1" cy="1286.6"/><circle cx="213.6" cy="1248.9"/><circle cx="231.4" cy="1264.0"/><circle cx="273.4" cy="1231.5"/><circle cx="263.1" cy="1243.7"/><circle cx="254.6" cy="1231.5"/><circle cx="213.0" cy="1294.4"/><circle cx="283.7" cy="1242.0"/><circle cx="356.5" cy="1206.0"/><circle cx="197.3" cy="1309.7"/><circle cx="205.4" cy="1290.6"/><circle cx="239.7" cy="1249.1"/><circle cx="268.8" cy="1215.9"/><circle cx="257.4" cy="1261.7"/><circle cx="245.0" cy="1255.3"/><circle cx="303.7" cy="1229.1"/><circle cx="205.5" cy="1296.0"/><circle cx="155.9" cy="1301.7"/><circle cx="171.2" cy="1280.3"/><circle cx="273.0" cy="1240.6"/><circle cx="272.7" cy="1227.1"/><circle cx="216.5" cy="1254.5"/><circle cx="183.0" cy="1294.2"/><circle cx="201.0" cy="1273.2"/><circle cx="255.8" cy="1252.5"/><circle cx="267.6" cy="1219.7"/><circle cx="211.0" cy="1269.4"/><circle cx="201.6" cy="1272.8"/><circle cx="199.3" cy="1277.8"/><circle cx="207.4" cy="1263.7"/><circle cx="267.1" cy="1248.2"/><circle cx="232.8" cy="1234.9"/><circle cx="252.9" cy="1253.2"/><circle cx="247.3" cy="1267.0"/><circle cx="243.0" cy="1251.8"/><circle cx="184.0" cy="1288.7"/><circle cx="187.6" cy="1272.9"/><circle cx="250.9" cy="1251.4"/><circle cx="254.3" cy="1252.2"/><circle cx="279.6" cy="1232.8"/><circle cx="235.1" cy="1262.7"/><circle cx="204.8" cy="1283.7"/><circle cx="229.1" cy="1264.0"/><circle cx="213.1" cy="1240.7"/><circle cx="249.0" cy="1230.4"/><circle cx="228.4" cy="1259.0"/><circle cx="271.8" cy="1269.2"/><circle cx="265.6" cy="1255.6"/><circle cx="257.9" cy="1242.7"/><circle cx="258.8" cy="1239.4"/><circle cx="194.7" cy="1274.0"/><circle cx="286.9" cy="1235.0"/><circle cx="301.6" cy="1212.0"/><circle cx="272.1" cy="1235.4"/><circle cx="296.7" cy="1205.7"/><circle cx="253.9" cy="1238.6"/><circle cx="212.1" cy="1254.8"/><circle cx="256.7" cy="1231.2"/><circle cx="237.2" cy="1249.9"/><circle cx="244.5" cy="1269.9"/><circle cx="307.5" cy="1218.9"/><circle cx="214.0" cy="1286.2"/><circle cx="283.2" cy="1220.5"/><circle cx="221.7" cy="1269.2"/><circle cx="169.3" cy="1286.7"/><circle cx="270.1" cy="1232.7"/><circle cx="245.8" cy="1247.8"/><circle cx="240.1" cy="1227.9"/><circle cx="253.6" cy="1246.3"/><circle cx="278.2" cy="1211.8"/><circle cx="261.8" cy="1248.4"/><circle cx="229.9" cy="1249.7"/><circle cx="230.2" cy="1234.8"/><circle cx="254.5" cy="1226.1"/><circle cx="217.3" cy="1253.2"/><circle cx="270.7" cy="1257.9"/><circle cx="156.6" cy="1283.8"/><circle cx="238.0" cy="1248.7"/><circle cx="245.9" cy="1252.7"/><circle cx="271.9" cy="1231.5"/><circle cx="202.4" cy="1275.1"/><circle cx="242.1" cy="1263.2"/><circle cx="258.1" cy="1231.4"/><circle cx="368.4" cy="1203.9"/><circle cx="262.1" cy="1261.8"/><circle cx="270.8" cy="1238.2"/><circle cx="233.9" cy="1278.7"/><circle cx="330.3" cy="1201.2"/><circle cx="233.6" cy="1250.7"/><circle cx="227.7" cy="1242.0"/><circle cx="246.3" cy="1239.1"/><circle cx="198.2" cy="1287.7"/><circle cx="207.8" cy="1278.1"/><circle cx="241.9" cy="1277.6"/><circle cx="223.6" cy="1288.1"/><circle cx="288.5" cy="1238.5"/><circle cx="225.4" cy="1264.3"/><circle cx="342.9" cy="1219.9"/><circle cx="253.8" cy="1244.6"/><circle cx="198.2" cy="1240.8"/><circle cx="247.6" cy="1244.7"/><circle cx="273.4" cy="1240.8"/><circle cx="247.1" cy="1258.3"/><circle cx="263.9" cy="1248.3"/><circle cx="239.2" cy="1266.4"/><circle cx="193.9" cy="1240.3"/><circle cx="254.3" cy="1281.2"/><circle cx="313.4" cy="1218.3"/><circle cx="226.7" cy="1262.8"/><circle cx="225.4" cy="1231.7"/><circle cx="187.9" cy="1297.9"/><circle cx="208.5" cy="1256.1"/><circle cx="239.6" cy="1222.1"/><circle cx="231.4" cy="1267.9"/><circle cx="289.0" cy="1232.5"/><circle cx="276.9" cy="1229.0"/><circle cx="216.4" cy="1253.0"/><circle cx="238.9" cy="1260.6"/><circle cx="265.9" cy="1238.6"/><circle cx="256.2" cy="1248.9"/><circle cx="230.9" cy="1265.2"/><circle cx="158.2" cy="1278.4"/><circle cx="295.8" cy="1226.6"/><circle cx="231.7" cy="1237.9"/><circle cx="249.3" cy="1254.7"/><circle cx="209.5" cy="1265.2"/><circle cx="293.3" cy="1212.8"/><circle cx="246.7" cy="1274.7"/><circle cx="247.7" cy="1251.6"/><circle cx="163.0" cy="1302.2"/><circle cx="226.9" cy="1273.1"/><circle cx="252.1" cy="1280.3"/><circle cx="233.9" cy="1211.0"/><circle cx="269.0" cy="1243.7"/><circle cx="231.5" cy="1259.0"/><circle cx="286.2" cy="1243.5"/><circle cx="234.0" cy="1257.3"/><circle cx="231.6" cy="1257.4"/><circle cx="242.4" cy="1261.4"/><circle cx="173.4" cy="1292.8"/><circle cx="146.5" cy="1295.5"/><circle cx="308.8" cy="1212.5"/><circle cx="183.9" cy="1317.0"/><circle cx="218.3" cy="1276.1"/><circle cx="243.6" cy="1214.4"/><circle cx="210.6" cy="1269.1"/><circle cx="273.3" cy="1217.8"/><circle cx="168.2" cy="1311.7"/><circle cx="234.0" cy="1238.8"/><circle cx="260.1" cy="1240.0"/><circle cx="324.7" cy="1210.7"/><circle cx="299.6" cy="1231.1"/><circle cx="204.5" cy="1264.9"/><circle cx="272.0" cy="1238.7"/><circle cx="263.6" cy="1275.7"/><circle cx="185.2" cy="1275.8"/><circle cx="217.1" cy="1268.0"/><circle cx="270.9" cy="1221.0"/><circle cx="223.8" cy="1260.4"/><circle cx="203.1" cy="1283.9"/><circle cx="212.5" cy="1271.1"/><circle cx="192.3" cy="1293.1"/><circle cx="166.2" cy="1277.4"/><circle cx="251.1" cy="1249.5"/><circle cx="251.3" cy="1241.9"/><circle cx="255.3" cy="1198.1"/><circle cx="184.0" cy="1305.4"/><circle cx="193.1" cy="1283.9"/><circle cx="247.3" cy="1239.9"/><circle cx="248.5" cy="1266.1"/><circle cx="232.2" cy="1267.3"/><circle cx="172.3" cy="1256.4"/><circle cx="226.2" cy="1269.8"/><circle cx="197.8" cy="1318.6"/><circle cx="296.0" cy="1225.4"/><circle cx="267.7" cy="1251.0"/><circle cx="184.7" cy="1259.9"/><circle cx="271.0" cy="1210.0"/><circle cx="184.6" cy="1263.9"/><circle cx="264.5" cy="1256.9"/><circle cx="247.3" cy="1264.8"/><circle cx="200.8" cy="1236.6"/><circle cx="292.5" cy="1237.1"/><circle cx="155.5" cy="1270.4"/><circle cx="211.1" cy="1248.2"/><circle cx="220.6" cy="1263.9"/><circle cx="160.1" cy="1290.5"/><circle cx="175.3" cy="1291.8"/><circle cx="240.0" cy="1257.2"/><circle cx="252.1" cy="1265.8"/><circle cx="191.7" cy="1274.8"/><circle cx="250.2" cy="1236.6"/><circle cx="246.4" cy="1238.2"/><circle cx="281.0" cy="1269.0"/><circle cx="233.1" cy="1277.4"/><circle cx="239.1" cy="1274.4"/><circle cx="261.5" cy="1250.6"/><circle cx="214.5" cy="1273.7"/><circle cx="212.6" cy="1294.4"/><circle cx="187.4" cy="1284.8"/><circle cx="242.8" cy="1227.5"/><circle cx="271.3" cy="1209.0"/><circle cx="182.5" cy="1330.5"/><circle cx="216.8" cy="1250.9"/><circle cx="258.3" cy="1232.0"/><circle cx="291.6" cy="1220.5"/><circle cx="254.4" cy="1263.1"/><circle cx="197.4" cy="1261.2"/><circle cx="262.8" cy="1236.8"/><circle cx="328.7" cy="1207.1"/><circle cx="243.3" cy="1230.7"/><circle cx="265.9" cy="1239.6"/><circle cx="313.0" cy="1228.4"/><circle cx="184.6" cy="1291.3"/><circle cx="271.1" cy="1236.9"/><circle cx="300.0" cy="1226.2"/><circle cx="277.7" cy="1230.2"/><circle cx="244.5" cy="1243.8"/><circle cx="223.4" cy="1255.0"/><circle cx="226.1" cy="1276.1"/><circle cx="179.4" cy="1262.8"/><circle cx="213.1" cy="1249.9"/><circle cx="201.8" cy="1289.9"/><circle cx="246.0" cy="1270.0"/><circle cx="233.2" cy="1259.4"/><circle cx="212.2" cy="1256.2"/><circle cx="213.2" cy="1242.8"/><circle cx="247.1" cy="1259.2"/><circle cx="195.0" cy="1283.5"/><circle cx="266.5" cy="1243.1"/><circle cx="250.1" cy="1254.2"/><circle cx="254.6" cy="1227.0"/><circle cx="222.1" cy="1251.1"/><circle cx="231.7" cy="1256.1"/><circle cx="244.2" cy="1247.2"/><circle cx="232.5" cy="1230.3"/><circle cx="216.3" cy="1246.1"/><circle cx="226.4" cy="1257.5"/><circle cx="230.6" cy="1281.4"/><circle cx="243.9" cy="1290.0"/><circle cx="214.0" cy="1272.4"/><circle cx="207.7" cy="1266.4"/><circle cx="205.1" cy="1278.4"/><circle cx="292.2" cy="1222.3"/><circle cx="208.6" cy="1257.0"/><circle cx="212.3" cy="1214.8"/><circle cx="204.5" cy="1276.7"/><circle cx="240.9" cy="1241.5"/><circle cx="285.7" cy="1224.0"/><circle cx="205.8" cy="1256.6"/><circle cx="243.5" cy="1244.7"/><circle cx="238.7" cy="1255.8"/><circle cx="262.8" cy="1216.4"/><circle cx="232.2" cy="1245.4"/><circle cx="241.2" cy="1262.3"/><circle cx="237.6" cy="1267.2"/><circle cx="154.5" cy="1274.5"/><circle cx="283.9" cy="1240.0"/><circle cx="312.2" cy="1231.4"/><circle cx="213.0" cy="1276.4"/><circle cx="276.7" cy="1238.9"/><circle cx="242.5" cy="1254.1"/><circle cx="298.7" cy="1224.7"/><circle cx="218.6" cy="1258.4"/><circle cx="268.1" cy="1258.1"/><circle cx="291.5" cy="1222.2"/><circle cx="252.3" cy="1221.9"/><circle cx="254.3" cy="1253.7"/><circle cx="247.9" cy="1263.7"/><circle cx="223.4" cy="1270.2"/><circle cx="240.9" cy="1236.3"/><circle cx="212.0" cy="1280.6"/><circle cx="283.9" cy="1178.7"/><circle cx="277.1" cy="1259.4"/><circle cx="242.4" cy="1261.2"/><circle cx="174.7" cy="1262.5"/><circle cx="268.2" cy="1201.7"/><circle cx="311.6" cy="1250.0"/><circle cx="262.9" cy="1243.4"/><circle cx="272.1" cy="1221.8"/><circle cx="279.9" cy="1234.8"/><circle cx="242.1" cy="1248.2"/><circle cx="233.9" cy="1253.5"/><circle cx="251.8" cy="1251.2"/><circle cx="293.5" cy="1225.8"/><circle cx="216.5" cy="1249.6"/><circle cx="189.4" cy="1288.5"/><circle cx="251.3" cy="1249.9"/><circle cx="242.1" cy="1235.5"/><circle cx="249.0" cy="1263.8"/><circle cx="255.6" cy="1252.7"/><circle cx="194.3" cy="1263.6"/><circle cx="226.7" cy="1291.3"/><circle cx="234.6" cy="1265.8"/><circle cx="252.4" cy="1269.0"/><circle cx="257.9" cy="1230.3"/><circle cx="267.9" cy="1228.7"/><circle cx="252.9" cy="1248.0"/><circle cx="235.2" cy="1247.0"/><circle cx="206.9" cy="1270.0"/><circle cx="216.3" cy="1243.8"/><circle cx="201.6" cy="1310.8"/><circle cx="221.4" cy="1273.4"/><circle cx="268.7" cy="1258.2"/><circle cx="277.0" cy="1260.4"/><circle cx="205.7" cy="1273.4"/><circle cx="301.0" cy="1250.2"/><circle cx="139.6" cy="1274.8"/><circle cx="259.6" cy="1235.3"/><circle cx="238.7" cy="1245.0"/><circle cx="236.5" cy="1254.7"/><circle cx="248.8" cy="1228.7"/><circle cx="233.8" cy="1271.6"/><circle cx="339.5" cy="1226.4"/><circle cx="227.2" cy="1264.8"/><circle cx="234.5" cy="1266.6"/><circle cx="237.6" cy="1218.4"/><circle cx="164.7" cy="1286.0"/><circle cx="240.2" cy="1259.7"/><circle cx="185.3" cy="1274.7"/><circle cx="293.9" cy="1225.9"/><circle cx="220.8" cy="1258.1"/><circle cx="239.7" cy="1259.4"/><circle cx="166.3" cy="1274.3"/><circle cx="311.9" cy="1218.7"/><circle cx="188.6" cy="1308.2"/><circle cx="192.9" cy="1293.4"/><circle cx="229.7" cy="1295.2"/><circle cx="157.2" cy="1301.8"/><circle cx="198.6" cy="1293.2"/><circle cx="215.6" cy="1246.4"/><circle cx="286.6" cy="1241.7"/><circle cx="285.0" cy="1235.1"/><circle cx="195.8" cy="1276.1"/><circle cx="227.7" cy="1280.1"/><circle cx="256.4" cy="1224.8"/><circle cx="281.7" cy="1224.5"/><circle cx="211.4" cy="1276.2"/><circle cx="222.9" cy="1247.4"/><circle cx="232.2" cy="1242.1"/><circle cx="252.3" cy="1263.0"/><circle cx="228.0" cy="1255.2"/><circle cx="298.3" cy="1201.5"/><circle cx="228.2" cy="1252.9"/><circle cx="279.8" cy="1220.1"/><circle cx="254.5" cy="1232.3"/><circle cx="373.5" cy="1179.3"/><circle cx="287.6" cy="1207.5"/><circle cx="158.9" cy="1277.8"/><circle cx="264.9" cy="1239.5"/><circle cx="164.4" cy="1297.7"/><circle cx="299.8" cy="1237.9"/><circle cx="219.9" cy="1243.7"/><circle cx="158.1" cy="1293.2"/><circle cx="211.0" cy="1287.8"/><circle cx="230.0" cy="1265.3"/><circle cx="289.4" cy="1214.3"/><circle cx="237.7" cy="1241.1"/><circle cx="262.8" cy="1250.9"/><circle cx="214.5" cy="1267.9"/><circle cx="215.3" cy="1254.2"/><circle cx="180.4" cy="1281.6"/><circle cx="220.8" cy="1258.0"/><circle cx="234.8" cy="1271.7"/><circle cx="216.5" cy="1224.9"/><circle cx="202.3" cy="1266.1"/><circle cx="237.7" cy="1274.5"/><circle cx="207.4" cy="1244.5"/><circle cx="243.3" cy="1246.1"/><circle cx="218.1" cy="1279.8"/><circle cx="203.4" cy="1252.9"/><circle cx="197.9" cy="1268.9"/><circle cx="202.8" cy="1260.6"/><circle cx="225.1" cy="1264.3"/><circle cx="191.3" cy="1270.9"/><circle cx="272.8" cy="1215.3"/><circle cx="273.1" cy="1234.1"/><circle cx="249.2" cy="1250.4"/><circle cx="270.8" cy="1252.7"/><circle cx="185.4" cy="1278.8"/><circle cx="209.1" cy="1268.3"/><circle cx="212.2" cy="1259.7"/><circle cx="251.3" cy="1265.0"/><circle cx="272.8" cy="1252.7"/><circle cx="260.2" cy="1227.1"/><circle cx="164.1" cy="1262.8"/><circle cx="246.2" cy="1280.8"/><circle cx="262.3" cy="1208.3"/><circle cx="211.7" cy="1240.6"/><circle cx="247.6" cy="1238.8"/><circle cx="185.1" cy="1316.8"/><circle cx="243.8" cy="1268.6"/><circle cx="222.4" cy="1258.8"/><circle cx="164.6" cy="1309.3"/><circle cx="262.6" cy="1236.0"/><circle cx="293.6" cy="1238.6"/><circle cx="261.6" cy="1232.1"/><circle cx="233.0" cy="1283.0"/><circle cx="233.5" cy="1266.0"/><circle cx="205.7" cy="1263.6"/><circle cx="244.6" cy="1221.1"/><circle cx="260.4" cy="1259.1"/><circle cx="292.0" cy="1229.8"/><circle cx="227.4" cy="1243.8"/><circle cx="262.8" cy="1223.6"/><circle cx="222.5" cy="1254.6"/><circle cx="205.5" cy="1267.2"/><circle cx="232.9" cy="1253.5"/><circle cx="202.3" cy="1274.4"/><circle cx="202.3" cy="1274.7"/><circle cx="258.2" cy="1231.8"/><circle cx="275.6" cy="1264.6"/><circle cx="202.9" cy="1269.8"/><circle cx="195.7" cy="1267.9"/><circle cx="230.6" cy="1266.7"/><circle cx="199.5" cy="1262.0"/><circle cx="263.6" cy="1245.2"/><circle cx="222.5" cy="1265.0"/><circle cx="192.1" cy="1298.0"/><circle cx="194.7" cy="1263.4"/><circle cx="235.5" cy="1223.6"/><circle cx="318.9" cy="1224.1"/><circle cx="251.3" cy="1242.4"/><circle cx="194.8" cy="1308.1"/><circle cx="204.5" cy="1285.6"/><circle cx="236.1" cy="1247.1"/><circle cx="229.3" cy="1264.4"/><circle cx="230.1" cy="1238.9"/><circle cx="301.2" cy="1199.4"/><circle cx="194.4" cy="1280.0"/><circle cx="197.4" cy="1280.1"/><circle cx="219.0" cy="1237.3"/><circle cx="240.2" cy="1265.1"/><circle cx="244.9" cy="1258.1"/><circle cx="271.8" cy="1250.7"/><circle cx="222.1" cy="1239.4"/><circle cx="277.4" cy="1239.7"/><circle cx="236.0" cy="1245.0"/><circle cx="244.5" cy="1242.2"/><circle cx="177.1" cy="1307.8"/><circle cx="201.7" cy="1276.8"/><circle cx="223.5" cy="1272.2"/><circle cx="264.6" cy="1252.8"/><circle cx="218.1" cy="1284.7"/><circle cx="191.2" cy="1267.2"/><circle cx="199.0" cy="1262.1"/><circle cx="300.8" cy="1222.4"/><circle cx="182.4" cy="1296.8"/><circle cx="237.6" cy="1242.9"/><circle cx="239.0" cy="1260.6"/><circle cx="281.8" cy="1214.3"/><circle cx="258.6" cy="1237.9"/><circle cx="221.8" cy="1262.9"/><circle cx="268.3" cy="1240.4"/><circle cx="288.5" cy="1235.8"/><circle cx="219.8" cy="1260.9"/><circle cx="174.3" cy="1296.4"/><circle cx="184.9" cy="1274.2"/><circle cx="242.9" cy="1265.1"/><circle cx="201.8" cy="1287.2"/><circle cx="237.0" cy="1248.2"/><circle cx="292.2" cy="1255.2"/><circle cx="243.5" cy="1252.4"/><circle cx="316.1" cy="1205.8"/><circle cx="228.7" cy="1256.1"/><circle cx="193.8" cy="1290.3"/><circle cx="245.1" cy="1255.9"/><circle cx="269.1" cy="1228.8"/><circle cx="188.5" cy="1295.3"/><circle cx="261.6" cy="1260.7"/><circle cx="309.4" cy="1238.8"/><circle cx="249.4" cy="1260.5"/><circle cx="303.5" cy="1214.3"/><circle cx="176.1" cy="1283.8"/><circle cx="262.6" cy="1253.0"/><circle cx="184.0" cy="1312.0"/><circle cx="188.3" cy="1325.1"/><circle cx="180.4" cy="1289.0"/><circle cx="269.2" cy="1223.1"/><circle cx="241.9" cy="1241.3"/><circle cx="292.2" cy="1232.4"/><circle cx="210.1" cy="1286.7"/><circle cx="168.7" cy="1289.1"/><circle cx="261.3" cy="1226.0"/><circle cx="197.4" cy="1252.2"/><circle cx="185.1" cy="1302.2"/><circle cx="254.7" cy="1223.5"/><circle cx="279.7" cy="1242.2"/><circle cx="206.2" cy="1274.0"/><circle cx="228.0" cy="1231.7"/><circle cx="248.7" cy="1232.2"/><circle cx="208.0" cy="1291.1"/><circle cx="205.5" cy="1276.5"/><circle cx="245.1" cy="1248.9"/><circle cx="306.8" cy="1235.4"/><circle cx="199.4" cy="1279.4"/><circle cx="267.8" cy="1240.5"/><circle cx="259.4" cy="1245.7"/><circle cx="244.7" cy="1254.0"/><circle cx="237.4" cy="1274.7"/><circle cx="201.5" cy="1270.0"/><circle cx="270.3" cy="1255.1"/><circle cx="243.7" cy="1278.0"/><circle cx="139.0" cy="1307.8"/><circle cx="332.7" cy="1181.2"/><circle cx="294.5" cy="1230.0"/><circle cx="332.2" cy="1209.7"/><circle cx="362.2" cy="1181.3"/><circle cx="350.2" cy="1179.7"/><circle cx="320.6" cy="1223.3"/><circle cx="344.0" cy="1195.2"/><circle cx="343.8" cy="1200.3"/><circle cx="330.5" cy="1203.4"/><circle cx="335.8" cy="1210.6"/><circle cx="395.2" cy="1189.6"/><circle cx="257.2" cy="1267.3"/><circle cx="317.2" cy="1231.3"/><circle cx="357.2" cy="1197.5"/><circle cx="327.7" cy="1216.0"/><circle cx="346.1" cy="1216.7"/><circle cx="348.8" cy="1224.8"/><circle cx="324.7" cy="1218.7"/><circle cx="325.1" cy="1201.4"/><circle cx="310.9" cy="1231.4"/><circle cx="335.5" cy="1223.1"/><circle cx="352.5" cy="1198.5"/><circle cx="369.9" cy="1212.8"/><circle cx="345.2" cy="1202.2"/><circle cx="324.4" cy="1220.1"/><circle cx="322.4" cy="1226.5"/><circle cx="289.6" cy="1261.4"/><circle cx="319.2" cy="1206.0"/><circle cx="305.9" cy="1237.6"/><circle cx="315.2" cy="1236.1"/><circle cx="320.4" cy="1220.5"/><circle cx="339.7" cy="1226.6"/><circle cx="331.9" cy="1206.8"/><circle cx="325.0" cy="1203.1"/><circle cx="289.9" cy="1220.6"/><circle cx="313.5" cy="1216.0"/><circle cx="345.6" cy="1193.3"/><circle cx="331.0" cy="1223.6"/><circle cx="343.7" cy="1209.8"/><circle cx="324.5" cy="1199.3"/><circle cx="386.4" cy="1209.6"/><circle cx="383.4" cy="1192.1"/><circle cx="400.1" cy="1156.1"/><circle cx="309.9" cy="1201.2"/><circle cx="357.0" cy="1203.6"/><circle cx="301.1" cy="1251.8"/><circle cx="352.3" cy="1200.7"/><circle cx="352.2" cy="1219.0"/><circle cx="330.5" cy="1240.0"/><circle cx="381.1" cy="1200.2"/><circle cx="335.7" cy="1209.3"/><circle cx="278.1" cy="1225.8"/><circle cx="374.0" cy="1184.1"/><circle cx="343.8" cy="1228.7"/><circle cx="357.6" cy="1202.7"/><circle cx="307.4" cy="1214.7"/><circle cx="307.6" cy="1223.0"/><circle cx="295.0" cy="1232.7"/><circle cx="307.2" cy="1245.3"/><circle cx="351.4" cy="1197.3"/><circle cx="360.8" cy="1227.5"/><circle cx="284.5" cy="1244.5"/><circle cx="334.9" cy="1219.6"/><circle cx="326.8" cy="1202.7"/><circle cx="311.7" cy="1232.7"/><circle cx="342.6" cy="1214.1"/><circle cx="312.4" cy="1236.8"/><circle cx="356.8" cy="1192.6"/><circle cx="323.9" cy="1223.4"/><circle cx="327.0" cy="1196.5"/><circle cx="219.6" cy="1261.2"/><circle cx="329.5" cy="1250.8"/><circle cx="327.2" cy="1211.7"/><circle cx="305.2" cy="1218.9"/><circle cx="327.3" cy="1231.1"/><circle cx="298.7" cy="1230.9"/><circle cx="369.9" cy="1233.4"/><circle cx="297.2" cy="1235.3"/><circle cx="322.4" cy="1231.1"/><circle cx="369.2" cy="1192.1"/><circle cx="369.3" cy="1212.4"/><circle cx="326.5" cy="1219.2"/><circle cx="304.8" cy="1269.6"/><circle cx="264.8" cy="1241.1"/><circle cx="342.2" cy="1216.8"/><circle cx="337.8" cy="1223.1"/><circle cx="311.0" cy="1210.4"/><circle cx="314.6" cy="1217.2"/><circle cx="386.1" cy="1175.6"/><circle cx="343.7" cy="1185.0"/><circle cx="329.3" cy="1221.4"/><circle cx="303.5" cy="1189.0"/><circle cx="308.9" cy="1208.8"/><circle cx="330.4" cy="1199.6"/><circle cx="321.1" cy="1225.1"/><circle cx="329.5" cy="1214.4"/><circle cx="320.4" cy="1236.5"/><circle cx="357.5" cy="1219.1"/><circle cx="335.9" cy="1215.5"/><circle cx="287.2" cy="1225.0"/><circle cx="419.9" cy="1178.8"/><circle cx="332.1" cy="1204.6"/><circle cx="311.9" cy="1221.2"/><circle cx="290.9" cy="1237.5"/><circle cx="339.4" cy="1232.9"/><circle cx="325.5" cy="1257.4"/><circle cx="387.3" cy="1203.9"/><circle cx="341.4" cy="1203.7"/><circle cx="315.9" cy="1237.8"/><circle cx="282.3" cy="1260.6"/><circle cx="347.8" cy="1194.9"/><circle cx="278.4" cy="1246.5"/><circle cx="339.3" cy="1202.2"/><circle cx="328.9" cy="1208.6"/><circle cx="245.2" cy="1263.4"/><circle cx="321.6" cy="1223.6"/><circle cx="374.1" cy="1182.4"/><circle cx="301.3" cy="1232.6"/><circle cx="252.2" cy="1240.5"/><circle cx="275.0" cy="1243.8"/><circle cx="326.5" cy="1220.9"/><circle cx="334.2" cy="1208.0"/><circle cx="344.4" cy="1187.1"/><circle cx="331.7" cy="1204.9"/><circle cx="301.3" cy="1237.7"/><circle cx="320.3" cy="1235.9"/><circle cx="326.6" cy="1232.4"/><circle cx="329.1" cy="1232.0"/><circle cx="299.9" cy="1257.9"/><circle cx="345.0" cy="1202.6"/><circle cx="368.2" cy="1213.0"/><circle cx="319.1" cy="1211.0"/><circle cx="343.1" cy="1234.9"/><circle cx="295.1" cy="1249.4"/><circle cx="328.5" cy="1203.1"/><circle cx="307.6" cy="1238.7"/><circle cx="306.8" cy="1243.5"/><circle cx="347.9" cy="1195.7"/><circle cx="334.4" cy="1219.3"/><circle cx="318.9" cy="1235.3"/><circle cx="288.7" cy="1265.5"/><circle cx="325.5" cy="1211.2"/><circle cx="388.1" cy="1208.2"/><circle cx="332.4" cy="1201.1"/><circle cx="331.0" cy="1204.4"/><circle cx="374.4" cy="1212.6"/><circle cx="398.6" cy="1191.1"/><circle cx="342.7" cy="1199.2"/><circle cx="370.4" cy="1217.4"/><circle cx="339.2" cy="1219.2"/><circle cx="346.4" cy="1210.9"/><circle cx="342.4" cy="1206.2"/><circle cx="349.3" cy="1169.5"/><circle cx="316.1" cy="1224.4"/><circle cx="346.2" cy="1221.8"/><circle cx="340.1" cy="1210.8"/><circle cx="332.5" cy="1225.9"/><circle cx="311.8" cy="1225.0"/><circle cx="364.3" cy="1218.4"/><circle cx="302.1" cy="1189.9"/><circle cx="286.2" cy="1247.1"/><circle cx="347.9" cy="1193.9"/><circle cx="288.2" cy="1242.0"/><circle cx="359.3" cy="1210.7"/><circle cx="260.5" cy="1270.4"/><circle cx="336.5" cy="1225.0"/><circle cx="394.4" cy="1199.8"/><circle cx="319.2" cy="1208.0"/><circle cx="368.6" cy="1198.2"/><circle cx="306.5" cy="1197.8"/><circle cx="310.1" cy="1232.1"/><circle cx="313.1" cy="1201.8"/><circle cx="367.6" cy="1212.0"/><circle cx="372.8" cy="1196.7"/><circle cx="374.2" cy="1189.0"/><circle cx="355.5" cy="1193.6"/><circle cx="332.1" cy="1218.0"/><circle cx="266.0" cy="1241.9"/><circle cx="299.7" cy="1212.0"/><circle cx="380.7" cy="1195.1"/><circle cx="276.4" cy="1232.5"/><circle cx="349.2" cy="1213.0"/><circle cx="338.9" cy="1197.8"/><circle cx="271.7" cy="1229.8"/><circle cx="354.9" cy="1235.1"/><circle cx="322.1" cy="1229.1"/><circle cx="344.1" cy="1226.2"/><circle cx="325.8" cy="1214.7"/><circle cx="323.7" cy="1219.0"/><circle cx="301.7" cy="1231.1"/><circle cx="279.9" cy="1271.1"/><circle cx="389.4" cy="1194.3"/><circle cx="303.9" cy="1231.5"/><circle cx="321.8" cy="1220.0"/><circle cx="318.8" cy="1223.1"/><circle cx="327.3" cy="1232.9"/><circle cx="307.2" cy="1229.0"/><circle cx="348.0" cy="1207.7"/><circle cx="338.2" cy="1231.6"/><circle cx="321.0" cy="1235.4"/><circle cx="316.6" cy="1235.2"/><circle cx="358.0" cy="1230.0"/><circle cx="301.4" cy="1230.4"/><circle cx="340.5" cy="1194.9"/><circle cx="362.5" cy="1176.1"/><circle cx="363.8" cy="1197.7"/><circle cx="350.0" cy="1209.4"/><circle cx="285.0" cy="1254.5"/><circle cx="345.6" cy="1187.7"/><circle cx="332.0" cy="1196.2"/><circle cx="373.2" cy="1190.4"/><circle cx="312.9" cy="1221.4"/><circle cx="309.4" cy="1207.1"/><circle cx="376.6" cy="1189.0"/><circle cx="311.5" cy="1236.2"/><circle cx="366.9" cy="1193.1"/><circle cx="357.0" cy="1235.4"/><circle cx="179.2" cy="1257.8"/><circle cx="173.0" cy="1310.3"/><circle cx="171.8" cy="1284.8"/><circle cx="163.6" cy="1321.0"/><circle cx="226.2" cy="1273.3"/><circle cx="185.8" cy="1309.1"/><circle cx="176.9" cy="1296.8"/><circle cx="193.5" cy="1280.6"/><circle cx="180.5" cy="1303.4"/><circle cx="190.2" cy="1332.2"/><circle cx="186.3" cy="1302.2"/><circle cx="195.3" cy="1272.3"/><circle cx="202.9" cy="1283.8"/><circle cx="157.1" cy="1310.0"/><circle cx="163.6" cy="1330.7"/><circle cx="193.4" cy="1292.7"/><circle cx="176.1" cy="1296.8"/><circle cx="177.0" cy="1304.2"/><circle cx="198.4" cy="1275.9"/><circle cx="196.0" cy="1296.7"/><circle cx="166.7" cy="1290.2"/><circle cx="192.2" cy="1284.0"/><circle cx="172.1" cy="1307.9"/><circle cx="164.6" cy="1287.1"/><circle cx="208.9" cy="1258.9"/><circle cx="174.1" cy="1290.6"/><circle cx="205.4" cy="1306.7"/><circle cx="185.9" cy="1309.4"/><circle cx="179.1" cy="1301.1"/><circle cx="171.5" cy="1321.5"/><circle cx="170.0" cy="1320.2"/><circle cx="203.4" cy="1274.5"/><circle cx="217.2" cy="1257.5"/><circle cx="206.4" cy="1302.2"/><circle cx="190.7" cy="1282.0"/><circle cx="179.7" cy="1310.4"/><circle cx="172.3" cy="1279.3"/><circle cx="212.4" cy="1277.3"/><circle cx="224.0" cy="1250.9"/><circle cx="203.2" cy="1295.5"/><circle cx="198.4" cy="1300.2"/><circle cx="208.8" cy="1287.5"/><circle cx="193.9" cy="1303.6"/><circle cx="167.4" cy="1299.1"/><circle cx="172.2" cy="1311.4"/><circle cx="184.9" cy="1306.3"/><circle cx="171.5" cy="1291.0"/><circle cx="146.2" cy="1331.7"/><circle cx="154.2" cy="1321.1"/><circle cx="203.8" cy="1292.0"/><circle cx="201.4" cy="1281.9"/><circle cx="200.1" cy="1285.8"/><circle cx="184.8" cy="1304.5"/><circle cx="173.8" cy="1305.7"/><circle cx="188.8" cy="1303.4"/><circle cx="181.3" cy="1277.0"/><circle cx="183.5" cy="1313.0"/><circle cx="199.6" cy="1274.0"/><circle cx="180.5" cy="1316.5"/><circle cx="131.1" cy="1307.9"/><circle cx="193.3" cy="1280.9"/><circle cx="203.9" cy="1288.3"/><circle cx="185.0" cy="1302.9"/><circle cx="201.2" cy="1278.4"/><circle cx="200.7" cy="1271.4"/><circle cx="394.1" cy="1226.2"/><circle cx="409.4" cy="1239.3"/><circle cx="357.4" cy="1219.4"/><circle cx="364.3" cy="1249.3"/><circle cx="379.6" cy="1253.4"/><circle cx="375.2" cy="1221.3"/><circle cx="345.8" cy="1236.0"/><circle cx="360.7" cy="1232.8"/><circle cx="394.6" cy="1225.6"/><circle cx="361.4" cy="1223.5"/><circle cx="362.9" cy="1227.9"/><circle cx="407.4" cy="1212.2"/><circle cx="400.0" cy="1217.1"/><circle cx="418.5" cy="1229.0"/><circle cx="377.1" cy="1219.4"/><circle cx="382.2" cy="1236.9"/><circle cx="377.0" cy="1238.8"/><circle cx="354.4" cy="1240.3"/><circle cx="342.5" cy="1245.2"/><circle cx="373.9" cy="1216.3"/><circle cx="361.8" cy="1223.4"/><circle cx="393.8" cy="1224.8"/><circle cx="399.3" cy="1220.4"/><circle cx="350.9" cy="1235.3"/><circle cx="361.7" cy="1251.6"/><circle cx="385.1" cy="1225.5"/><circle cx="406.3" cy="1214.5"/><circle cx="408.0" cy="1210.3"/><circle cx="374.0" cy="1244.5"/><circle cx="384.8" cy="1231.8"/><circle cx="408.5" cy="1217.2"/><circle cx="359.6" cy="1216.3"/><circle cx="372.2" cy="1254.7"/><circle cx="397.2" cy="1197.0"/><circle cx="369.9" cy="1236.4"/><circle cx="352.1" cy="1221.0"/><circle cx="400.7" cy="1192.7"/><circle cx="354.6" cy="1189.4"/><circle cx="373.9" cy="1229.9"/><circle cx="392.8" cy="1223.2"/><circle cx="405.8" cy="1207.1"/><circle cx="392.3" cy="1211.7"/><circle cx="377.2" cy="1205.2"/><circle cx="388.0" cy="1219.7"/><circle cx="386.8" cy="1216.7"/><circle cx="377.3" cy="1202.8"/><circle cx="346.3" cy="1232.4"/><circle cx="384.2" cy="1216.9"/><circle cx="349.5" cy="1221.2"/><circle cx="373.3" cy="1243.3"/><circle cx="375.4" cy="1206.2"/><circle cx="389.4" cy="1248.4"/><circle cx="393.7" cy="1234.5"/><circle cx="377.4" cy="1217.9"/><circle cx="100.8" cy="1305.6"/><circle cx="126.5" cy="1327.3"/><circle cx="136.4" cy="1330.3"/><circle cx="136.4" cy="1338.2"/><circle cx="139.4" cy="1309.2"/><circle cx="141.4" cy="1288.8"/><circle cx="153.8" cy="1323.4"/><circle cx="155.2" cy="1268.0"/><circle cx="158.2" cy="1274.9"/><circle cx="161.7" cy="1257.7"/><circle cx="167.1" cy="1335.2"/><circle cx="175.4" cy="1342.6"/><circle cx="160.1" cy="1350.1"/><circle cx="171.0" cy="1360.0"/><circle cx="182.5" cy="1381.7"/><circle cx="193.8" cy="1334.3"/><circle cx="221.4" cy="1332.9"/><circle cx="226.4" cy="1323.4"/><circle cx="230.9" cy="1328.9"/><circle cx="242.2" cy="1323.4"/><circle cx="246.1" cy="1299.7"/><circle cx="275.8" cy="1286.8"/><circle cx="277.8" cy="1277.5"/><circle cx="316.3" cy="1285.8"/><circle cx="307.0" cy="1271.0"/><circle cx="345.0" cy="1267.6"/><circle cx="341.0" cy="1251.8"/><circle cx="349.9" cy="1253.8"/><circle cx="358.4" cy="1249.2"/><circle cx="385.9" cy="1265.1"/><circle cx="389.5" cy="1248.3"/><circle cx="386.5" cy="1235.4"/><circle cx="396.4" cy="1231.5"/><circle cx="394.4" cy="1223.0"/><circle cx="395.4" cy="1200.8"/><circle cx="389.9" cy="1183.4"/><circle cx="408.3" cy="1214.6"/><circle cx="425.1" cy="1224.5"/><circle cx="430.0" cy="1212.7"/><circle cx="431.0" cy="1224.5"/><circle cx="452.7" cy="1216.6"/><circle cx="382.0" cy="1159.7"/><circle cx="349.9" cy="1168.2"/><circle cx="309.0" cy="1172.1"/><circle cx="321.3" cy="1175.1"/><circle cx="321.3" cy="1179.5"/><circle cx="296.0" cy="1185.0"/><circle cx="263.5" cy="1191.9"/><circle cx="259.6" cy="1201.8"/><circle cx="355.9" cy="1181.0"/><circle cx="374.7" cy="1187.0"/></g><rect class="bx" x="86.4" y="1098.6" width="380.6" height="319.7"/><line class="rl" x1="86.4" y1="1331.6" x2="467.0" y2="1154.9"/><text class="l" x="513.3" y="1060.3">(j)</text><text class="t" x="782.4" y="1036.9">Pearson-Correlation:-0.6524</text><text class="t" x="782.4" y="1061.2">P-value:1.598e-133</text><text class="t" x="782.4" y="1085.5">Sample Size:(N=1093)</text><text class="k" x="638.8" y="1453">9</text><text class="k" x="693.9" y="1453">10</text><text class="k" x="749.1" y="1453">11</text><text class="k" x="804.2" y="1453">12</text><text class="k" x="859.3" y="1453">13</text><text class="k" x="914.5" y="1453">14</text><text class="k" x="969.6" y="1453">15</text><text class="k" transform="translate(569.9 1411.3) rotate(-90)">6</text><text class="k" transform="translate(569.9 1342.8) rotate(-90)">8</text><text class="k" transform="translate(569.9 1274.4) rotate(-90)">10</text><text class="k" transform="translate(569.9 1206) rotate(-90)">12</text><text class="k" transform="translate(569.9 1137.5) rotate(-90)">14</text><path class="tk" d="M638.8 1416v9.8M693.9 1416v9.8M749.1 1416v9.8M804.2 1416v9.8M859.3 1416v9.8M914.5 1416v9.8M969.6 1416v9.8M592.6 1411.3h-9.8M592.6 1342.8h-9.8M592.6 1274.4h-9.8M592.6 1206h-9.8M592.6 1137.5h-9.8"/><text class="a" x="782.4" y="1493">KPNA2</text><text class="a" transform="translate(529.3 1255.8) rotate(-90)">TENC1</text><g class="c"><circle cx="785.2" cy="1285.8"/><circle cx="772.5" cy="1261.0"/><circle cx="776.2" cy="1265.5"/><circle cx="731.2" cy="1252.7"/><circle cx="685.6" cy="1229.7"/><circle cx="641.8" cy="1205.9"/><circle cx="730.1" cy="1266.0"/><circle cx="727.0" cy="1230.2"/><circle cx="715.0" cy="1206.0"/><circle cx="810.9" cy="1276.4"/><circle cx="760.0" cy="1222.5"/><circle cx="667.7" cy="1214.9"/><circle cx="713.7" cy="1258.9"/><circle cx="738.1" cy="1274.3"/><circle cx="683.6" cy="1207.4"/><circle cx="732.9" cy="1253.4"/><circle cx="720.2" cy="1221.7"/><circle cx="665.5" cy="1222.4"/><circle cx="734.9" cy="1270.3"/><circle cx="757.7" cy="1248.1"/><circle cx="613.7" cy="1219.0"/><circle cx="742.8" cy="1256.1"/><circle cx="687.6" cy="1270.0"/><circle cx="716.7" cy="1230.5"/><circle cx="665.5" cy="1203.2"/><circle cx="679.0" cy="1245.1"/><circle cx="791.5" cy="1288.6"/><circle cx="751.1" cy="1265.7"/><circle cx="724.6" cy="1231.7"/><circle cx="729.0" cy="1248.9"/><circle cx="696.7" cy="1223.5"/><circle cx="712.2" cy="1264.2"/><circle cx="688.5" cy="1238.8"/><circle cx="740.5" cy="1241.1"/><circle cx="686.4" cy="1214.3"/><circle cx="742.9" cy="1229.3"/><circle cx="761.0" cy="1251.4"/><circle cx="713.5" cy="1239.7"/><circle cx="731.4" cy="1254.9"/><circle cx="730.8" cy="1265.4"/><circle cx="707.7" cy="1229.8"/><circle cx="662.2" cy="1237.9"/><circle cx="781.2" cy="1237.5"/><circle cx="730.4" cy="1246.3"/><circle cx="710.4" cy="1249.5"/><circle cx="779.3" cy="1261.4"/><circle cx="692.1" cy="1234.8"/><circle cx="701.1" cy="1248.3"/><circle cx="701.7" cy="1226.1"/><circle cx="684.1" cy="1230.7"/><circle cx="713.9" cy="1258.8"/><circle cx="708.4" cy="1218.8"/><circle cx="775.4" cy="1286.4"/><circle cx="701.0" cy="1233.0"/><circle cx="784.5" cy="1248.5"/><circle cx="688.5" cy="1235.6"/><circle cx="709.4" cy="1249.9"/><circle cx="729.1" cy="1244.9"/><circle cx="689.5" cy="1235.7"/><circle cx="750.3" cy="1265.2"/><circle cx="702.6" cy="1237.1"/><circle cx="699.3" cy="1236.9"/><circle cx="748.7" cy="1270.4"/><circle cx="692.1" cy="1244.2"/><circle cx="751.3" cy="1257.8"/><circle cx="780.1" cy="1240.7"/><circle cx="765.7" cy="1243.4"/><circle cx="784.7" cy="1266.7"/><circle cx="703.2" cy="1255.3"/><circle cx="772.8" cy="1275.8"/><circle cx="694.6" cy="1261.8"/><circle cx="658.3" cy="1224.3"/><circle cx="716.9" cy="1249.7"/><circle cx="805.6" cy="1277.0"/><circle cx="679.3" cy="1246.1"/><circle cx="804.8" cy="1259.8"/><circle cx="667.8" cy="1226.6"/><circle cx="762.9" cy="1261.0"/><circle cx="749.0" cy="1248.5"/><circle cx="702.6" cy="1251.9"/><circle cx="632.5" cy="1216.2"/><circle cx="750.2" cy="1264.2"/><circle cx="753.5" cy="1254.0"/><circle cx="754.5" cy="1235.9"/><circle cx="772.9" cy="1245.8"/><circle cx="709.3" cy="1198.0"/><circle cx="813.6" cy="1263.8"/><circle cx="760.2" cy="1267.0"/><circle cx="687.1" cy="1252.3"/><circle cx="819.5" cy="1270.1"/><circle cx="719.4" cy="1264.0"/><circle cx="733.0" cy="1280.8"/><circle cx="753.0" cy="1276.9"/><circle cx="681.6" cy="1255.0"/><circle cx="691.0" cy="1230.8"/><circle cx="722.7" cy="1237.4"/><circle cx="679.1" cy="1230.6"/><circle cx="712.1" cy="1256.7"/><circle cx="778.0" cy="1277.9"/><circle cx="679.9" cy="1229.7"/><circle cx="724.4" cy="1259.7"/><circle cx="708.8" cy="1225.2"/><circle cx="754.2" cy="1272.8"/><circle cx="691.5" cy="1199.4"/><circle cx="672.9" cy="1247.3"/><circle cx="709.9" cy="1263.2"/><circle cx="790.5" cy="1314.7"/><circle cx="692.4" cy="1217.6"/><circle cx="659.9" cy="1208.6"/><circle cx="691.1" cy="1214.9"/><circle cx="761.0" cy="1239.0"/><circle cx="774.6" cy="1230.7"/><circle cx="716.6" cy="1256.2"/><circle cx="735.1" cy="1247.8"/><circle cx="669.1" cy="1219.8"/><circle cx="750.2" cy="1228.6"/><circle cx="716.2" cy="1245.4"/><circle cx="686.1" cy="1263.0"/><circle cx="762.0" cy="1266.0"/><circle cx="759.8" cy="1276.2"/><circle cx="711.6" cy="1221.7"/><circle cx="725.5" cy="1265.0"/><circle cx="646.8" cy="1211.6"/><circle cx="680.4" cy="1229.1"/><circle cx="772.3" cy="1274.0"/><circle cx="679.6" cy="1222.7"/><circle cx="681.7" cy="1239.0"/><circle cx="767.8" cy="1264.2"/><circle cx="633.9" cy="1199.2"/><circle cx="701.7" cy="1218.8"/><circle cx="759.0" cy="1243.0"/><circle cx="699.2" cy="1249.8"/><circle cx="681.0" cy="1245.4"/><circle cx="681.4" cy="1226.0"/><circle cx="731.7" cy="1247.0"/><circle cx="688.2" cy="1221.3"/><circle cx="733.1" cy="1253.7"/><circle cx="707.6" cy="1262.5"/><circle cx="721.0" cy="1249.8"/><circle cx="769.9" cy="1258.3"/><circle cx="697.4" cy="1252.4"/><circle cx="680.5" cy="1240.0"/><circle cx="733.5" cy="1221.5"/><circle cx="736.1" cy="1244.5"/><circle cx="707.9" cy="1260.4"/><circle cx="653.3" cy="1222.0"/><circle cx="749.8" cy="1257.5"/><circle cx="651.2" cy="1221.5"/><circle cx="651.6" cy="1195.4"/><circle cx="767.5" cy="1247.1"/><circle cx="783.6" cy="1271.7"/><circle cx="711.2" cy="1243.4"/><circle cx="680.6" cy="1254.6"/><circle cx="778.8" cy="1269.7"/><circle cx="669.1" cy="1227.7"/><circle cx="712.9" cy="1267.9"/><circle cx="704.4" cy="1228.6"/><circle cx="749.0" cy="1253.8"/><circle cx="735.8" cy="1253.1"/><circle cx="691.5" cy="1237.2"/><circle cx="766.8" cy="1269.0"/><circle cx="749.1" cy="1270.0"/><circle cx="731.9" cy="1230.8"/><circle cx="720.8" cy="1223.8"/><circle cx="722.0" cy="1244.7"/><circle cx="684.7" cy="1202.5"/><circle cx="705.6" cy="1265.0"/><circle cx="719.6" cy="1231.8"/><circle cx="750.0" cy="1249.0"/><circle cx="713.0" cy="1251.8"/><circle cx="706.6" cy="1244.3"/><circle cx="731.3" cy="1259.3"/><circle cx="763.2" cy="1263.6"/><circle cx="755.6" cy="1238.8"/><circle cx="721.2" cy="1242.5"/><circle cx="711.9" cy="1230.0"/><circle cx="789.4" cy="1247.5"/><circle cx="727.7" cy="1242.9"/><circle cx="671.7" cy="1238.7"/><circle cx="739.5" cy="1237.6"/><circle cx="659.9" cy="1205.3"/><circle cx="709.2" cy="1226.8"/><circle cx="746.4" cy="1268.4"/><circle cx="731.6" cy="1215.4"/><circle cx="709.6" cy="1247.2"/><circle cx="754.0" cy="1260.9"/><circle cx="772.4" cy="1265.6"/><circle cx="693.3" cy="1216.6"/><circle cx="682.4" cy="1222.8"/><circle cx="685.7" cy="1260.5"/><circle cx="679.5" cy="1229.4"/><circle cx="746.9" cy="1249.1"/><circle cx="749.5" cy="1270.7"/><circle cx="729.2" cy="1227.1"/><circle cx="676.7" cy="1243.0"/><circle cx="663.6" cy="1216.8"/><circle cx="703.4" cy="1278.0"/><circle cx="680.4" cy="1263.0"/><circle cx="739.1" cy="1262.1"/><circle cx="672.2" cy="1229.7"/><circle cx="705.5" cy="1230.7"/><circle cx="705.6" cy="1247.0"/><circle cx="761.0" cy="1274.1"/><circle cx="764.2" cy="1240.8"/><circle cx="753.3" cy="1233.6"/><circle cx="730.0" cy="1257.1"/><circle cx="755.6" cy="1250.0"/><circle cx="653.2" cy="1216.5"/><circle cx="760.1" cy="1263.3"/><circle cx="714.6" cy="1243.8"/><circle cx="785.6" cy="1268.6"/><circle cx="757.6" cy="1270.4"/><circle cx="764.6" cy="1287.1"/><circle cx="689.1" cy="1256.6"/><circle cx="843.0" cy="1292.1"/><circle cx="748.7" cy="1258.1"/><circle cx="737.7" cy="1252.6"/><circle cx="713.5" cy="1215.6"/><circle cx="750.6" cy="1231.2"/><circle cx="644.6" cy="1207.5"/><circle cx="777.3" cy="1276.3"/><circle cx="742.0" cy="1265.7"/><circle cx="729.5" cy="1236.4"/><circle cx="777.5" cy="1279.3"/><circle cx="749.4" cy="1254.0"/><circle cx="748.6" cy="1248.3"/><circle cx="701.8" cy="1251.1"/><circle cx="751.7" cy="1228.9"/><circle cx="696.3" cy="1194.0"/><circle cx="672.0" cy="1253.4"/><circle cx="734.4" cy="1248.5"/><circle cx="699.2" cy="1246.5"/><circle cx="675.8" cy="1221.4"/><circle cx="725.0" cy="1233.5"/><circle cx="662.8" cy="1198.2"/><circle cx="800.8" cy="1248.9"/><circle cx="691.2" cy="1233.2"/><circle cx="699.3" cy="1216.2"/><circle cx="789.6" cy="1271.8"/><circle cx="667.3" cy="1223.9"/><circle cx="640.5" cy="1206.2"/><circle cx="726.8" cy="1247.2"/><circle cx="707.6" cy="1261.8"/><circle cx="765.8" cy="1267.8"/><circle cx="723.4" cy="1248.2"/><circle cx="664.5" cy="1215.2"/><circle cx="722.7" cy="1267.7"/><circle cx="709.2" cy="1259.1"/><circle cx="779.9" cy="1259.7"/><circle cx="736.8" cy="1256.6"/><circle cx="691.4" cy="1227.7"/><circle cx="703.0" cy="1227.9"/><circle cx="733.4" cy="1233.8"/><circle cx="699.7" cy="1263.5"/><circle cx="732.2" cy="1257.3"/><circle cx="750.9" cy="1221.5"/><circle cx="674.8" cy="1240.2"/><circle cx="725.5" cy="1274.6"/><circle cx="759.0" cy="1262.2"/><circle cx="680.5" cy="1224.4"/><circle cx="669.5" cy="1223.0"/><circle cx="751.7" cy="1272.5"/><circle cx="752.8" cy="1248.4"/><circle cx="762.0" cy="1268.3"/><circle cx="806.5" cy="1256.5"/><circle cx="715.9" cy="1260.5"/><circle cx="693.5" cy="1212.4"/><circle cx="739.0" cy="1245.1"/><circle cx="699.1" cy="1240.2"/><circle cx="736.8" cy="1267.0"/><circle cx="761.7" cy="1249.4"/><circle cx="736.3" cy="1238.7"/><circle cx="741.4" cy="1277.2"/><circle cx="732.6" cy="1237.8"/><circle cx="743.9" cy="1239.7"/><circle cx="686.1" cy="1219.1"/><circle cx="790.8" cy="1285.4"/><circle cx="697.3" cy="1244.1"/><circle cx="705.6" cy="1253.0"/><circle cx="697.3" cy="1239.6"/><circle cx="720.5" cy="1236.0"/><circle cx="708.0" cy="1244.8"/><circle cx="644.6" cy="1221.7"/><circle cx="796.4" cy="1257.6"/><circle cx="746.4" cy="1244.2"/><circle cx="716.8" cy="1240.8"/><circle cx="716.6" cy="1268.3"/><circle cx="770.2" cy="1259.9"/><circle cx="760.4" cy="1261.7"/><circle cx="739.2" cy="1252.0"/><circle cx="760.9" cy="1267.1"/><circle cx="621.8" cy="1209.7"/><circle cx="767.4" cy="1247.0"/><circle cx="735.6" cy="1202.6"/><circle cx="691.9" cy="1243.2"/><circle cx="698.9" cy="1198.6"/><circle cx="727.8" cy="1251.3"/><circle cx="655.3" cy="1220.9"/><circle cx="734.9" cy="1261.2"/><circle cx="701.9" cy="1217.5"/><circle cx="752.8" cy="1262.9"/><circle cx="651.9" cy="1223.7"/><circle cx="737.0" cy="1261.9"/><circle cx="700.3" cy="1254.7"/><circle cx="685.1" cy="1210.8"/><circle cx="777.6" cy="1259.8"/><circle cx="770.5" cy="1260.7"/><circle cx="688.3" cy="1228.0"/><circle cx="706.9" cy="1253.9"/><circle cx="777.5" cy="1282.2"/><circle cx="728.0" cy="1248.2"/><circle cx="689.0" cy="1258.1"/><circle cx="683.1" cy="1236.5"/><circle cx="700.8" cy="1215.2"/><circle cx="739.0" cy="1272.9"/><circle cx="768.6" cy="1243.0"/><circle cx="716.8" cy="1220.4"/><circle cx="685.1" cy="1220.4"/><circle cx="694.5" cy="1223.7"/><circle cx="652.5" cy="1210.9"/><circle cx="740.9" cy="1252.2"/><circle cx="727.0" cy="1232.7"/><circle cx="769.9" cy="1252.7"/><circle cx="807.8" cy="1292.9"/><circle cx="773.9" cy="1271.5"/><circle cx="707.5" cy="1233.3"/><circle cx="713.9" cy="1226.4"/><circle cx="669.8" cy="1220.7"/><circle cx="645.3" cy="1192.9"/><circle cx="804.3" cy="1258.6"/><circle cx="725.5" cy="1261.8"/><circle cx="656.0" cy="1225.6"/><circle cx="750.6" cy="1250.6"/><circle cx="627.3" cy="1228.0"/><circle cx="712.3" cy="1237.6"/><circle cx="720.6" cy="1253.9"/><circle cx="691.2" cy="1238.2"/><circle cx="698.2" cy="1235.2"/><circle cx="750.1" cy="1258.5"/><circle cx="689.2" cy="1254.7"/><circle cx="759.4" cy="1275.8"/><circle cx="659.4" cy="1185.3"/><circle cx="699.3" cy="1243.8"/><circle cx="801.1" cy="1242.8"/><circle cx="684.9" cy="1210.4"/><circle cx="676.3" cy="1231.2"/><circle cx="726.7" cy="1228.3"/><circle cx="693.2" cy="1252.0"/><circle cx="730.9" cy="1242.1"/><circle cx="755.3" cy="1268.9"/><circle cx="739.6" cy="1257.0"/><circle cx="722.4" cy="1257.7"/><circle cx="695.1" cy="1254.1"/><circle cx="736.5" cy="1226.6"/><circle cx="756.2" cy="1258.6"/><circle cx="682.5" cy="1230.1"/><circle cx="695.6" cy="1249.8"/><circle cx="670.7" cy="1230.6"/><circle cx="720.6" cy="1239.2"/><circle cx="734.0" cy="1227.1"/><circle cx="707.3" cy="1211.2"/><circle cx="681.0" cy="1210.9"/><circle cx="688.0" cy="1232.1"/><circle cx="744.9" cy="1257.1"/><circle cx="688.2" cy="1253.1"/><circle cx="751.4" cy="1262.3"/><circle cx="690.8" cy="1243.3"/><circle cx="698.2" cy="1210.7"/><circle cx="749.7" cy="1260.7"/><circle cx="691.4" cy="1222.3"/><circle cx="769.3" cy="1255.5"/><circle cx="624.5" cy="1221.5"/><circle cx="720.7" cy="1243.4"/><circle cx="699.5" cy="1232.8"/><circle cx="704.5" cy="1236.5"/><circle cx="739.3" cy="1229.5"/><circle cx="651.0" cy="1185.7"/><circle cx="793.9" cy="1307.7"/><circle cx="702.6" cy="1236.5"/><circle cx="819.3" cy="1287.4"/><circle cx="752.7" cy="1261.5"/><circle cx="732.3" cy="1241.2"/><circle cx="660.3" cy="1212.0"/><circle cx="795.6" cy="1262.6"/><circle cx="745.6" cy="1260.2"/><circle cx="770.3" cy="1263.1"/><circle cx="652.3" cy="1230.2"/><circle cx="640.6" cy="1233.7"/><circle cx="712.0" cy="1222.0"/><circle cx="738.3" cy="1262.7"/><circle cx="755.8" cy="1252.3"/><circle cx="757.1" cy="1295.6"/><circle cx="684.5" cy="1230.9"/><circle cx="660.8" cy="1233.1"/><circle cx="754.1" cy="1250.3"/><circle cx="672.8" cy="1243.2"/><circle cx="723.5" cy="1232.6"/><circle cx="811.9" cy="1263.5"/><circle cx="719.2" cy="1202.4"/><circle cx="737.0" cy="1249.8"/><circle cx="734.6" cy="1242.9"/><circle cx="720.7" cy="1246.4"/><circle cx="742.8" cy="1238.0"/><circle cx="742.3" cy="1252.4"/><circle cx="724.5" cy="1244.4"/><circle cx="790.0" cy="1256.0"/><circle cx="748.3" cy="1287.4"/><circle cx="667.7" cy="1256.5"/><circle cx="778.8" cy="1273.9"/><circle cx="724.4" cy="1254.2"/><circle cx="711.5" cy="1250.4"/><circle cx="686.4" cy="1240.3"/><circle cx="758.3" cy="1247.2"/><circle cx="718.8" cy="1247.6"/><circle cx="679.3" cy="1255.1"/><circle cx="689.4" cy="1227.0"/><circle cx="769.6" cy="1261.3"/><circle cx="714.7" cy="1226.0"/><circle cx="708.8" cy="1231.6"/><circle cx="837.1" cy="1259.6"/><circle cx="736.4" cy="1250.2"/><circle cx="742.2" cy="1271.4"/><circle cx="725.9" cy="1251.7"/><circle cx="720.5" cy="1246.7"/><circle cx="683.3" cy="1228.4"/><circle cx="750.8" cy="1258.5"/><circle cx="740.6" cy="1235.5"/><circle cx="701.4" cy="1204.2"/><circle cx="707.5" cy="1269.0"/><circle cx="790.3" cy="1283.6"/><circle cx="747.8" cy="1219.9"/><circle cx="715.2" cy="1268.5"/><circle cx="700.1" cy="1228.1"/><circle cx="693.9" cy="1248.4"/><circle cx="745.3" cy="1253.2"/><circle cx="761.4" cy="1251.6"/><circle cx="725.9" cy="1260.5"/><circle cx="761.7" cy="1256.7"/><circle cx="705.3" cy="1196.3"/><circle cx="703.3" cy="1245.7"/><circle cx="737.5" cy="1250.2"/><circle cx="769.6" cy="1264.8"/><circle cx="706.3" cy="1232.4"/><circle cx="758.4" cy="1267.9"/><circle cx="670.8" cy="1247.0"/><circle cx="761.0" cy="1278.8"/><circle cx="772.6" cy="1272.4"/><circle cx="709.8" cy="1240.9"/><circle cx="741.6" cy="1241.2"/><circle cx="741.9" cy="1283.3"/><circle cx="708.5" cy="1206.4"/><circle cx="713.6" cy="1224.4"/><circle cx="707.2" cy="1235.4"/><circle cx="744.4" cy="1257.0"/><circle cx="758.4" cy="1265.5"/><circle cx="689.9" cy="1223.7"/><circle cx="682.9" cy="1259.0"/><circle cx="741.6" cy="1274.3"/><circle cx="710.1" cy="1208.2"/><circle cx="722.0" cy="1228.9"/><circle cx="764.8" cy="1241.1"/><circle cx="717.2" cy="1266.4"/><circle cx="768.4" cy="1258.2"/><circle cx="737.6" cy="1225.8"/><circle cx="721.4" cy="1239.7"/><circle cx="703.1" cy="1214.6"/><circle cx="635.5" cy="1207.1"/><circle cx="704.4" cy="1248.6"/><circle cx="658.7" cy="1197.5"/><circle cx="754.3" cy="1263.1"/><circle cx="752.4" cy="1263.7"/><circle cx="746.6" cy="1243.9"/><circle cx="765.9" cy="1272.7"/><circle cx="812.3" cy="1274.2"/><circle cx="650.9" cy="1224.3"/><circle cx="719.6" cy="1241.7"/><circle cx="759.3" cy="1254.2"/><circle cx="706.0" cy="1261.5"/><circle cx="713.4" cy="1257.7"/><circle cx="769.4" cy="1261.1"/><circle cx="764.4" cy="1211.2"/><circle cx="667.7" cy="1225.3"/><circle cx="785.2" cy="1264.7"/><circle cx="689.4" cy="1237.0"/><circle cx="733.2" cy="1249.8"/><circle cx="748.9" cy="1251.8"/><circle cx="659.9" cy="1211.1"/><circle cx="783.5" cy="1295.5"/><circle cx="741.7" cy="1278.4"/><circle cx="731.8" cy="1270.7"/><circle cx="762.9" cy="1243.7"/><circle cx="717.7" cy="1236.2"/><circle cx="751.4" cy="1260.3"/><circle cx="762.5" cy="1229.7"/><circle cx="631.0" cy="1221.3"/><circle cx="683.9" cy="1208.6"/><circle cx="756.0" cy="1275.6"/><circle cx="686.7" cy="1218.8"/><circle cx="743.9" cy="1260.2"/><circle cx="728.6" cy="1217.5"/><circle cx="769.3" cy="1222.2"/><circle cx="659.1" cy="1202.6"/><circle cx="738.4" cy="1227.3"/><circle cx="733.6" cy="1226.0"/><circle cx="739.2" cy="1242.4"/><circle cx="732.7" cy="1252.2"/><circle cx="723.1" cy="1256.7"/><circle cx="745.7" cy="1237.3"/><circle cx="753.7" cy="1231.4"/><circle cx="703.5" cy="1232.1"/><circle cx="789.1" cy="1253.6"/><circle cx="733.6" cy="1226.4"/><circle cx="704.2" cy="1226.0"/><circle cx="744.9" cy="1270.5"/><circle cx="666.1" cy="1221.3"/><circle cx="780.9" cy="1232.4"/><circle cx="699.2" cy="1264.2"/><circle cx="735.8" cy="1225.0"/><circle cx="725.2" cy="1245.4"/><circle cx="748.6" cy="1239.7"/><circle cx="692.9" cy="1244.7"/><circle cx="703.1" cy="1240.0"/><circle cx="730.5" cy="1265.4"/><circle cx="697.8" cy="1234.7"/><circle cx="722.4" cy="1239.2"/><circle cx="710.0" cy="1256.7"/><circle cx="720.6" cy="1208.7"/><circle cx="702.9" cy="1211.5"/><circle cx="698.6" cy="1206.7"/><circle cx="706.7" cy="1231.8"/><circle cx="677.3" cy="1213.4"/><circle cx="682.5" cy="1209.6"/><circle cx="824.1" cy="1299.2"/><circle cx="720.3" cy="1249.8"/><circle cx="761.9" cy="1251.3"/><circle cx="743.0" cy="1227.2"/><circle cx="738.1" cy="1285.1"/><circle cx="726.0" cy="1249.2"/><circle cx="766.0" cy="1251.8"/><circle cx="730.2" cy="1248.4"/><circle cx="732.3" cy="1252.6"/><circle cx="679.5" cy="1212.5"/><circle cx="832.8" cy="1300.8"/><circle cx="805.0" cy="1299.3"/><circle cx="783.0" cy="1285.7"/><circle cx="857.2" cy="1287.2"/><circle cx="792.5" cy="1270.5"/><circle cx="861.6" cy="1295.8"/><circle cx="810.2" cy="1291.8"/><circle cx="806.9" cy="1259.0"/><circle cx="866.8" cy="1273.2"/><circle cx="794.7" cy="1274.6"/><circle cx="834.2" cy="1282.0"/><circle cx="864.6" cy="1296.4"/><circle cx="796.4" cy="1271.8"/><circle cx="792.7" cy="1256.1"/><circle cx="839.1" cy="1294.4"/><circle cx="855.8" cy="1280.0"/><circle cx="733.3" cy="1224.7"/><circle cx="826.5" cy="1296.8"/><circle cx="856.1" cy="1294.8"/><circle cx="781.8" cy="1287.3"/><circle cx="847.3" cy="1301.6"/><circle cx="802.9" cy="1264.0"/><circle cx="789.3" cy="1260.8"/><circle cx="805.4" cy="1259.4"/><circle cx="839.4" cy="1292.7"/><circle cx="793.1" cy="1281.7"/><circle cx="789.7" cy="1270.5"/><circle cx="810.7" cy="1283.8"/><circle cx="848.2" cy="1279.6"/><circle cx="724.0" cy="1263.5"/><circle cx="849.2" cy="1307.5"/><circle cx="858.8" cy="1319.0"/><circle cx="777.6" cy="1245.0"/><circle cx="809.0" cy="1275.5"/><circle cx="832.6" cy="1276.3"/><circle cx="804.1" cy="1304.9"/><circle cx="884.0" cy="1309.1"/><circle cx="800.9" cy="1315.7"/><circle cx="785.8" cy="1276.8"/><circle cx="798.6" cy="1264.3"/><circle cx="815.2" cy="1303.9"/><circle cx="769.9" cy="1292.6"/><circle cx="788.0" cy="1266.9"/><circle cx="793.8" cy="1262.2"/><circle cx="875.7" cy="1308.0"/><circle cx="842.7" cy="1273.3"/><circle cx="772.4" cy="1244.2"/><circle cx="844.1" cy="1256.5"/><circle cx="711.8" cy="1225.6"/><circle cx="819.3" cy="1260.8"/><circle cx="833.8" cy="1293.0"/><circle cx="822.9" cy="1290.3"/><circle cx="825.7" cy="1304.7"/><circle cx="818.2" cy="1287.7"/><circle cx="787.5" cy="1265.5"/><circle cx="795.6" cy="1295.8"/><circle cx="807.2" cy="1265.8"/><circle cx="769.6" cy="1223.8"/><circle cx="823.9" cy="1261.5"/><circle cx="777.4" cy="1257.3"/><circle cx="833.8" cy="1299.7"/><circle cx="893.7" cy="1334.5"/><circle cx="902.1" cy="1302.6"/><circle cx="907.7" cy="1341.9"/><circle cx="795.6" cy="1279.8"/><circle cx="792.7" cy="1283.0"/><circle cx="845.6" cy="1277.4"/><circle cx="780.8" cy="1262.3"/><circle cx="852.7" cy="1260.6"/><circle cx="791.9" cy="1272.9"/><circle cx="829.2" cy="1281.3"/><circle cx="794.4" cy="1284.9"/><circle cx="867.8" cy="1324.9"/><circle cx="864.9" cy="1287.8"/><circle cx="839.8" cy="1308.8"/><circle cx="759.8" cy="1276.2"/><circle cx="863.3" cy="1298.4"/><circle cx="786.7" cy="1302.4"/><circle cx="767.9" cy="1247.1"/><circle cx="836.2" cy="1266.0"/><circle cx="855.2" cy="1300.2"/><circle cx="746.1" cy="1281.8"/><circle cx="841.5" cy="1303.2"/><circle cx="817.6" cy="1252.5"/><circle cx="811.0" cy="1271.1"/><circle cx="826.2" cy="1308.8"/><circle cx="807.1" cy="1265.7"/><circle cx="790.4" cy="1268.4"/><circle cx="863.8" cy="1285.7"/><circle cx="707.2" cy="1269.0"/><circle cx="842.6" cy="1324.6"/><circle cx="774.1" cy="1241.2"/><circle cx="874.0" cy="1276.6"/><circle cx="766.0" cy="1270.4"/><circle cx="865.3" cy="1312.5"/><circle cx="748.8" cy="1253.1"/><circle cx="883.7" cy="1315.2"/><circle cx="823.3" cy="1281.1"/><circle cx="801.5" cy="1293.0"/><circle cx="797.9" cy="1290.5"/><circle cx="846.7" cy="1319.8"/><circle cx="803.2" cy="1293.3"/><circle cx="843.2" cy="1285.6"/><circle cx="824.7" cy="1279.6"/><circle cx="775.5" cy="1260.5"/><circle cx="880.2" cy="1313.9"/><circle cx="814.2" cy="1270.4"/><circle cx="832.9" cy="1276.1"/><circle cx="827.8" cy="1284.1"/><circle cx="819.9" cy="1277.0"/><circle cx="882.5" cy="1310.5"/><circle cx="820.4" cy="1313.6"/><circle cx="797.0" cy="1298.2"/><circle cx="822.4" cy="1277.2"/><circle cx="803.4" cy="1279.3"/><circle cx="775.0" cy="1259.7"/><circle cx="864.7" cy="1289.6"/><circle cx="775.2" cy="1274.2"/><circle cx="876.2" cy="1274.8"/><circle cx="818.6" cy="1287.2"/><circle cx="850.2" cy="1291.9"/><circle cx="823.9" cy="1263.4"/><circle cx="801.8" cy="1283.9"/><circle cx="898.9" cy="1335.7"/><circle cx="800.5" cy="1279.1"/><circle cx="778.0" cy="1272.1"/><circle cx="839.3" cy="1275.9"/><circle cx="867.5" cy="1312.1"/><circle cx="757.8" cy="1281.7"/><circle cx="803.6" cy="1255.8"/><circle cx="835.2" cy="1329.1"/><circle cx="864.6" cy="1271.4"/><circle cx="832.7" cy="1304.6"/><circle cx="804.7" cy="1265.5"/><circle cx="823.8" cy="1288.5"/><circle cx="790.4" cy="1269.5"/><circle cx="834.5" cy="1289.7"/><circle cx="810.6" cy="1296.7"/><circle cx="829.7" cy="1282.2"/><circle cx="807.4" cy="1281.1"/><circle cx="836.2" cy="1311.1"/><circle cx="819.8" cy="1280.6"/><circle cx="802.3" cy="1237.1"/><circle cx="874.6" cy="1297.7"/><circle cx="829.5" cy="1277.1"/><circle cx="812.0" cy="1263.6"/><circle cx="806.0" cy="1288.1"/><circle cx="872.9" cy="1308.2"/><circle cx="825.0" cy="1271.3"/><circle cx="831.6" cy="1278.1"/><circle cx="794.7" cy="1246.2"/><circle cx="806.5" cy="1267.5"/><circle cx="781.2" cy="1299.4"/><circle cx="794.6" cy="1241.3"/><circle cx="762.5" cy="1291.4"/><circle cx="802.5" cy="1274.3"/><circle cx="767.0" cy="1255.7"/><circle cx="842.2" cy="1282.8"/><circle cx="851.9" cy="1275.1"/><circle cx="775.9" cy="1274.5"/><circle cx="831.4" cy="1282.3"/><circle cx="790.9" cy="1258.1"/><circle cx="825.5" cy="1284.2"/><circle cx="819.1" cy="1310.0"/><circle cx="752.0" cy="1244.2"/><circle cx="719.9" cy="1235.4"/><circle cx="821.0" cy="1307.3"/><circle cx="836.8" cy="1272.0"/><circle cx="804.6" cy="1291.2"/><circle cx="774.0" cy="1305.9"/><circle cx="783.7" cy="1266.5"/><circle cx="723.6" cy="1210.4"/><circle cx="856.8" cy="1316.3"/><circle cx="726.7" cy="1235.7"/><circle cx="809.1" cy="1301.8"/><circle cx="797.5" cy="1282.3"/><circle cx="818.6" cy="1287.5"/><circle cx="767.8" cy="1244.2"/><circle cx="768.9" cy="1281.5"/><circle cx="822.0" cy="1292.4"/><circle cx="762.6" cy="1265.9"/><circle cx="807.9" cy="1286.5"/><circle cx="754.9" cy="1262.8"/><circle cx="812.7" cy="1284.4"/><circle cx="825.8" cy="1285.1"/><circle cx="819.3" cy="1254.3"/><circle cx="831.4" cy="1278.8"/><circle cx="765.7" cy="1253.5"/><circle cx="779.5" cy="1285.7"/><circle cx="786.4" cy="1288.2"/><circle cx="866.5" cy="1287.5"/><circle cx="788.3" cy="1261.1"/><circle cx="810.6" cy="1269.1"/><circle cx="849.2" cy="1302.9"/><circle cx="811.3" cy="1285.5"/><circle cx="835.7" cy="1302.2"/><circle cx="770.2" cy="1250.5"/><circle cx="844.8" cy="1289.5"/><circle cx="791.5" cy="1309.0"/><circle cx="831.7" cy="1269.6"/><circle cx="821.3" cy="1311.5"/><circle cx="727.7" cy="1257.7"/><circle cx="840.8" cy="1311.2"/><circle cx="787.8" cy="1273.0"/><circle cx="847.6" cy="1297.6"/><circle cx="788.8" cy="1285.3"/><circle cx="813.1" cy="1279.6"/><circle cx="745.9" cy="1251.6"/><circle cx="762.3" cy="1254.9"/><circle cx="840.3" cy="1301.8"/><circle cx="773.0" cy="1263.0"/><circle cx="815.3" cy="1277.9"/><circle cx="797.2" cy="1286.0"/><circle cx="759.8" cy="1262.2"/><circle cx="803.8" cy="1255.2"/><circle cx="798.2" cy="1274.8"/><circle cx="817.0" cy="1308.9"/><circle cx="785.6" cy="1277.5"/><circle cx="770.5" cy="1290.7"/><circle cx="867.4" cy="1276.6"/><circle cx="855.4" cy="1308.0"/><circle cx="819.9" cy="1250.7"/><circle cx="762.5" cy="1270.6"/><circle cx="824.3" cy="1275.6"/><circle cx="786.5" cy="1267.4"/><circle cx="855.0" cy="1308.7"/><circle cx="809.2" cy="1265.4"/><circle cx="785.3" cy="1257.2"/><circle cx="795.8" cy="1267.4"/><circle cx="764.7" cy="1273.6"/><circle cx="793.5" cy="1297.3"/><circle cx="761.8" cy="1245.4"/><circle cx="818.9" cy="1268.0"/><circle cx="835.6" cy="1292.7"/><circle cx="830.9" cy="1268.2"/><circle cx="779.3" cy="1242.2"/><circle cx="815.9" cy="1291.9"/><circle cx="792.8" cy="1263.3"/><circle cx="740.5" cy="1276.7"/><circle cx="806.8" cy="1262.4"/><circle cx="826.7" cy="1314.0"/><circle cx="804.1" cy="1299.2"/><circle cx="793.3" cy="1267.1"/><circle cx="778.2" cy="1269.7"/><circle cx="819.4" cy="1236.8"/><circle cx="819.2" cy="1288.9"/><circle cx="809.6" cy="1281.1"/><circle cx="852.6" cy="1284.8"/><circle cx="825.0" cy="1311.0"/><circle cx="856.6" cy="1258.7"/><circle cx="788.7" cy="1283.2"/><circle cx="820.5" cy="1285.9"/><circle cx="804.4" cy="1281.3"/><circle cx="829.2" cy="1262.1"/><circle cx="811.8" cy="1292.3"/><circle cx="899.7" cy="1310.8"/><circle cx="761.7" cy="1261.5"/><circle cx="813.4" cy="1297.9"/><circle cx="793.3" cy="1257.5"/><circle cx="839.6" cy="1243.1"/><circle cx="813.3" cy="1287.7"/><circle cx="861.5" cy="1307.3"/><circle cx="802.4" cy="1272.6"/><circle cx="785.2" cy="1257.9"/><circle cx="824.5" cy="1270.5"/><circle cx="815.9" cy="1285.4"/><circle cx="723.2" cy="1252.5"/><circle cx="879.2" cy="1303.7"/><circle cx="764.1" cy="1283.5"/><circle cx="865.1" cy="1301.6"/><circle cx="848.0" cy="1309.8"/><circle cx="858.9" cy="1300.3"/><circle cx="814.4" cy="1283.5"/><circle cx="770.1" cy="1281.5"/><circle cx="774.6" cy="1278.2"/><circle cx="845.3" cy="1319.2"/><circle cx="782.3" cy="1290.1"/><circle cx="821.7" cy="1288.6"/><circle cx="788.7" cy="1286.6"/><circle cx="782.7" cy="1279.6"/><circle cx="839.2" cy="1304.5"/><circle cx="767.5" cy="1278.4"/><circle cx="799.0" cy="1280.0"/><circle cx="795.5" cy="1279.5"/><circle cx="809.2" cy="1292.0"/><circle cx="809.5" cy="1266.3"/><circle cx="763.7" cy="1277.5"/><circle cx="785.3" cy="1289.8"/><circle cx="808.6" cy="1246.3"/><circle cx="875.2" cy="1325.4"/><circle cx="840.9" cy="1284.3"/><circle cx="809.1" cy="1268.1"/><circle cx="809.5" cy="1294.3"/><circle cx="803.3" cy="1263.7"/><circle cx="867.4" cy="1312.3"/><circle cx="805.2" cy="1268.9"/><circle cx="779.7" cy="1247.4"/><circle cx="944.6" cy="1374.2"/><circle cx="783.4" cy="1256.9"/><circle cx="794.0" cy="1253.9"/><circle cx="773.7" cy="1259.7"/><circle cx="811.1" cy="1314.8"/><circle cx="792.9" cy="1246.0"/><circle cx="771.2" cy="1285.0"/><circle cx="849.0" cy="1286.6"/><circle cx="859.7" cy="1308.3"/><circle cx="819.9" cy="1285.5"/><circle cx="761.6" cy="1279.2"/><circle cx="831.2" cy="1278.2"/><circle cx="772.1" cy="1298.8"/><circle cx="821.3" cy="1280.4"/><circle cx="828.1" cy="1265.4"/><circle cx="763.0" cy="1264.9"/><circle cx="835.2" cy="1308.0"/><circle cx="803.4" cy="1291.7"/><circle cx="799.5" cy="1294.8"/><circle cx="769.5" cy="1260.8"/><circle cx="833.1" cy="1318.6"/><circle cx="776.2" cy="1282.9"/><circle cx="817.4" cy="1269.6"/><circle cx="772.7" cy="1259.0"/><circle cx="766.3" cy="1250.4"/><circle cx="763.2" cy="1257.0"/><circle cx="744.9" cy="1257.8"/><circle cx="795.2" cy="1268.2"/><circle cx="857.4" cy="1301.0"/><circle cx="842.0" cy="1310.4"/><circle cx="769.1" cy="1279.8"/><circle cx="767.8" cy="1290.0"/><circle cx="884.7" cy="1260.4"/><circle cx="840.1" cy="1285.0"/><circle cx="812.0" cy="1271.3"/><circle cx="796.3" cy="1267.3"/><circle cx="797.9" cy="1261.7"/><circle cx="725.8" cy="1229.0"/><circle cx="778.3" cy="1281.8"/><circle cx="875.6" cy="1335.2"/><circle cx="872.7" cy="1291.6"/><circle cx="791.4" cy="1287.9"/><circle cx="850.4" cy="1262.1"/><circle cx="824.9" cy="1299.2"/><circle cx="774.0" cy="1296.9"/><circle cx="766.9" cy="1280.7"/><circle cx="790.2" cy="1259.5"/><circle cx="818.7" cy="1271.4"/><circle cx="857.2" cy="1298.5"/><circle cx="807.0" cy="1304.5"/><circle cx="804.4" cy="1286.8"/><circle cx="795.6" cy="1280.2"/><circle cx="849.7" cy="1309.7"/><circle cx="874.9" cy="1292.6"/><circle cx="830.1" cy="1253.1"/><circle cx="802.0" cy="1268.7"/><circle cx="821.6" cy="1279.0"/><circle cx="860.8" cy="1316.8"/><circle cx="849.3" cy="1330.6"/><circle cx="910.0" cy="1374.8"/><circle cx="840.5" cy="1322.1"/><circle cx="841.8" cy="1311.3"/><circle cx="883.1" cy="1330.7"/><circle cx="861.4" cy="1301.0"/><circle cx="901.4" cy="1319.4"/><circle cx="900.8" cy="1318.9"/><circle cx="870.6" cy="1328.4"/><circle cx="871.6" cy="1321.2"/><circle cx="823.1" cy="1298.2"/><circle cx="871.4" cy="1356.4"/><circle cx="859.4" cy="1317.7"/><circle cx="864.5" cy="1331.8"/><circle cx="874.0" cy="1330.3"/><circle cx="858.1" cy="1317.9"/><circle cx="832.2" cy="1314.0"/><circle cx="851.7" cy="1293.2"/><circle cx="833.3" cy="1308.8"/><circle cx="870.4" cy="1336.9"/><circle cx="846.4" cy="1336.4"/><circle cx="857.7" cy="1314.2"/><circle cx="838.0" cy="1329.4"/><circle cx="848.3" cy="1325.2"/><circle cx="832.0" cy="1301.6"/><circle cx="865.4" cy="1297.7"/><circle cx="830.1" cy="1310.5"/><circle cx="863.9" cy="1310.7"/><circle cx="843.6" cy="1328.2"/><circle cx="862.4" cy="1324.8"/><circle cx="885.3" cy="1307.6"/><circle cx="867.0" cy="1314.6"/><circle cx="856.3" cy="1322.2"/><circle cx="866.8" cy="1339.5"/><circle cx="855.8" cy="1280.3"/><circle cx="851.5" cy="1322.0"/><circle cx="870.4" cy="1303.9"/><circle cx="826.0" cy="1301.0"/><circle cx="845.1" cy="1299.6"/><circle cx="895.0" cy="1345.6"/><circle cx="858.4" cy="1322.3"/><circle cx="850.7" cy="1339.6"/><circle cx="861.5" cy="1337.1"/><circle cx="855.3" cy="1305.9"/><circle cx="857.2" cy="1285.4"/><circle cx="850.3" cy="1310.6"/><circle cx="880.6" cy="1318.5"/><circle cx="889.8" cy="1331.7"/><circle cx="847.3" cy="1302.5"/><circle cx="856.2" cy="1307.2"/><circle cx="861.5" cy="1329.4"/><circle cx="830.0" cy="1309.4"/><circle cx="860.6" cy="1308.4"/><circle cx="876.3" cy="1330.5"/><circle cx="884.5" cy="1315.2"/><circle cx="907.6" cy="1337.6"/><circle cx="844.4" cy="1325.3"/><circle cx="858.8" cy="1310.5"/><circle cx="881.9" cy="1307.5"/><circle cx="862.4" cy="1321.0"/><circle cx="882.9" cy="1321.5"/><circle cx="848.1" cy="1338.4"/><circle cx="820.3" cy="1300.1"/><circle cx="842.1" cy="1301.4"/><circle cx="826.2" cy="1287.0"/><circle cx="870.8" cy="1289.7"/><circle cx="887.6" cy="1316.7"/><circle cx="868.1" cy="1321.5"/><circle cx="850.5" cy="1300.4"/><circle cx="810.7" cy="1304.7"/><circle cx="851.1" cy="1326.8"/><circle cx="837.8" cy="1318.4"/><circle cx="845.0" cy="1302.0"/><circle cx="859.7" cy="1306.0"/><circle cx="901.8" cy="1346.4"/><circle cx="849.3" cy="1303.8"/><circle cx="842.4" cy="1301.4"/><circle cx="826.8" cy="1296.1"/><circle cx="868.1" cy="1340.0"/><circle cx="843.8" cy="1284.0"/><circle cx="808.6" cy="1312.8"/><circle cx="839.5" cy="1322.0"/><circle cx="852.6" cy="1337.2"/><circle cx="825.1" cy="1310.1"/><circle cx="841.5" cy="1342.3"/><circle cx="814.4" cy="1310.1"/><circle cx="884.7" cy="1315.1"/><circle cx="835.3" cy="1287.1"/><circle cx="852.1" cy="1314.9"/><circle cx="830.7" cy="1312.3"/><circle cx="840.2" cy="1314.0"/><circle cx="855.4" cy="1330.1"/><circle cx="835.2" cy="1323.9"/><circle cx="637.7" cy="1203.7"/><circle cx="676.2" cy="1208.7"/><circle cx="670.0" cy="1226.6"/><circle cx="677.7" cy="1233.1"/><circle cx="659.9" cy="1218.0"/><circle cx="686.9" cy="1234.0"/><circle cx="672.1" cy="1224.1"/><circle cx="686.1" cy="1243.7"/><circle cx="662.5" cy="1218.6"/><circle cx="669.7" cy="1221.9"/><circle cx="655.7" cy="1205.6"/><circle cx="657.8" cy="1217.3"/><circle cx="668.1" cy="1217.6"/><circle cx="664.8" cy="1215.6"/><circle cx="671.6" cy="1237.2"/><circle cx="675.6" cy="1231.6"/><circle cx="668.3" cy="1231.4"/><circle cx="670.7" cy="1225.5"/><circle cx="657.8" cy="1209.0"/><circle cx="664.9" cy="1220.8"/><circle cx="664.9" cy="1230.4"/><circle cx="663.1" cy="1211.7"/><circle cx="683.0" cy="1225.2"/><circle cx="679.5" cy="1225.5"/><circle cx="656.1" cy="1227.3"/><circle cx="664.3" cy="1220.7"/><circle cx="667.8" cy="1228.7"/><circle cx="670.3" cy="1228.7"/><circle cx="693.7" cy="1228.2"/><circle cx="667.2" cy="1223.5"/><circle cx="665.6" cy="1208.8"/><circle cx="677.4" cy="1220.4"/><circle cx="678.3" cy="1230.8"/><circle cx="687.1" cy="1232.6"/><circle cx="655.0" cy="1220.9"/><circle cx="666.4" cy="1221.9"/><circle cx="670.9" cy="1231.2"/><circle cx="670.9" cy="1229.3"/><circle cx="647.3" cy="1215.7"/><circle cx="680.9" cy="1211.4"/><circle cx="682.2" cy="1256.6"/><circle cx="672.2" cy="1246.1"/><circle cx="670.4" cy="1215.4"/><circle cx="650.2" cy="1230.9"/><circle cx="656.2" cy="1216.0"/><circle cx="665.8" cy="1233.4"/><circle cx="661.4" cy="1212.0"/><circle cx="606.2" cy="1253.7"/><circle cx="632.0" cy="1240.5"/><circle cx="642.9" cy="1234.0"/><circle cx="645.2" cy="1244.9"/><circle cx="661.0" cy="1257.7"/><circle cx="669.9" cy="1175.9"/><circle cx="693.0" cy="1196.0"/><circle cx="647.2" cy="1199.9"/><circle cx="640.9" cy="1204.1"/><circle cx="641.7" cy="1207.0"/><circle cx="680.7" cy="1309.0"/><circle cx="688.2" cy="1278.4"/><circle cx="688.6" cy="1279.4"/><circle cx="698.5" cy="1290.2"/><circle cx="702.4" cy="1293.2"/><circle cx="702.4" cy="1273.5"/><circle cx="739.9" cy="1293.8"/><circle cx="765.5" cy="1204.1"/><circle cx="792.2" cy="1205.8"/><circle cx="808.5" cy="1207.4"/><circle cx="808.5" cy="1213.3"/><circle cx="830.6" cy="1211.3"/><circle cx="869.1" cy="1216.3"/><circle cx="857.8" cy="1236.6"/><circle cx="884.8" cy="1240.9"/><circle cx="906.9" cy="1253.4"/><circle cx="902.6" cy="1262.6"/><circle cx="892.7" cy="1261.6"/><circle cx="901.6" cy="1269.5"/><circle cx="931.2" cy="1263.6"/><circle cx="936.1" cy="1275.8"/><circle cx="958.8" cy="1282.3"/><circle cx="914.4" cy="1284.7"/><circle cx="935.1" cy="1301.7"/><circle cx="901.6" cy="1302.1"/><circle cx="902.6" cy="1292.8"/><circle cx="895.7" cy="1326.3"/><circle cx="903.2" cy="1346.4"/><circle cx="878.9" cy="1350.4"/><circle cx="880.9" cy="1340.1"/><circle cx="822.7" cy="1369.1"/><circle cx="770.5" cy="1339.5"/><circle cx="778.0" cy="1344.1"/><circle cx="788.2" cy="1344.5"/><circle cx="798.1" cy="1340.5"/><circle cx="814.8" cy="1344.1"/><circle cx="822.3" cy="1345.8"/><circle cx="831.6" cy="1339.1"/><circle cx="838.5" cy="1348.0"/><circle cx="783.3" cy="1330.7"/><circle cx="784.3" cy="1322.8"/><circle cx="748.8" cy="1308.4"/><circle cx="755.7" cy="1309.6"/><circle cx="761.6" cy="1309.0"/><circle cx="769.5" cy="1309.0"/><circle cx="775.4" cy="1313.9"/></g><rect class="bx" x="592.6" y="1095.5" width="379.6" height="320.5"/><line class="rl" x1="592.6" y1="1199.3" x2="972.2" y2="1333.4"/><text class="l" x="1022.4" y="1060.3">(k)</text><text class="t" x="1288.9" y="1036.9">Pearson-Correlation:0.8051</text><text class="t" x="1288.9" y="1061.2">P-value:9.887e-86</text><text class="t" x="1288.9" y="1085.5">Sample Size:(N=371)</text><text class="k" x="1165.5" y="1452.7">9</text><text class="k" x="1237.8" y="1452.7">10</text><text class="k" x="1310" y="1452.7">11</text><text class="k" x="1382.3" y="1452.7">12</text><text class="k" x="1454.6" y="1452.7">13</text><text class="k" transform="translate(1076.4 1403.5) rotate(-90)">4</text><text class="k" transform="translate(1076.4 1345.3) rotate(-90)">6</text><text class="k" transform="translate(1076.4 1287.1) rotate(-90)">8</text><text class="k" transform="translate(1076.4 1228.8) rotate(-90)">10</text><text class="k" transform="translate(1076.4 1170.6) rotate(-90)">12</text><text class="k" transform="translate(1076.4 1112.4) rotate(-90)">14</text><path class="tk" d="M1165.5 1415.7v9.8M1237.8 1415.7v9.8M1310 1415.7v9.8M1382.3 1415.7v9.8M1454.6 1415.7v9.8M1099.1 1403.5h-9.8M1099.1 1345.3h-9.8M1099.1 1287.1h-9.8M1099.1 1228.8h-9.8M1099.1 1170.6h-9.8M1099.1 1112.4h-9.8"/><text class="a" x="1288.9" y="1492.7">KPNA2</text><text class="a" transform="translate(1035.8 1255.6) rotate(-90)">CCNB1</text><g class="c"><circle cx="1284.7" cy="1239.4"/><circle cx="1282.3" cy="1288.1"/><circle cx="1336.1" cy="1243.8"/><circle cx="1334.6" cy="1221.0"/><circle cx="1291.2" cy="1234.0"/><circle cx="1167.6" cy="1291.1"/><circle cx="1298.9" cy="1253.8"/><circle cx="1245.8" cy="1291.8"/><circle cx="1385.6" cy="1238.1"/><circle cx="1282.9" cy="1293.7"/><circle cx="1196.5" cy="1328.4"/><circle cx="1275.4" cy="1235.7"/><circle cx="1223.4" cy="1281.6"/><circle cx="1322.0" cy="1252.2"/><circle cx="1229.9" cy="1285.0"/><circle cx="1315.5" cy="1247.1"/><circle cx="1208.5" cy="1292.6"/><circle cx="1352.9" cy="1225.0"/><circle cx="1300.3" cy="1273.7"/><circle cx="1334.5" cy="1245.4"/><circle cx="1270.1" cy="1239.4"/><circle cx="1392.1" cy="1194.7"/><circle cx="1272.9" cy="1243.7"/><circle cx="1312.1" cy="1212.9"/><circle cx="1295.9" cy="1275.3"/><circle cx="1354.0" cy="1223.8"/><circle cx="1241.1" cy="1334.8"/><circle cx="1219.1" cy="1310.1"/><circle cx="1322.9" cy="1251.7"/><circle cx="1250.6" cy="1269.0"/><circle cx="1235.8" cy="1272.4"/><circle cx="1321.7" cy="1257.8"/><circle cx="1286.2" cy="1250.3"/><circle cx="1179.9" cy="1349.5"/><circle cx="1304.7" cy="1271.3"/><circle cx="1271.7" cy="1288.8"/><circle cx="1239.0" cy="1290.1"/><circle cx="1320.5" cy="1223.9"/><circle cx="1329.9" cy="1263.0"/><circle cx="1355.4" cy="1212.7"/><circle cx="1263.9" cy="1273.2"/><circle cx="1250.2" cy="1296.9"/><circle cx="1417.1" cy="1184.5"/><circle cx="1330.0" cy="1229.2"/><circle cx="1315.0" cy="1218.6"/><circle cx="1255.0" cy="1300.5"/><circle cx="1282.4" cy="1299.3"/><circle cx="1322.8" cy="1224.7"/><circle cx="1149.2" cy="1358.8"/><circle cx="1240.6" cy="1326.3"/><circle cx="1319.3" cy="1281.4"/><circle cx="1202.4" cy="1328.7"/><circle cx="1319.1" cy="1231.5"/><circle cx="1264.9" cy="1244.0"/><circle cx="1195.9" cy="1296.6"/><circle cx="1291.5" cy="1270.6"/><circle cx="1301.4" cy="1284.3"/><circle cx="1294.5" cy="1286.1"/><circle cx="1316.3" cy="1245.1"/><circle cx="1211.6" cy="1312.4"/><circle cx="1256.7" cy="1270.7"/><circle cx="1297.2" cy="1220.7"/><circle cx="1294.7" cy="1245.6"/><circle cx="1307.9" cy="1274.3"/><circle cx="1437.8" cy="1199.6"/><circle cx="1267.3" cy="1276.4"/><circle cx="1257.8" cy="1279.7"/><circle cx="1339.8" cy="1283.9"/><circle cx="1281.3" cy="1276.4"/><circle cx="1332.2" cy="1233.6"/><circle cx="1266.5" cy="1245.4"/><circle cx="1371.7" cy="1205.4"/><circle cx="1258.1" cy="1287.2"/><circle cx="1271.1" cy="1261.1"/><circle cx="1337.9" cy="1246.5"/><circle cx="1288.4" cy="1252.6"/><circle cx="1359.3" cy="1281.4"/><circle cx="1325.3" cy="1234.4"/><circle cx="1342.8" cy="1252.7"/><circle cx="1220.8" cy="1283.1"/><circle cx="1338.8" cy="1241.9"/><circle cx="1302.4" cy="1273.5"/><circle cx="1310.1" cy="1255.4"/><circle cx="1234.5" cy="1255.8"/><circle cx="1330.8" cy="1270.1"/><circle cx="1340.9" cy="1248.6"/><circle cx="1304.4" cy="1234.4"/><circle cx="1315.8" cy="1237.4"/><circle cx="1308.0" cy="1264.1"/><circle cx="1277.1" cy="1250.4"/><circle cx="1324.5" cy="1254.8"/><circle cx="1274.3" cy="1241.8"/><circle cx="1288.9" cy="1262.6"/><circle cx="1324.8" cy="1257.8"/><circle cx="1340.4" cy="1223.8"/><circle cx="1383.6" cy="1212.4"/><circle cx="1355.4" cy="1232.5"/><circle cx="1311.9" cy="1277.9"/><circle cx="1265.5" cy="1297.5"/><circle cx="1314.0" cy="1251.2"/><circle cx="1247.0" cy="1287.8"/><circle cx="1241.6" cy="1277.2"/><circle cx="1195.7" cy="1301.0"/><circle cx="1353.5" cy="1215.4"/><circle cx="1347.6" cy="1216.3"/><circle cx="1248.0" cy="1298.5"/><circle cx="1298.6" cy="1248.2"/><circle cx="1306.1" cy="1231.7"/><circle cx="1365.6" cy="1200.4"/><circle cx="1366.4" cy="1214.8"/><circle cx="1254.3" cy="1286.0"/><circle cx="1306.6" cy="1236.6"/><circle cx="1207.2" cy="1280.3"/><circle cx="1290.9" cy="1260.8"/><circle cx="1305.6" cy="1268.9"/><circle cx="1271.7" cy="1245.8"/><circle cx="1233.8" cy="1278.0"/><circle cx="1260.8" cy="1233.2"/><circle cx="1423.6" cy="1236.4"/><circle cx="1253.8" cy="1254.5"/><circle cx="1284.6" cy="1234.7"/><circle cx="1344.7" cy="1232.9"/><circle cx="1333.9" cy="1226.3"/><circle cx="1282.8" cy="1276.7"/><circle cx="1360.8" cy="1201.7"/><circle cx="1368.0" cy="1217.6"/><circle cx="1307.7" cy="1251.9"/><circle cx="1315.5" cy="1254.4"/><circle cx="1306.4" cy="1286.9"/><circle cx="1323.5" cy="1238.4"/><circle cx="1303.5" cy="1232.4"/><circle cx="1357.5" cy="1230.4"/><circle cx="1204.9" cy="1287.4"/><circle cx="1351.3" cy="1243.7"/><circle cx="1292.3" cy="1261.6"/><circle cx="1370.2" cy="1217.0"/><circle cx="1342.6" cy="1196.7"/><circle cx="1275.2" cy="1233.1"/><circle cx="1290.0" cy="1244.6"/><circle cx="1272.0" cy="1265.5"/><circle cx="1227.2" cy="1247.4"/><circle cx="1281.2" cy="1251.4"/><circle cx="1337.4" cy="1236.2"/><circle cx="1278.1" cy="1250.4"/><circle cx="1236.6" cy="1304.5"/><circle cx="1295.6" cy="1259.0"/><circle cx="1253.9" cy="1308.5"/><circle cx="1290.5" cy="1242.2"/><circle cx="1331.7" cy="1244.2"/><circle cx="1317.4" cy="1185.4"/><circle cx="1344.4" cy="1211.1"/><circle cx="1260.3" cy="1292.3"/><circle cx="1160.4" cy="1317.3"/><circle cx="1286.9" cy="1247.8"/><circle cx="1270.6" cy="1241.8"/><circle cx="1344.6" cy="1262.7"/><circle cx="1337.9" cy="1257.8"/><circle cx="1277.9" cy="1262.6"/><circle cx="1298.5" cy="1259.3"/><circle cx="1335.8" cy="1232.3"/><circle cx="1246.4" cy="1251.0"/><circle cx="1185.7" cy="1319.0"/><circle cx="1304.4" cy="1237.7"/><circle cx="1292.5" cy="1238.9"/><circle cx="1275.0" cy="1287.2"/><circle cx="1356.4" cy="1222.0"/><circle cx="1276.2" cy="1242.7"/><circle cx="1259.3" cy="1284.3"/><circle cx="1302.9" cy="1249.0"/><circle cx="1382.6" cy="1214.5"/><circle cx="1235.5" cy="1283.2"/><circle cx="1336.5" cy="1238.5"/><circle cx="1229.3" cy="1294.9"/><circle cx="1319.0" cy="1222.6"/><circle cx="1285.3" cy="1303.2"/><circle cx="1272.2" cy="1271.5"/><circle cx="1304.9" cy="1197.5"/><circle cx="1426.6" cy="1204.9"/><circle cx="1189.7" cy="1279.4"/><circle cx="1282.9" cy="1268.6"/><circle cx="1263.4" cy="1303.3"/><circle cx="1347.7" cy="1220.0"/><circle cx="1293.7" cy="1252.6"/><circle cx="1256.6" cy="1298.8"/><circle cx="1339.4" cy="1243.5"/><circle cx="1328.6" cy="1247.6"/><circle cx="1283.6" cy="1256.8"/><circle cx="1332.4" cy="1235.4"/><circle cx="1291.9" cy="1216.4"/><circle cx="1335.0" cy="1224.2"/><circle cx="1234.7" cy="1283.4"/><circle cx="1328.4" cy="1249.3"/><circle cx="1342.1" cy="1239.2"/><circle cx="1235.7" cy="1258.5"/><circle cx="1462.8" cy="1148.6"/><circle cx="1349.4" cy="1178.6"/><circle cx="1303.0" cy="1246.0"/><circle cx="1275.8" cy="1294.6"/><circle cx="1280.5" cy="1264.5"/><circle cx="1283.2" cy="1243.4"/><circle cx="1315.4" cy="1244.7"/><circle cx="1222.7" cy="1287.6"/><circle cx="1223.6" cy="1265.1"/><circle cx="1349.1" cy="1205.2"/><circle cx="1221.5" cy="1287.4"/><circle cx="1399.0" cy="1214.1"/><circle cx="1278.6" cy="1248.9"/><circle cx="1211.8" cy="1282.4"/><circle cx="1233.9" cy="1255.8"/><circle cx="1375.3" cy="1208.5"/><circle cx="1292.8" cy="1230.7"/><circle cx="1250.5" cy="1297.0"/><circle cx="1184.8" cy="1295.4"/><circle cx="1239.0" cy="1305.4"/><circle cx="1201.2" cy="1314.0"/><circle cx="1180.4" cy="1298.5"/><circle cx="1202.0" cy="1324.6"/><circle cx="1159.6" cy="1299.8"/><circle cx="1161.4" cy="1325.8"/><circle cx="1168.3" cy="1327.2"/><circle cx="1183.2" cy="1313.0"/><circle cx="1203.6" cy="1311.9"/><circle cx="1242.6" cy="1272.8"/><circle cx="1186.4" cy="1277.9"/><circle cx="1208.4" cy="1288.0"/><circle cx="1223.0" cy="1304.6"/><circle cx="1165.4" cy="1322.8"/><circle cx="1159.0" cy="1324.3"/><circle cx="1160.2" cy="1317.9"/><circle cx="1244.5" cy="1304.6"/><circle cx="1143.2" cy="1322.6"/><circle cx="1208.8" cy="1305.8"/><circle cx="1166.7" cy="1327.3"/><circle cx="1259.4" cy="1255.6"/><circle cx="1155.3" cy="1343.6"/><circle cx="1155.9" cy="1336.0"/><circle cx="1179.4" cy="1327.1"/><circle cx="1144.5" cy="1304.9"/><circle cx="1222.2" cy="1317.5"/><circle cx="1214.6" cy="1289.3"/><circle cx="1218.8" cy="1294.3"/><circle cx="1256.6" cy="1284.2"/><circle cx="1169.4" cy="1338.0"/><circle cx="1190.8" cy="1297.9"/><circle cx="1181.4" cy="1320.3"/><circle cx="1168.6" cy="1320.6"/><circle cx="1200.9" cy="1303.1"/><circle cx="1256.5" cy="1275.4"/><circle cx="1155.5" cy="1307.0"/><circle cx="1257.0" cy="1274.3"/><circle cx="1210.5" cy="1323.1"/><circle cx="1169.1" cy="1299.3"/><circle cx="1142.6" cy="1300.0"/><circle cx="1229.0" cy="1318.1"/><circle cx="1184.9" cy="1283.6"/><circle cx="1184.2" cy="1305.1"/><circle cx="1167.9" cy="1307.3"/><circle cx="1188.9" cy="1314.0"/><circle cx="1177.2" cy="1307.6"/><circle cx="1199.3" cy="1313.4"/><circle cx="1131.5" cy="1328.4"/><circle cx="1189.8" cy="1286.2"/><circle cx="1240.9" cy="1331.6"/><circle cx="1216.7" cy="1297.5"/><circle cx="1154.7" cy="1336.7"/><circle cx="1184.5" cy="1286.1"/><circle cx="1194.4" cy="1292.1"/><circle cx="1222.3" cy="1282.7"/><circle cx="1226.5" cy="1310.4"/><circle cx="1216.3" cy="1279.1"/><circle cx="1191.4" cy="1318.2"/><circle cx="1210.0" cy="1292.6"/><circle cx="1182.9" cy="1299.1"/><circle cx="1188.8" cy="1324.6"/><circle cx="1147.3" cy="1336.9"/><circle cx="1193.4" cy="1286.6"/><circle cx="1191.2" cy="1322.1"/><circle cx="1134.2" cy="1311.4"/><circle cx="1236.0" cy="1296.5"/><circle cx="1179.4" cy="1312.9"/><circle cx="1222.0" cy="1338.8"/><circle cx="1206.6" cy="1311.7"/><circle cx="1203.6" cy="1345.9"/><circle cx="1203.0" cy="1314.9"/><circle cx="1374.3" cy="1211.5"/><circle cx="1398.0" cy="1204.9"/><circle cx="1350.5" cy="1216.5"/><circle cx="1355.2" cy="1213.4"/><circle cx="1392.4" cy="1234.0"/><circle cx="1411.9" cy="1193.8"/><circle cx="1410.5" cy="1220.2"/><circle cx="1362.8" cy="1235.4"/><circle cx="1345.8" cy="1235.3"/><circle cx="1391.7" cy="1213.9"/><circle cx="1353.6" cy="1227.8"/><circle cx="1368.1" cy="1235.6"/><circle cx="1370.9" cy="1218.1"/><circle cx="1362.5" cy="1218.2"/><circle cx="1371.4" cy="1229.6"/><circle cx="1379.3" cy="1215.3"/><circle cx="1405.5" cy="1210.2"/><circle cx="1367.3" cy="1212.0"/><circle cx="1384.1" cy="1212.2"/><circle cx="1398.0" cy="1220.4"/><circle cx="1399.0" cy="1219.8"/><circle cx="1375.2" cy="1201.1"/><circle cx="1368.5" cy="1219.2"/><circle cx="1375.7" cy="1201.1"/><circle cx="1359.9" cy="1237.0"/><circle cx="1376.2" cy="1202.7"/><circle cx="1396.9" cy="1179.4"/><circle cx="1387.9" cy="1193.5"/><circle cx="1318.3" cy="1228.0"/><circle cx="1408.5" cy="1236.3"/><circle cx="1390.8" cy="1200.6"/><circle cx="1381.4" cy="1225.4"/><circle cx="1392.4" cy="1197.4"/><circle cx="1398.6" cy="1211.3"/><circle cx="1388.1" cy="1229.4"/><circle cx="1384.2" cy="1226.7"/><circle cx="1369.1" cy="1240.6"/><circle cx="1409.1" cy="1214.5"/><circle cx="1339.3" cy="1232.1"/><circle cx="1393.6" cy="1215.5"/><circle cx="1377.3" cy="1218.5"/><circle cx="1381.7" cy="1206.6"/><circle cx="1112.8" cy="1374.0"/><circle cx="1120.7" cy="1319.4"/><circle cx="1134.1" cy="1326.7"/><circle cx="1138.0" cy="1338.5"/><circle cx="1146.3" cy="1329.3"/><circle cx="1145.9" cy="1295.2"/><circle cx="1155.2" cy="1373.1"/><circle cx="1166.4" cy="1375.0"/><circle cx="1162.1" cy="1347.0"/><circle cx="1178.9" cy="1360.2"/><circle cx="1194.6" cy="1360.2"/><circle cx="1198.6" cy="1357.3"/><circle cx="1216.3" cy="1343.5"/><circle cx="1232.5" cy="1339.1"/><circle cx="1260.3" cy="1354.9"/><circle cx="1263.7" cy="1325.3"/><circle cx="1291.9" cy="1314.9"/><circle cx="1320.5" cy="1324.3"/><circle cx="1334.7" cy="1277.4"/><circle cx="1349.8" cy="1268.9"/><circle cx="1321.2" cy="1284.3"/><circle cx="1329.3" cy="1258.3"/><circle cx="1159.1" cy="1232.6"/><circle cx="1197.2" cy="1243.9"/><circle cx="1189.3" cy="1272.9"/><circle cx="1228.2" cy="1231.1"/><circle cx="1223.8" cy="1243.9"/><circle cx="1341.6" cy="1192.6"/><circle cx="1371.1" cy="1185.3"/><circle cx="1382.4" cy="1192.6"/><circle cx="1396.4" cy="1184.7"/><circle cx="1426.4" cy="1165.6"/><circle cx="1431.3" cy="1179.4"/><circle cx="1431.3" cy="1186.7"/><circle cx="1464.8" cy="1190.1"/><circle cx="1426.7" cy="1215.7"/><circle cx="1416.9" cy="1227.7"/><circle cx="1403.7" cy="1239.9"/><circle cx="1444.1" cy="1239.5"/><circle cx="1404.3" cy="1201.5"/><circle cx="1403.7" cy="1220.6"/><circle cx="1387.9" cy="1227.5"/><circle cx="1373.1" cy="1236.6"/><circle cx="1363.2" cy="1246.8"/></g><rect class="bx" x="1099.1" y="1095.5" width="379.6" height="320.2"/><line class="rl" x1="1099.1" y1="1354.2" x2="1478.7" y2="1162.9"/><text class="l" x="1522.6" y="1060.3">(l)</text><text class="t" x="1794.7" y="1036.9">Pearson-Correlation:-0.5838</text><text class="t" x="1794.7" y="1061.2">P-value:2.866e-35</text><text class="t" x="1794.7" y="1085.5">Sample Size:(N=371)</text><text class="k" x="1671.5" y="1453">9</text><text class="k" x="1743.7" y="1453">10</text><text class="k" x="1815.9" y="1453">11</text><text class="k" x="1888.1" y="1453">12</text><text class="k" x="1960.3" y="1453">13</text><text class="k" transform="translate(1581.9 1385.8) rotate(-90)">6</text><text class="k" transform="translate(1581.9 1309.5) rotate(-90)">8</text><text class="k" transform="translate(1581.9 1233.3) rotate(-90)">10</text><text class="k" transform="translate(1581.9 1157) rotate(-90)">12</text><path class="tk" d="M1671.5 1416v9.8M1743.7 1416v9.8M1815.9 1416v9.8M1888.1 1416v9.8M1960.3 1416v9.8M1604.6 1385.8h-9.8M1604.6 1309.5h-9.8M1604.6 1233.3h-9.8M1604.6 1157h-9.8"/><text class="a" x="1794.7" y="1493">KPNA2</text><text class="a" transform="translate(1541.3 1255.8) rotate(-90)">CYB5D2</text><g class="c"><circle cx="1846.5" cy="1344.9"/><circle cx="1737.6" cy="1249.6"/><circle cx="1713.2" cy="1269.9"/><circle cx="1756.6" cy="1256.0"/><circle cx="1818.5" cy="1295.8"/><circle cx="1761.9" cy="1258.9"/><circle cx="1785.2" cy="1278.2"/><circle cx="1758.5" cy="1232.5"/><circle cx="1826.9" cy="1290.7"/><circle cx="1801.8" cy="1251.0"/><circle cx="1764.1" cy="1306.2"/><circle cx="1838.8" cy="1287.8"/><circle cx="1743.1" cy="1254.5"/><circle cx="1850.8" cy="1266.6"/><circle cx="1817.8" cy="1273.1"/><circle cx="1722.5" cy="1260.3"/><circle cx="1790.1" cy="1224.7"/><circle cx="1793.3" cy="1288.2"/><circle cx="1738.1" cy="1241.9"/><circle cx="1721.2" cy="1301.6"/><circle cx="1827.0" cy="1313.8"/><circle cx="1878.5" cy="1343.7"/><circle cx="1839.1" cy="1310.4"/><circle cx="1790.6" cy="1306.5"/><circle cx="1792.8" cy="1251.2"/><circle cx="1720.0" cy="1290.8"/><circle cx="1800.2" cy="1305.0"/><circle cx="1771.7" cy="1230.6"/><circle cx="1774.8" cy="1282.9"/><circle cx="1782.0" cy="1277.4"/><circle cx="1796.4" cy="1322.0"/><circle cx="1802.1" cy="1279.2"/><circle cx="1688.1" cy="1234.6"/><circle cx="1748.1" cy="1272.9"/><circle cx="1818.0" cy="1289.2"/><circle cx="1812.2" cy="1335.3"/><circle cx="1803.7" cy="1299.5"/><circle cx="1824.1" cy="1280.1"/><circle cx="1730.4" cy="1259.0"/><circle cx="1776.7" cy="1269.5"/><circle cx="1764.3" cy="1312.6"/><circle cx="1825.5" cy="1269.6"/><circle cx="1799.5" cy="1238.8"/><circle cx="1735.2" cy="1310.6"/><circle cx="1815.8" cy="1293.4"/><circle cx="1767.9" cy="1301.4"/><circle cx="1801.7" cy="1287.9"/><circle cx="1715.5" cy="1234.9"/><circle cx="1776.2" cy="1289.8"/><circle cx="1798.5" cy="1288.3"/><circle cx="1841.8" cy="1290.0"/><circle cx="1799.7" cy="1237.4"/><circle cx="1709.6" cy="1252.7"/><circle cx="1711.5" cy="1281.2"/><circle cx="1810.4" cy="1321.9"/><circle cx="1831.4" cy="1265.8"/><circle cx="1754.7" cy="1302.0"/><circle cx="1756.0" cy="1230.7"/><circle cx="1825.1" cy="1285.9"/><circle cx="1754.7" cy="1267.9"/><circle cx="1773.5" cy="1276.3"/><circle cx="1724.6" cy="1230.8"/><circle cx="1673.2" cy="1219.9"/><circle cx="1783.2" cy="1282.6"/><circle cx="1848.5" cy="1313.0"/><circle cx="1756.4" cy="1285.2"/><circle cx="1716.2" cy="1272.4"/><circle cx="1828.1" cy="1304.1"/><circle cx="1742.3" cy="1242.2"/><circle cx="1682.4" cy="1252.0"/><circle cx="1754.5" cy="1266.0"/><circle cx="1795.4" cy="1265.0"/><circle cx="1765.0" cy="1209.1"/><circle cx="1773.0" cy="1279.4"/><circle cx="1768.8" cy="1290.0"/><circle cx="1766.7" cy="1299.1"/><circle cx="1845.7" cy="1283.1"/><circle cx="1783.3" cy="1277.3"/><circle cx="1815.2" cy="1248.7"/><circle cx="1827.7" cy="1304.0"/><circle cx="1759.7" cy="1274.5"/><circle cx="1819.7" cy="1273.8"/><circle cx="1746.6" cy="1275.0"/><circle cx="1768.2" cy="1297.5"/><circle cx="1762.2" cy="1295.9"/><circle cx="1825.0" cy="1274.9"/><circle cx="1811.6" cy="1293.1"/><circle cx="1737.1" cy="1284.7"/><circle cx="1737.3" cy="1253.2"/><circle cx="1733.7" cy="1246.3"/><circle cx="1739.0" cy="1252.0"/><circle cx="1740.2" cy="1282.3"/><circle cx="1775.4" cy="1269.8"/><circle cx="1759.7" cy="1219.7"/><circle cx="1843.0" cy="1324.6"/><circle cx="1797.3" cy="1359.9"/><circle cx="1855.5" cy="1325.3"/><circle cx="1782.0" cy="1315.0"/><circle cx="1800.8" cy="1296.6"/><circle cx="1770.1" cy="1268.0"/><circle cx="1834.7" cy="1277.6"/><circle cx="1794.2" cy="1298.4"/><circle cx="1773.2" cy="1275.2"/><circle cx="1784.1" cy="1304.1"/><circle cx="1851.2" cy="1315.8"/><circle cx="1836.9" cy="1322.3"/><circle cx="1798.6" cy="1234.3"/><circle cx="1695.3" cy="1247.7"/><circle cx="1654.8" cy="1236.1"/><circle cx="1771.5" cy="1282.7"/><circle cx="1761.1" cy="1304.6"/><circle cx="1775.8" cy="1274.3"/><circle cx="1786.2" cy="1298.3"/><circle cx="1818.2" cy="1245.1"/><circle cx="1737.7" cy="1278.1"/><circle cx="1745.9" cy="1281.2"/><circle cx="1851.1" cy="1287.9"/><circle cx="1890.2" cy="1271.8"/><circle cx="1795.4" cy="1258.7"/><circle cx="1786.3" cy="1278.4"/><circle cx="1798.6" cy="1327.3"/><circle cx="1806.8" cy="1258.1"/><circle cx="1779.0" cy="1287.2"/><circle cx="1774.4" cy="1289.4"/><circle cx="1835.0" cy="1315.8"/><circle cx="1759.4" cy="1248.6"/><circle cx="1796.4" cy="1300.5"/><circle cx="1748.6" cy="1225.4"/><circle cx="1823.4" cy="1245.3"/><circle cx="1795.6" cy="1280.4"/><circle cx="1786.8" cy="1255.7"/><circle cx="1819.1" cy="1234.4"/><circle cx="1699.1" cy="1271.8"/><circle cx="1742.2" cy="1277.8"/><circle cx="1758.1" cy="1280.6"/><circle cx="1794.8" cy="1257.9"/><circle cx="1787.3" cy="1260.4"/><circle cx="1768.9" cy="1228.8"/><circle cx="1784.6" cy="1276.8"/><circle cx="1799.1" cy="1277.0"/><circle cx="1883.6" cy="1322.5"/><circle cx="1774.7" cy="1310.8"/><circle cx="1800.9" cy="1271.6"/><circle cx="1796.3" cy="1278.1"/><circle cx="1784.6" cy="1238.5"/><circle cx="1749.3" cy="1301.7"/><circle cx="1801.1" cy="1317.2"/><circle cx="1794.8" cy="1221.9"/><circle cx="1784.8" cy="1219.5"/><circle cx="1764.7" cy="1312.4"/><circle cx="1827.2" cy="1348.5"/><circle cx="1728.5" cy="1270.3"/><circle cx="1752.7" cy="1300.6"/><circle cx="1807.3" cy="1254.1"/><circle cx="1805.6" cy="1289.8"/><circle cx="1841.1" cy="1326.8"/><circle cx="1865.1" cy="1310.9"/><circle cx="1767.7" cy="1244.8"/><circle cx="1815.4" cy="1288.2"/><circle cx="1869.9" cy="1294.8"/><circle cx="1810.9" cy="1340.8"/><circle cx="1753.5" cy="1253.5"/><circle cx="1766.9" cy="1251.3"/><circle cx="1806.8" cy="1238.1"/><circle cx="1803.1" cy="1325.3"/><circle cx="1744.8" cy="1254.5"/><circle cx="1812.4" cy="1305.7"/><circle cx="1759.3" cy="1263.0"/><circle cx="1806.7" cy="1295.4"/><circle cx="1813.1" cy="1291.7"/><circle cx="1809.0" cy="1273.0"/><circle cx="1820.5" cy="1307.0"/><circle cx="1792.0" cy="1259.6"/><circle cx="1789.2" cy="1287.2"/><circle cx="1832.7" cy="1310.0"/><circle cx="1752.8" cy="1284.1"/><circle cx="1768.2" cy="1246.1"/><circle cx="1703.4" cy="1302.1"/><circle cx="1850.3" cy="1313.7"/><circle cx="1765.0" cy="1237.1"/><circle cx="1838.2" cy="1258.0"/><circle cx="1786.5" cy="1280.1"/><circle cx="1802.8" cy="1282.9"/><circle cx="1761.3" cy="1282.7"/><circle cx="1794.0" cy="1239.5"/><circle cx="1823.5" cy="1293.0"/><circle cx="1783.4" cy="1287.1"/><circle cx="1732.6" cy="1277.7"/><circle cx="1794.2" cy="1234.0"/><circle cx="1733.7" cy="1235.7"/><circle cx="1811.5" cy="1267.2"/><circle cx="1818.9" cy="1288.3"/><circle cx="1794.1" cy="1272.1"/><circle cx="1842.1" cy="1304.7"/><circle cx="1670.6" cy="1226.5"/><circle cx="1696.1" cy="1241.8"/><circle cx="1659.9" cy="1215.2"/><circle cx="1686.4" cy="1237.8"/><circle cx="1729.8" cy="1258.1"/><circle cx="1672.5" cy="1213.4"/><circle cx="1726.1" cy="1246.5"/><circle cx="1716.4" cy="1243.3"/><circle cx="1678.0" cy="1233.4"/><circle cx="1701.0" cy="1231.8"/><circle cx="1701.1" cy="1238.8"/><circle cx="1671.2" cy="1219.7"/><circle cx="1650.3" cy="1204.7"/><circle cx="1685.9" cy="1224.0"/><circle cx="1670.3" cy="1199.3"/><circle cx="1696.7" cy="1247.9"/><circle cx="1651.2" cy="1226.8"/><circle cx="1736.8" cy="1236.1"/><circle cx="1743.5" cy="1237.5"/><circle cx="1677.9" cy="1214.7"/><circle cx="1653.1" cy="1200.0"/><circle cx="1701.8" cy="1218.8"/><circle cx="1674.6" cy="1238.1"/><circle cx="1688.0" cy="1228.4"/><circle cx="1650.3" cy="1235.9"/><circle cx="1655.2" cy="1230.8"/><circle cx="1696.9" cy="1244.5"/><circle cx="1668.0" cy="1203.4"/><circle cx="1636.2" cy="1246.2"/><circle cx="1699.8" cy="1235.0"/><circle cx="1713.6" cy="1202.5"/><circle cx="1682.8" cy="1227.5"/><circle cx="1668.2" cy="1220.1"/><circle cx="1719.0" cy="1255.1"/><circle cx="1686.4" cy="1214.9"/><circle cx="1701.2" cy="1241.0"/><circle cx="1662.2" cy="1217.8"/><circle cx="1652.5" cy="1242.2"/><circle cx="1694.3" cy="1230.7"/><circle cx="1717.3" cy="1253.2"/><circle cx="1660.9" cy="1241.6"/><circle cx="1680.6" cy="1216.6"/><circle cx="1678.1" cy="1235.6"/><circle cx="1717.2" cy="1244.7"/><circle cx="1678.5" cy="1258.8"/><circle cx="1693.1" cy="1246.5"/><circle cx="1711.5" cy="1229.5"/><circle cx="1692.7" cy="1268.6"/><circle cx="1725.9" cy="1238.3"/><circle cx="1661.3" cy="1223.5"/><circle cx="1693.9" cy="1238.3"/><circle cx="1692.8" cy="1246.2"/><circle cx="1666.7" cy="1214.4"/><circle cx="1692.6" cy="1231.6"/><circle cx="1696.0" cy="1230.4"/><circle cx="1679.5" cy="1234.5"/><circle cx="1679.2" cy="1216.5"/><circle cx="1717.3" cy="1237.2"/><circle cx="1702.2" cy="1214.4"/><circle cx="1901.8" cy="1322.2"/><circle cx="1883.2" cy="1277.2"/><circle cx="1878.6" cy="1343.7"/><circle cx="1840.4" cy="1289.6"/><circle cx="1810.6" cy="1284.1"/><circle cx="1814.0" cy="1285.8"/><circle cx="1806.4" cy="1332.5"/><circle cx="1861.6" cy="1330.0"/><circle cx="1829.7" cy="1340.2"/><circle cx="1837.2" cy="1310.2"/><circle cx="1812.2" cy="1317.8"/><circle cx="1889.0" cy="1349.1"/><circle cx="1816.5" cy="1299.2"/><circle cx="1844.2" cy="1316.8"/><circle cx="1856.7" cy="1281.3"/><circle cx="1855.6" cy="1294.8"/><circle cx="1846.5" cy="1316.0"/><circle cx="1878.6" cy="1276.4"/><circle cx="1919.5" cy="1348.3"/><circle cx="1880.2" cy="1330.8"/><circle cx="1865.3" cy="1306.3"/><circle cx="1818.5" cy="1318.8"/><circle cx="1888.3" cy="1340.6"/><circle cx="1885.1" cy="1353.4"/><circle cx="1835.8" cy="1313.2"/><circle cx="1862.3" cy="1332.9"/><circle cx="1788.7" cy="1296.6"/><circle cx="1835.7" cy="1279.4"/><circle cx="1882.2" cy="1326.9"/><circle cx="1808.2" cy="1294.3"/><circle cx="1869.3" cy="1324.0"/><circle cx="1882.1" cy="1327.7"/><circle cx="1808.9" cy="1315.0"/><circle cx="1850.2" cy="1312.7"/><circle cx="1898.2" cy="1317.6"/><circle cx="1912.8" cy="1351.2"/><circle cx="1871.2" cy="1277.2"/><circle cx="1904.6" cy="1304.7"/><circle cx="1823.1" cy="1328.6"/><circle cx="1847.5" cy="1280.7"/><circle cx="1864.0" cy="1324.8"/><circle cx="1882.6" cy="1303.1"/><circle cx="1854.8" cy="1329.3"/><circle cx="1882.8" cy="1333.8"/><circle cx="1870.0" cy="1343.3"/><circle cx="1887.2" cy="1340.0"/><circle cx="1868.3" cy="1346.0"/><circle cx="1865.3" cy="1299.6"/><circle cx="1850.1" cy="1345.9"/><circle cx="1858.6" cy="1307.1"/><circle cx="1856.0" cy="1333.3"/><circle cx="1888.9" cy="1325.1"/><circle cx="1876.8" cy="1348.4"/><circle cx="1891.2" cy="1339.2"/><circle cx="1881.5" cy="1330.9"/><circle cx="1877.9" cy="1337.9"/><circle cx="1837.2" cy="1307.7"/><circle cx="1849.1" cy="1313.4"/><circle cx="1835.5" cy="1338.4"/><circle cx="1618.8" cy="1216.3"/><circle cx="1626.7" cy="1230.1"/><circle cx="1640.1" cy="1250.2"/><circle cx="1644.0" cy="1266.6"/><circle cx="1651.9" cy="1274.5"/><circle cx="1652.3" cy="1213.3"/><circle cx="1661.2" cy="1213.3"/><circle cx="1661.2" cy="1184.1"/><circle cx="1678.9" cy="1191.0"/><circle cx="1685.9" cy="1197.5"/><circle cx="1681.5" cy="1203.5"/><circle cx="1699.3" cy="1194.2"/><circle cx="1729.6" cy="1185.7"/><circle cx="1751.3" cy="1201.5"/><circle cx="1784.8" cy="1198.5"/><circle cx="1777.2" cy="1208.8"/><circle cx="1799.2" cy="1222.8"/><circle cx="1826.3" cy="1216.9"/><circle cx="1814.0" cy="1233.0"/><circle cx="1819.0" cy="1233.0"/><circle cx="1665.1" cy="1280.4"/><circle cx="1672.0" cy="1286.3"/><circle cx="1678.4" cy="1291.2"/><circle cx="1685.9" cy="1284.3"/><circle cx="1691.2" cy="1292.8"/><circle cx="1702.6" cy="1280.8"/><circle cx="1722.3" cy="1288.8"/><circle cx="1749.4" cy="1317.8"/><circle cx="1764.7" cy="1315.9"/><circle cx="1804.2" cy="1338.5"/><circle cx="1807.1" cy="1330.7"/><circle cx="1800.6" cy="1358.7"/><circle cx="1841.6" cy="1330.7"/><circle cx="1865.3" cy="1352.3"/><circle cx="1865.3" cy="1347.4"/><circle cx="1870.2" cy="1340.5"/><circle cx="1878.1" cy="1340.5"/><circle cx="1900.8" cy="1343.9"/><circle cx="1911.6" cy="1342.5"/><circle cx="1909.7" cy="1365.8"/><circle cx="1932.4" cy="1353.3"/><circle cx="1932.4" cy="1333.2"/><circle cx="1909.7" cy="1319.4"/><circle cx="1901.8" cy="1310.9"/><circle cx="1922.9" cy="1311.9"/><circle cx="1936.3" cy="1304.0"/><circle cx="1898.8" cy="1289.2"/><circle cx="1906.7" cy="1271.5"/><circle cx="1950.1" cy="1254.3"/><circle cx="1970.8" cy="1272.1"/><circle cx="1888.0" cy="1329.7"/><circle cx="1893.9" cy="1336.6"/><circle cx="1874.2" cy="1282.3"/><circle cx="1870.2" cy="1248.4"/><circle cx="1847.2" cy="1236.0"/><circle cx="1841.6" cy="1245.9"/><circle cx="1888.4" cy="1309.0"/><circle cx="1898.4" cy="1324.3"/></g><rect class="bx" x="1604.6" y="1095.5" width="380.1" height="320.5"/><line class="rl" x1="1604.6" y1="1215.9" x2="1984.7" y2="1331.6"/><text class="l" x="18.5" y="1556.5">(m)</text><text class="t" x="280.2" y="1538">Pearson-Correlation:0.8227</text><text class="t" x="280.2" y="1562.3">P-value:1.237e-101</text><text class="t" x="280.2" y="1586.6">Sample Size:(N=408)</text><text class="k" x="115.5" y="1953">7</text><text class="k" x="166.9" y="1953">8</text><text class="k" x="218.4" y="1953">9</text><text class="k" x="269.9" y="1953">10</text><text class="k" x="321.3" y="1953">11</text><text class="k" x="372.8" y="1953">12</text><text class="k" x="424.2" y="1953">13</text><text class="k" transform="translate(67.3 1910.9) rotate(-90)">2</text><text class="k" transform="translate(67.3 1858.4) rotate(-90)">4</text><text class="k" transform="translate(67.3 1805.9) rotate(-90)">6</text><text class="k" transform="translate(67.3 1753.5) rotate(-90)">8</text><text class="k" transform="translate(67.3 1701) rotate(-90)">10</text><text class="k" transform="translate(67.3 1648.5) rotate(-90)">12</text><path class="tk" d="M115.5 1916v9.8M166.9 1916v9.8M218.4 1916v9.8M269.9 1916v9.8M321.3 1916v9.8M372.8 1916v9.8M424.2 1916v9.8M90 1910.9h-9.8M90 1858.4h-9.8M90 1805.9h-9.8M90 1753.5h-9.8M90 1701h-9.8M90 1648.5h-9.8"/><text class="a" x="280.2" y="1993">KPNA2</text><text class="a" transform="translate(26.7 1756.3) rotate(-90)">DLGAP5</text><g class="c"><circle cx="381.2" cy="1702.1"/><circle cx="370.6" cy="1711.6"/><circle cx="365.1" cy="1730.5"/><circle cx="394.2" cy="1687.4"/><circle cx="362.2" cy="1748.2"/><circle cx="368.3" cy="1717.6"/><circle cx="353.4" cy="1755.0"/><circle cx="359.0" cy="1733.2"/><circle cx="363.4" cy="1715.4"/><circle cx="396.8" cy="1738.5"/><circle cx="371.4" cy="1721.9"/><circle cx="393.2" cy="1700.5"/><circle cx="334.0" cy="1762.0"/><circle cx="428.6" cy="1692.0"/><circle cx="388.1" cy="1712.3"/><circle cx="371.4" cy="1691.2"/><circle cx="340.1" cy="1715.7"/><circle cx="404.7" cy="1715.6"/><circle cx="350.9" cy="1727.6"/><circle cx="375.9" cy="1727.5"/><circle cx="372.5" cy="1707.9"/><circle cx="389.5" cy="1715.1"/><circle cx="373.8" cy="1692.7"/><circle cx="350.5" cy="1732.4"/><circle cx="352.6" cy="1757.7"/><circle cx="409.2" cy="1701.5"/><circle cx="391.1" cy="1703.7"/><circle cx="388.1" cy="1709.9"/><circle cx="385.6" cy="1713.2"/><circle cx="401.3" cy="1733.1"/><circle cx="329.3" cy="1752.5"/><circle cx="379.0" cy="1724.7"/><circle cx="395.7" cy="1698.9"/><circle cx="381.9" cy="1724.6"/><circle cx="397.2" cy="1713.0"/><circle cx="381.0" cy="1704.9"/><circle cx="352.8" cy="1707.9"/><circle cx="354.9" cy="1729.3"/><circle cx="381.3" cy="1734.5"/><circle cx="397.1" cy="1696.2"/><circle cx="333.6" cy="1741.0"/><circle cx="406.9" cy="1717.8"/><circle cx="327.5" cy="1748.9"/><circle cx="411.2" cy="1665.9"/><circle cx="383.8" cy="1740.5"/><circle cx="380.4" cy="1717.6"/><circle cx="360.7" cy="1720.8"/><circle cx="398.0" cy="1700.9"/><circle cx="362.1" cy="1736.5"/><circle cx="406.9" cy="1691.0"/><circle cx="443.3" cy="1703.9"/><circle cx="380.4" cy="1723.6"/><circle cx="360.3" cy="1739.6"/><circle cx="398.5" cy="1709.5"/><circle cx="354.6" cy="1724.4"/><circle cx="370.0" cy="1726.3"/><circle cx="394.8" cy="1735.3"/><circle cx="399.8" cy="1696.3"/><circle cx="348.4" cy="1735.1"/><circle cx="396.8" cy="1711.7"/><circle cx="383.9" cy="1702.3"/><circle cx="380.4" cy="1730.4"/><circle cx="384.9" cy="1694.1"/><circle cx="381.8" cy="1722.0"/><circle cx="360.3" cy="1713.7"/><circle cx="325.1" cy="1747.5"/><circle cx="313.4" cy="1755.1"/><circle cx="396.8" cy="1747.8"/><circle cx="389.2" cy="1701.7"/><circle cx="358.5" cy="1746.9"/><circle cx="371.5" cy="1728.9"/><circle cx="409.6" cy="1685.9"/><circle cx="403.5" cy="1716.0"/><circle cx="332.2" cy="1747.2"/><circle cx="380.3" cy="1691.0"/><circle cx="355.8" cy="1704.8"/><circle cx="389.1" cy="1713.2"/><circle cx="378.4" cy="1720.5"/><circle cx="339.8" cy="1717.7"/><circle cx="426.0" cy="1687.9"/><circle cx="308.1" cy="1758.2"/><circle cx="351.0" cy="1743.0"/><circle cx="396.9" cy="1694.2"/><circle cx="370.5" cy="1723.6"/><circle cx="378.9" cy="1715.0"/><circle cx="351.4" cy="1743.8"/><circle cx="398.7" cy="1720.7"/><circle cx="367.3" cy="1756.7"/><circle cx="330.2" cy="1724.8"/><circle cx="342.6" cy="1744.4"/><circle cx="391.2" cy="1694.4"/><circle cx="359.7" cy="1711.0"/><circle cx="374.5" cy="1691.4"/><circle cx="374.9" cy="1709.8"/><circle cx="365.1" cy="1725.7"/><circle cx="337.9" cy="1738.5"/><circle cx="378.1" cy="1719.8"/><circle cx="386.2" cy="1713.9"/><circle cx="343.9" cy="1745.6"/><circle cx="354.4" cy="1732.2"/><circle cx="349.6" cy="1739.4"/><circle cx="318.5" cy="1757.4"/><circle cx="373.1" cy="1711.7"/><circle cx="374.0" cy="1697.4"/><circle cx="356.2" cy="1706.6"/><circle cx="377.9" cy="1722.3"/><circle cx="365.9" cy="1707.4"/><circle cx="404.1" cy="1709.6"/><circle cx="385.8" cy="1702.3"/><circle cx="386.7" cy="1697.0"/><circle cx="347.9" cy="1730.4"/><circle cx="381.9" cy="1714.4"/><circle cx="380.5" cy="1740.1"/><circle cx="338.4" cy="1733.7"/><circle cx="376.4" cy="1707.6"/><circle cx="329.8" cy="1751.7"/><circle cx="347.8" cy="1749.7"/><circle cx="394.5" cy="1702.3"/><circle cx="381.7" cy="1704.2"/><circle cx="326.1" cy="1756.9"/><circle cx="380.5" cy="1718.3"/><circle cx="375.1" cy="1724.1"/><circle cx="352.4" cy="1710.7"/><circle cx="345.2" cy="1746.9"/><circle cx="362.0" cy="1727.2"/><circle cx="394.8" cy="1721.6"/><circle cx="412.6" cy="1689.6"/><circle cx="393.7" cy="1712.2"/><circle cx="345.9" cy="1732.9"/><circle cx="401.9" cy="1733.6"/><circle cx="411.0" cy="1671.4"/><circle cx="357.7" cy="1713.8"/><circle cx="332.3" cy="1732.9"/><circle cx="375.0" cy="1670.9"/><circle cx="350.5" cy="1725.1"/><circle cx="382.4" cy="1738.1"/><circle cx="383.3" cy="1723.7"/><circle cx="372.4" cy="1736.0"/><circle cx="368.4" cy="1719.9"/><circle cx="381.3" cy="1703.7"/><circle cx="387.0" cy="1707.5"/><circle cx="368.4" cy="1701.8"/><circle cx="376.7" cy="1689.6"/><circle cx="385.9" cy="1727.9"/><circle cx="353.6" cy="1731.3"/><circle cx="424.4" cy="1707.2"/><circle cx="368.8" cy="1700.3"/><circle cx="383.9" cy="1713.6"/><circle cx="386.0" cy="1687.3"/><circle cx="378.6" cy="1740.0"/><circle cx="337.2" cy="1744.0"/><circle cx="320.5" cy="1737.3"/><circle cx="353.1" cy="1716.6"/><circle cx="405.1" cy="1718.2"/><circle cx="372.1" cy="1703.0"/><circle cx="383.0" cy="1709.1"/><circle cx="358.1" cy="1728.9"/><circle cx="327.0" cy="1733.3"/><circle cx="373.9" cy="1742.1"/><circle cx="336.8" cy="1771.4"/><circle cx="343.5" cy="1729.9"/><circle cx="382.8" cy="1715.9"/><circle cx="357.2" cy="1741.0"/><circle cx="336.8" cy="1752.6"/><circle cx="385.4" cy="1722.8"/><circle cx="371.1" cy="1702.9"/><circle cx="371.2" cy="1721.4"/><circle cx="311.9" cy="1737.5"/><circle cx="383.6" cy="1711.0"/><circle cx="363.5" cy="1733.8"/><circle cx="385.9" cy="1724.4"/><circle cx="378.6" cy="1683.4"/><circle cx="380.1" cy="1719.1"/><circle cx="389.0" cy="1687.6"/><circle cx="388.3" cy="1717.5"/><circle cx="359.1" cy="1735.2"/><circle cx="354.9" cy="1734.7"/><circle cx="422.6" cy="1702.8"/><circle cx="425.0" cy="1690.5"/><circle cx="356.6" cy="1718.7"/><circle cx="374.4" cy="1714.0"/><circle cx="383.7" cy="1718.7"/><circle cx="378.3" cy="1691.1"/><circle cx="330.7" cy="1743.9"/><circle cx="393.6" cy="1712.5"/><circle cx="368.5" cy="1706.6"/><circle cx="386.0" cy="1730.7"/><circle cx="371.1" cy="1738.6"/><circle cx="411.7" cy="1703.3"/><circle cx="364.1" cy="1724.5"/><circle cx="415.8" cy="1687.1"/><circle cx="417.1" cy="1700.8"/><circle cx="364.3" cy="1733.1"/><circle cx="405.0" cy="1714.3"/><circle cx="394.2" cy="1695.6"/><circle cx="371.5" cy="1730.7"/><circle cx="328.1" cy="1766.7"/><circle cx="360.8" cy="1713.3"/><circle cx="384.3" cy="1714.9"/><circle cx="431.6" cy="1682.6"/><circle cx="406.4" cy="1695.5"/><circle cx="406.3" cy="1713.3"/><circle cx="381.3" cy="1712.0"/><circle cx="403.8" cy="1711.1"/><circle cx="357.5" cy="1736.6"/><circle cx="360.5" cy="1739.9"/><circle cx="341.1" cy="1737.1"/><circle cx="342.2" cy="1730.0"/><circle cx="375.9" cy="1728.2"/><circle cx="425.3" cy="1686.8"/><circle cx="346.0" cy="1750.3"/><circle cx="378.7" cy="1708.9"/><circle cx="371.8" cy="1712.3"/><circle cx="333.5" cy="1756.5"/><circle cx="371.5" cy="1723.3"/><circle cx="320.2" cy="1752.4"/><circle cx="406.6" cy="1708.7"/><circle cx="394.1" cy="1703.8"/><circle cx="355.8" cy="1734.1"/><circle cx="367.1" cy="1732.0"/><circle cx="352.8" cy="1716.8"/><circle cx="363.3" cy="1741.4"/><circle cx="391.7" cy="1708.2"/><circle cx="342.9" cy="1735.8"/><circle cx="363.6" cy="1725.7"/><circle cx="338.5" cy="1733.2"/><circle cx="388.8" cy="1682.5"/><circle cx="376.7" cy="1719.0"/><circle cx="396.0" cy="1698.9"/><circle cx="363.2" cy="1751.7"/><circle cx="317.6" cy="1779.0"/><circle cx="383.3" cy="1706.6"/><circle cx="383.2" cy="1719.1"/><circle cx="401.5" cy="1718.8"/><circle cx="373.6" cy="1726.1"/><circle cx="387.5" cy="1709.2"/><circle cx="391.2" cy="1704.2"/><circle cx="351.2" cy="1719.8"/><circle cx="323.1" cy="1766.4"/><circle cx="391.9" cy="1717.9"/><circle cx="376.8" cy="1721.0"/><circle cx="360.1" cy="1729.4"/><circle cx="351.9" cy="1760.7"/><circle cx="417.0" cy="1699.2"/><circle cx="384.3" cy="1734.1"/><circle cx="365.9" cy="1707.5"/><circle cx="297.2" cy="1780.3"/><circle cx="290.9" cy="1767.7"/><circle cx="319.9" cy="1738.0"/><circle cx="296.8" cy="1754.3"/><circle cx="350.8" cy="1758.0"/><circle cx="295.4" cy="1728.6"/><circle cx="329.2" cy="1739.5"/><circle cx="304.4" cy="1764.9"/><circle cx="320.9" cy="1730.8"/><circle cx="310.4" cy="1772.8"/><circle cx="304.1" cy="1750.8"/><circle cx="288.7" cy="1771.7"/><circle cx="280.9" cy="1798.6"/><circle cx="290.8" cy="1782.8"/><circle cx="315.8" cy="1752.1"/><circle cx="316.2" cy="1753.3"/><circle cx="284.5" cy="1795.3"/><circle cx="296.7" cy="1793.7"/><circle cx="283.4" cy="1782.9"/><circle cx="311.8" cy="1732.0"/><circle cx="288.4" cy="1765.9"/><circle cx="294.9" cy="1783.3"/><circle cx="316.4" cy="1744.9"/><circle cx="295.7" cy="1764.0"/><circle cx="316.0" cy="1741.8"/><circle cx="324.9" cy="1744.1"/><circle cx="304.4" cy="1776.6"/><circle cx="277.6" cy="1789.3"/><circle cx="297.9" cy="1751.9"/><circle cx="366.6" cy="1741.9"/><circle cx="277.9" cy="1759.5"/><circle cx="346.4" cy="1750.2"/><circle cx="302.2" cy="1777.0"/><circle cx="281.3" cy="1759.3"/><circle cx="331.5" cy="1720.3"/><circle cx="307.7" cy="1775.3"/><circle cx="267.6" cy="1795.5"/><circle cx="282.4" cy="1780.2"/><circle cx="287.1" cy="1763.3"/><circle cx="300.4" cy="1771.3"/><circle cx="329.2" cy="1727.0"/><circle cx="336.6" cy="1754.2"/><circle cx="325.2" cy="1782.7"/><circle cx="319.3" cy="1751.3"/><circle cx="306.8" cy="1776.5"/><circle cx="268.3" cy="1773.8"/><circle cx="313.2" cy="1762.4"/><circle cx="304.6" cy="1760.5"/><circle cx="334.0" cy="1751.2"/><circle cx="316.0" cy="1751.9"/><circle cx="325.4" cy="1726.1"/><circle cx="308.5" cy="1775.6"/><circle cx="295.4" cy="1752.6"/><circle cx="307.6" cy="1776.7"/><circle cx="284.4" cy="1758.8"/><circle cx="339.7" cy="1752.3"/><circle cx="316.7" cy="1760.8"/><circle cx="280.9" cy="1770.6"/><circle cx="303.2" cy="1777.5"/><circle cx="354.2" cy="1735.6"/><circle cx="372.4" cy="1743.0"/><circle cx="345.9" cy="1746.7"/><circle cx="321.4" cy="1769.8"/><circle cx="333.2" cy="1716.4"/><circle cx="318.3" cy="1773.8"/><circle cx="283.2" cy="1773.0"/><circle cx="310.9" cy="1755.8"/><circle cx="278.3" cy="1761.0"/><circle cx="301.3" cy="1754.7"/><circle cx="359.0" cy="1724.8"/><circle cx="322.9" cy="1752.5"/><circle cx="315.9" cy="1756.7"/><circle cx="326.3" cy="1743.9"/><circle cx="301.8" cy="1766.8"/><circle cx="321.8" cy="1764.2"/><circle cx="285.6" cy="1767.7"/><circle cx="276.1" cy="1771.3"/><circle cx="306.5" cy="1776.6"/><circle cx="286.5" cy="1780.2"/><circle cx="254.5" cy="1780.7"/><circle cx="303.0" cy="1773.3"/><circle cx="289.6" cy="1778.3"/><circle cx="303.6" cy="1794.2"/><circle cx="347.8" cy="1748.4"/><circle cx="329.0" cy="1759.0"/><circle cx="268.5" cy="1781.0"/><circle cx="255.0" cy="1784.1"/><circle cx="275.6" cy="1793.7"/><circle cx="264.3" cy="1779.2"/><circle cx="269.1" cy="1788.5"/><circle cx="281.9" cy="1767.5"/><circle cx="250.0" cy="1778.1"/><circle cx="286.0" cy="1757.0"/><circle cx="260.4" cy="1795.0"/><circle cx="242.3" cy="1776.3"/><circle cx="274.6" cy="1760.7"/><circle cx="264.4" cy="1779.2"/><circle cx="264.4" cy="1793.4"/><circle cx="272.4" cy="1773.3"/><circle cx="269.8" cy="1796.1"/><circle cx="271.4" cy="1780.4"/><circle cx="264.6" cy="1783.7"/><circle cx="280.4" cy="1795.3"/><circle cx="262.2" cy="1793.6"/><circle cx="277.4" cy="1773.9"/><circle cx="262.1" cy="1781.3"/><circle cx="275.8" cy="1789.5"/><circle cx="248.8" cy="1811.8"/><circle cx="275.2" cy="1777.0"/><circle cx="261.7" cy="1786.2"/><circle cx="272.8" cy="1794.4"/><circle cx="261.9" cy="1779.8"/><circle cx="264.6" cy="1791.6"/><circle cx="258.2" cy="1793.3"/><circle cx="281.2" cy="1775.2"/><circle cx="258.7" cy="1779.2"/><circle cx="254.9" cy="1764.5"/><circle cx="103.8" cy="1878.0"/><circle cx="214.6" cy="1834.0"/><circle cx="235.9" cy="1837.2"/><circle cx="240.3" cy="1826.1"/><circle cx="231.0" cy="1815.5"/><circle cx="219.2" cy="1809.6"/><circle cx="225.1" cy="1799.7"/><circle cx="261.6" cy="1821.8"/><circle cx="320.7" cy="1830.7"/><circle cx="380.3" cy="1772.9"/><circle cx="333.1" cy="1787.3"/><circle cx="343.4" cy="1782.8"/><circle cx="318.8" cy="1783.0"/><circle cx="319.3" cy="1794.2"/><circle cx="296.1" cy="1813.9"/><circle cx="288.2" cy="1810.0"/><circle cx="279.3" cy="1804.5"/><circle cx="261.6" cy="1804.1"/><circle cx="257.6" cy="1782.4"/><circle cx="246.8" cy="1788.3"/><circle cx="243.2" cy="1767.6"/><circle cx="254.7" cy="1765.6"/><circle cx="268.5" cy="1759.7"/><circle cx="274.8" cy="1747.3"/><circle cx="292.7" cy="1724.2"/><circle cx="292.1" cy="1733.1"/><circle cx="309.9" cy="1720.6"/><circle cx="326.6" cy="1724.2"/><circle cx="348.3" cy="1692.6"/><circle cx="372.4" cy="1684.8"/><circle cx="385.8" cy="1679.4"/><circle cx="402.2" cy="1677.9"/><circle cx="410.4" cy="1674.3"/><circle cx="421.9" cy="1661.1"/><circle cx="431.7" cy="1675.9"/><circle cx="446.5" cy="1682.8"/><circle cx="452.5" cy="1695.0"/><circle cx="456.4" cy="1705.5"/><circle cx="434.7" cy="1724.8"/><circle cx="416.4" cy="1731.1"/><circle cx="401.2" cy="1744.9"/><circle cx="388.8" cy="1753.8"/><circle cx="353.3" cy="1758.7"/><circle cx="367.1" cy="1759.3"/><circle cx="347.3" cy="1767.0"/></g><rect class="bx" x="90" y="1596.6" width="380.4" height="319.4"/><line class="rl" x1="90.0" y1="1879.5" x2="470.4" y2="1672.1"/><text class="l" x="513.3" y="1556.5">(n)</text><text class="t" x="782.2" y="1541.9">Pearson-Correlation:-0.5973</text><text class="t" x="782.2" y="1566.2">P-value:8.162e-41</text><text class="t" x="782.2" y="1590.5">Sample Size:(N=408)</text><text class="k" x="617.5" y="1956.9">7</text><text class="k" x="668.8" y="1956.9">8</text><text class="k" x="720.2" y="1956.9">9</text><text class="k" x="771.5" y="1956.9">10</text><text class="k" x="822.8" y="1956.9">11</text><text class="k" x="874.2" y="1956.9">12</text><text class="k" x="925.5" y="1956.9">13</text><text class="k" transform="translate(569.4 1903.6) rotate(-90)">4</text><text class="k" transform="translate(569.4 1824.2) rotate(-90)">6</text><text class="k" transform="translate(569.4 1744.8) rotate(-90)">8</text><text class="k" transform="translate(569.4 1665.4) rotate(-90)">10</text><path class="tk" d="M617.5 1919.9v9.8M668.8 1919.9v9.8M720.2 1919.9v9.8M771.5 1919.9v9.8M822.8 1919.9v9.8M874.2 1919.9v9.8M925.5 1919.9v9.8M592.1 1903.6h-9.8M592.1 1824.2h-9.8M592.1 1744.8h-9.8M592.1 1665.4h-9.8"/><text class="a" x="782.2" y="1996.9">KPNA2</text><text class="a" transform="translate(528.8 1760.2) rotate(-90)">C5orf53</text><g class="c"><circle cx="869.9" cy="1766.9"/><circle cx="859.2" cy="1720.4"/><circle cx="878.3" cy="1777.6"/><circle cx="854.0" cy="1775.3"/><circle cx="870.1" cy="1750.2"/><circle cx="905.6" cy="1797.4"/><circle cx="889.1" cy="1782.9"/><circle cx="844.7" cy="1768.1"/><circle cx="895.7" cy="1780.2"/><circle cx="864.4" cy="1765.6"/><circle cx="825.3" cy="1785.6"/><circle cx="866.0" cy="1795.1"/><circle cx="880.0" cy="1758.1"/><circle cx="909.1" cy="1760.6"/><circle cx="897.6" cy="1787.4"/><circle cx="899.1" cy="1789.2"/><circle cx="856.0" cy="1762.9"/><circle cx="873.4" cy="1767.4"/><circle cx="820.2" cy="1766.5"/><circle cx="901.0" cy="1735.1"/><circle cx="875.0" cy="1754.6"/><circle cx="815.6" cy="1751.1"/><circle cx="886.9" cy="1783.8"/><circle cx="882.6" cy="1781.5"/><circle cx="838.6" cy="1740.3"/><circle cx="806.9" cy="1763.8"/><circle cx="858.9" cy="1777.6"/><circle cx="874.4" cy="1783.2"/><circle cx="868.2" cy="1773.8"/><circle cx="918.8" cy="1768.4"/><circle cx="936.8" cy="1790.6"/><circle cx="884.6" cy="1753.9"/><circle cx="868.8" cy="1766.1"/><circle cx="872.2" cy="1743.8"/><circle cx="927.3" cy="1793.5"/><circle cx="879.6" cy="1760.1"/><circle cx="892.7" cy="1776.1"/><circle cx="911.5" cy="1750.6"/><circle cx="908.4" cy="1766.5"/><circle cx="885.7" cy="1774.3"/><circle cx="919.1" cy="1799.9"/><circle cx="898.2" cy="1758.5"/><circle cx="876.8" cy="1778.2"/><circle cx="832.7" cy="1786.8"/><circle cx="868.1" cy="1761.3"/><circle cx="879.6" cy="1757.1"/><circle cx="914.5" cy="1756.8"/><circle cx="872.0" cy="1739.5"/><circle cx="885.7" cy="1763.2"/><circle cx="873.1" cy="1761.1"/><circle cx="803.8" cy="1741.0"/><circle cx="871.6" cy="1793.9"/><circle cx="925.3" cy="1777.7"/><circle cx="837.3" cy="1753.0"/><circle cx="895.9" cy="1801.4"/><circle cx="840.7" cy="1760.5"/><circle cx="863.2" cy="1766.1"/><circle cx="871.8" cy="1769.7"/><circle cx="907.8" cy="1763.9"/><circle cx="884.1" cy="1751.0"/><circle cx="872.4" cy="1779.6"/><circle cx="890.8" cy="1798.3"/><circle cx="894.3" cy="1795.5"/><circle cx="865.9" cy="1781.2"/><circle cx="878.6" cy="1797.0"/><circle cx="902.5" cy="1806.2"/><circle cx="891.3" cy="1771.7"/><circle cx="848.9" cy="1761.0"/><circle cx="892.2" cy="1742.2"/><circle cx="830.5" cy="1764.4"/><circle cx="931.9" cy="1800.1"/><circle cx="880.7" cy="1774.2"/><circle cx="827.4" cy="1762.3"/><circle cx="872.8" cy="1747.8"/><circle cx="886.3" cy="1777.7"/><circle cx="899.9" cy="1768.3"/><circle cx="862.5" cy="1788.4"/><circle cx="873.3" cy="1748.9"/><circle cx="855.3" cy="1750.8"/><circle cx="896.4" cy="1787.0"/><circle cx="898.1" cy="1807.5"/><circle cx="884.8" cy="1774.0"/><circle cx="890.1" cy="1754.6"/><circle cx="884.5" cy="1762.9"/><circle cx="859.9" cy="1767.4"/><circle cx="862.9" cy="1772.3"/><circle cx="898.2" cy="1761.3"/><circle cx="875.7" cy="1788.0"/><circle cx="892.7" cy="1764.2"/><circle cx="862.5" cy="1748.6"/><circle cx="897.2" cy="1777.2"/><circle cx="856.8" cy="1741.5"/><circle cx="915.9" cy="1770.2"/><circle cx="872.6" cy="1764.7"/><circle cx="898.9" cy="1743.0"/><circle cx="860.4" cy="1756.1"/><circle cx="881.2" cy="1753.1"/><circle cx="854.4" cy="1763.8"/><circle cx="885.8" cy="1759.4"/><circle cx="823.8" cy="1758.2"/><circle cx="903.5" cy="1788.4"/><circle cx="878.0" cy="1778.4"/><circle cx="892.8" cy="1781.2"/><circle cx="878.1" cy="1757.1"/><circle cx="886.8" cy="1780.8"/><circle cx="853.9" cy="1768.5"/><circle cx="852.0" cy="1759.7"/><circle cx="863.1" cy="1768.4"/><circle cx="835.5" cy="1755.3"/><circle cx="897.9" cy="1776.6"/><circle cx="869.9" cy="1758.4"/><circle cx="869.4" cy="1768.4"/><circle cx="852.8" cy="1760.8"/><circle cx="885.7" cy="1784.4"/><circle cx="895.9" cy="1798.5"/><circle cx="869.2" cy="1761.6"/><circle cx="907.0" cy="1777.9"/><circle cx="872.3" cy="1799.0"/><circle cx="881.8" cy="1772.0"/><circle cx="832.2" cy="1748.1"/><circle cx="857.7" cy="1748.1"/><circle cx="904.7" cy="1790.1"/><circle cx="917.3" cy="1755.7"/><circle cx="938.2" cy="1788.5"/><circle cx="862.1" cy="1759.3"/><circle cx="901.8" cy="1771.3"/><circle cx="836.4" cy="1754.0"/><circle cx="847.9" cy="1773.9"/><circle cx="846.6" cy="1761.1"/><circle cx="857.7" cy="1754.9"/><circle cx="900.4" cy="1743.8"/><circle cx="919.9" cy="1778.4"/><circle cx="875.3" cy="1788.4"/><circle cx="836.4" cy="1773.7"/><circle cx="909.3" cy="1794.7"/><circle cx="882.3" cy="1785.7"/><circle cx="832.9" cy="1760.7"/><circle cx="923.6" cy="1769.4"/><circle cx="882.4" cy="1765.7"/><circle cx="902.0" cy="1773.3"/><circle cx="858.8" cy="1770.0"/><circle cx="858.4" cy="1777.5"/><circle cx="889.3" cy="1776.1"/><circle cx="825.1" cy="1773.4"/><circle cx="881.1" cy="1769.1"/><circle cx="905.3" cy="1774.7"/><circle cx="893.9" cy="1768.7"/><circle cx="889.4" cy="1743.2"/><circle cx="863.6" cy="1773.7"/><circle cx="871.2" cy="1758.1"/><circle cx="913.6" cy="1797.2"/><circle cx="883.6" cy="1779.2"/><circle cx="880.2" cy="1779.2"/><circle cx="864.9" cy="1737.5"/><circle cx="891.7" cy="1770.3"/><circle cx="900.4" cy="1776.2"/><circle cx="817.1" cy="1744.8"/><circle cx="928.9" cy="1778.4"/><circle cx="906.9" cy="1767.1"/><circle cx="866.7" cy="1782.0"/><circle cx="840.0" cy="1728.6"/><circle cx="941.7" cy="1803.9"/><circle cx="903.8" cy="1764.6"/><circle cx="860.8" cy="1773.3"/><circle cx="843.5" cy="1744.9"/><circle cx="908.5" cy="1778.2"/><circle cx="836.0" cy="1734.1"/><circle cx="890.3" cy="1744.3"/><circle cx="859.4" cy="1787.7"/><circle cx="846.6" cy="1753.0"/><circle cx="849.8" cy="1778.7"/><circle cx="855.3" cy="1768.8"/><circle cx="907.8" cy="1768.7"/><circle cx="892.1" cy="1768.2"/><circle cx="905.1" cy="1791.6"/><circle cx="851.0" cy="1757.5"/><circle cx="916.6" cy="1777.8"/><circle cx="885.1" cy="1779.1"/><circle cx="906.0" cy="1796.8"/><circle cx="862.6" cy="1781.2"/><circle cx="880.6" cy="1797.5"/><circle cx="852.3" cy="1758.8"/><circle cx="910.8" cy="1780.5"/><circle cx="882.9" cy="1767.0"/><circle cx="877.6" cy="1729.8"/><circle cx="865.6" cy="1785.4"/><circle cx="869.2" cy="1791.6"/><circle cx="851.3" cy="1698.0"/><circle cx="878.5" cy="1772.6"/><circle cx="851.1" cy="1748.4"/><circle cx="874.8" cy="1764.5"/><circle cx="891.8" cy="1748.6"/><circle cx="939.6" cy="1797.6"/><circle cx="900.3" cy="1747.5"/><circle cx="837.1" cy="1759.3"/><circle cx="885.1" cy="1787.8"/><circle cx="838.0" cy="1769.5"/><circle cx="859.5" cy="1733.7"/><circle cx="863.9" cy="1743.5"/><circle cx="905.0" cy="1772.5"/><circle cx="912.6" cy="1807.6"/><circle cx="896.3" cy="1774.5"/><circle cx="832.0" cy="1771.3"/><circle cx="879.5" cy="1772.8"/><circle cx="894.1" cy="1787.4"/><circle cx="818.2" cy="1716.9"/><circle cx="877.2" cy="1742.1"/><circle cx="949.1" cy="1791.1"/><circle cx="847.0" cy="1734.7"/><circle cx="858.7" cy="1735.9"/><circle cx="842.0" cy="1760.2"/><circle cx="904.5" cy="1806.9"/><circle cx="907.1" cy="1771.3"/><circle cx="898.4" cy="1777.4"/><circle cx="900.7" cy="1801.7"/><circle cx="859.6" cy="1761.6"/><circle cx="822.1" cy="1754.3"/><circle cx="887.9" cy="1785.8"/><circle cx="826.3" cy="1763.6"/><circle cx="887.8" cy="1792.7"/><circle cx="890.2" cy="1780.5"/><circle cx="888.8" cy="1759.6"/><circle cx="906.2" cy="1801.1"/><circle cx="896.1" cy="1761.5"/><circle cx="844.8" cy="1756.4"/><circle cx="854.6" cy="1766.3"/><circle cx="878.5" cy="1817.0"/><circle cx="856.8" cy="1771.9"/><circle cx="892.5" cy="1785.2"/><circle cx="873.5" cy="1763.2"/><circle cx="886.9" cy="1772.9"/><circle cx="862.9" cy="1739.4"/><circle cx="888.6" cy="1740.6"/><circle cx="836.4" cy="1748.1"/><circle cx="858.9" cy="1764.1"/><circle cx="896.4" cy="1772.3"/><circle cx="863.1" cy="1759.3"/><circle cx="854.8" cy="1755.2"/><circle cx="890.8" cy="1805.3"/><circle cx="903.3" cy="1772.9"/><circle cx="835.6" cy="1780.8"/><circle cx="889.4" cy="1765.2"/><circle cx="893.3" cy="1774.8"/><circle cx="855.3" cy="1759.0"/><circle cx="854.5" cy="1769.0"/><circle cx="864.9" cy="1787.9"/><circle cx="912.0" cy="1803.9"/><circle cx="870.3" cy="1785.4"/><circle cx="916.4" cy="1778.8"/><circle cx="909.1" cy="1784.9"/><circle cx="907.1" cy="1785.6"/><circle cx="886.4" cy="1796.4"/><circle cx="922.6" cy="1829.6"/><circle cx="911.1" cy="1777.6"/><circle cx="893.5" cy="1795.2"/><circle cx="889.5" cy="1788.1"/><circle cx="897.9" cy="1799.5"/><circle cx="893.1" cy="1783.6"/><circle cx="912.5" cy="1811.8"/><circle cx="929.4" cy="1778.5"/><circle cx="890.3" cy="1803.6"/><circle cx="912.5" cy="1820.2"/><circle cx="918.5" cy="1791.3"/><circle cx="907.4" cy="1800.1"/><circle cx="913.2" cy="1784.9"/><circle cx="902.1" cy="1791.0"/><circle cx="917.1" cy="1798.4"/><circle cx="896.3" cy="1755.4"/><circle cx="908.9" cy="1810.5"/><circle cx="899.6" cy="1803.6"/><circle cx="865.0" cy="1804.7"/><circle cx="900.0" cy="1793.5"/><circle cx="905.0" cy="1798.6"/><circle cx="905.6" cy="1813.6"/><circle cx="914.4" cy="1775.6"/><circle cx="888.8" cy="1797.2"/><circle cx="908.5" cy="1793.6"/><circle cx="895.2" cy="1819.3"/><circle cx="862.7" cy="1775.9"/><circle cx="883.7" cy="1801.8"/><circle cx="900.8" cy="1789.2"/><circle cx="911.6" cy="1754.8"/><circle cx="898.0" cy="1813.7"/><circle cx="923.6" cy="1820.5"/><circle cx="897.9" cy="1808.5"/><circle cx="898.4" cy="1790.2"/><circle cx="895.6" cy="1810.0"/><circle cx="895.8" cy="1779.9"/><circle cx="899.3" cy="1783.9"/><circle cx="888.3" cy="1803.5"/><circle cx="905.7" cy="1809.1"/><circle cx="886.2" cy="1815.1"/><circle cx="907.6" cy="1788.9"/><circle cx="904.6" cy="1804.1"/><circle cx="886.5" cy="1797.2"/><circle cx="904.2" cy="1812.9"/><circle cx="928.6" cy="1793.3"/><circle cx="898.9" cy="1796.6"/><circle cx="908.1" cy="1793.6"/><circle cx="914.1" cy="1809.5"/><circle cx="904.2" cy="1838.9"/><circle cx="902.5" cy="1807.2"/><circle cx="891.6" cy="1814.5"/><circle cx="906.1" cy="1807.6"/><circle cx="890.6" cy="1787.1"/><circle cx="890.8" cy="1796.2"/><circle cx="895.5" cy="1794.2"/><circle cx="908.6" cy="1798.4"/><circle cx="883.8" cy="1800.8"/><circle cx="902.8" cy="1805.5"/><circle cx="784.3" cy="1724.0"/><circle cx="748.0" cy="1733.0"/><circle cx="786.2" cy="1738.3"/><circle cx="804.2" cy="1755.3"/><circle cx="829.7" cy="1754.8"/><circle cx="809.0" cy="1729.0"/><circle cx="806.5" cy="1757.7"/><circle cx="826.2" cy="1741.0"/><circle cx="832.3" cy="1734.1"/><circle cx="790.4" cy="1716.7"/><circle cx="793.8" cy="1742.2"/><circle cx="817.4" cy="1740.0"/><circle cx="790.4" cy="1729.6"/><circle cx="787.2" cy="1715.5"/><circle cx="786.0" cy="1758.0"/><circle cx="797.8" cy="1747.7"/><circle cx="819.7" cy="1760.9"/><circle cx="788.8" cy="1737.9"/><circle cx="777.0" cy="1745.7"/><circle cx="794.4" cy="1731.5"/><circle cx="813.8" cy="1762.9"/><circle cx="761.7" cy="1724.1"/><circle cx="810.3" cy="1738.6"/><circle cx="820.4" cy="1758.4"/><circle cx="790.7" cy="1742.1"/><circle cx="786.9" cy="1739.8"/><circle cx="782.5" cy="1713.2"/><circle cx="785.4" cy="1722.4"/><circle cx="803.9" cy="1725.5"/><circle cx="832.7" cy="1743.6"/><circle cx="813.2" cy="1747.0"/><circle cx="797.0" cy="1726.4"/><circle cx="769.2" cy="1727.9"/><circle cx="779.5" cy="1718.6"/><circle cx="826.8" cy="1746.9"/><circle cx="767.5" cy="1734.3"/><circle cx="818.0" cy="1762.2"/><circle cx="796.1" cy="1762.7"/><circle cx="822.4" cy="1752.4"/><circle cx="807.9" cy="1747.6"/><circle cx="781.9" cy="1752.3"/><circle cx="807.4" cy="1723.4"/><circle cx="796.3" cy="1725.7"/><circle cx="769.0" cy="1739.9"/><circle cx="790.8" cy="1750.3"/><circle cx="790.0" cy="1760.9"/><circle cx="767.6" cy="1750.2"/><circle cx="786.7" cy="1756.0"/><circle cx="812.2" cy="1756.6"/><circle cx="799.3" cy="1741.6"/><circle cx="769.6" cy="1744.2"/><circle cx="841.7" cy="1734.7"/><circle cx="606.2" cy="1704.5"/><circle cx="721.2" cy="1723.2"/><circle cx="727.1" cy="1707.1"/><circle cx="738.9" cy="1727.2"/><circle cx="745.8" cy="1712.8"/><circle cx="748.8" cy="1736.1"/><circle cx="716.8" cy="1745.9"/><circle cx="733.0" cy="1752.2"/><circle cx="742.9" cy="1763.7"/><circle cx="756.7" cy="1766.2"/><circle cx="778.0" cy="1763.7"/><circle cx="794.1" cy="1769.6"/><circle cx="759.6" cy="1714.8"/><circle cx="765.1" cy="1708.5"/><circle cx="802.0" cy="1702.9"/><circle cx="811.3" cy="1702.9"/><circle cx="823.1" cy="1702.9"/><circle cx="826.7" cy="1691.3"/><circle cx="846.0" cy="1707.5"/><circle cx="865.1" cy="1711.8"/><circle cx="884.8" cy="1718.7"/><circle cx="934.1" cy="1736.5"/><circle cx="931.2" cy="1755.8"/><circle cx="936.7" cy="1786.9"/><circle cx="948.5" cy="1793.7"/><circle cx="958.8" cy="1795.2"/><circle cx="936.7" cy="1812.0"/><circle cx="948.5" cy="1817.9"/><circle cx="954.8" cy="1819.9"/><circle cx="932.2" cy="1837.0"/><circle cx="910.5" cy="1839.6"/><circle cx="916.4" cy="1832.3"/><circle cx="902.6" cy="1835.1"/><circle cx="901.6" cy="1827.8"/><circle cx="887.2" cy="1843.5"/><circle cx="887.2" cy="1868.2"/><circle cx="875.0" cy="1822.8"/><circle cx="853.9" cy="1819.9"/><circle cx="862.6" cy="1816.5"/><circle cx="838.1" cy="1798.2"/><circle cx="844.8" cy="1796.8"/><circle cx="809.9" cy="1795.2"/><circle cx="809.9" cy="1791.3"/><circle cx="821.7" cy="1786.0"/><circle cx="919.4" cy="1815.9"/><circle cx="919.7" cy="1816.5"/></g><rect class="bx" x="592.1" y="1600.5" width="380.1" height="319.4"/><line class="rl" x1="592.1" y1="1670.1" x2="972.2" y2="1806.8"/></g></g></svg></body></html>
